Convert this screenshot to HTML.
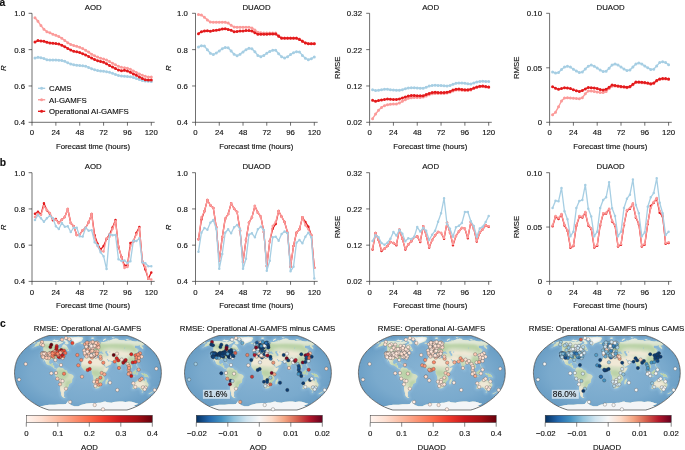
<!DOCTYPE html>
<html lang="en"><head><meta charset="utf-8"><title>Figure</title>
<style>html,body{margin:0;padding:0;background:#fff}svg{display:block;opacity:0.9999;will-change:transform}text{stroke:#111;stroke-width:0.14px}</style></head>
<body>
<svg width="685" height="450" viewBox="0 0 685 450" font-family="'Liberation Sans', Arial, Helvetica, sans-serif" font-size="7.8" fill="#111">
<rect width="685" height="450" fill="#fff"/>
<g stroke="#222" stroke-width="0.65" fill="none">
<path d="M32 13.3V122.3H154.7"/>
<path d="M32 13.3h-3.4M32 49.63h-3.4M32 85.97h-3.4M32 122.3h-3.4M32 122.3v3.4M55.86 122.3v3.4M79.72 122.3v3.4M103.58 122.3v3.4M127.44 122.3v3.4M151.3 122.3v3.4"/>
</g>
<g text-anchor="end">
<text x="25.1" y="16.2">1.0</text>
<text x="25.1" y="52.53">0.8</text>
<text x="25.1" y="88.87">0.6</text>
<text x="25.1" y="125.2">0.4</text>
</g>
<g text-anchor="middle">
<text x="32" y="135.45">0</text>
<text x="55.86" y="135.45">24</text>
<text x="79.72" y="135.45">48</text>
<text x="103.58" y="135.45">72</text>
<text x="127.44" y="135.45">96</text>
<text x="151.3" y="135.45">120</text>
<text x="92.95" y="148.55">Forecast time (hours)</text>
<text x="93.25" y="9.7">AOD</text>
<text transform="translate(5.7 68.2) rotate(-90)" font-style="italic">R</text>
</g>
<g stroke="#222" stroke-width="0.65" fill="none">
<path d="M195.5 13.3V122.3H317.7"/>
<path d="M195.5 13.3h-3.4M195.5 49.63h-3.4M195.5 85.97h-3.4M195.5 122.3h-3.4M195.5 122.3v3.4M219.26 122.3v3.4M243.02 122.3v3.4M266.78 122.3v3.4M290.54 122.3v3.4M314.3 122.3v3.4"/>
</g>
<g text-anchor="end">
<text x="187.9" y="16.2">1.0</text>
<text x="187.9" y="52.53">0.8</text>
<text x="187.9" y="88.87">0.6</text>
<text x="187.9" y="125.2">0.4</text>
</g>
<g text-anchor="middle">
<text x="195.5" y="135.45">0</text>
<text x="219.26" y="135.45">24</text>
<text x="243.02" y="135.45">48</text>
<text x="266.78" y="135.45">72</text>
<text x="290.54" y="135.45">96</text>
<text x="314.3" y="135.45">120</text>
<text x="256.2" y="148.55">Forecast time (hours)</text>
<text x="256.5" y="9.7">DUAOD</text>
<text transform="translate(171 68.2) rotate(-90)" font-style="italic">R</text>
</g>
<g stroke="#222" stroke-width="0.65" fill="none">
<path d="M369.6 13.3V122.3H491.8"/>
<path d="M369.6 13.3h-3.4M369.6 49.63h-3.4M369.6 85.97h-3.4M369.6 122.3h-3.4M369.6 122.3v3.4M393.42 122.3v3.4M417.24 122.3v3.4M441.06 122.3v3.4M464.88 122.3v3.4M488.7 122.3v3.4"/>
</g>
<g text-anchor="end">
<text x="362" y="16.2">0.32</text>
<text x="362" y="52.53">0.22</text>
<text x="362" y="88.87">0.12</text>
<text x="362" y="125.2">0.02</text>
</g>
<g text-anchor="middle">
<text x="369.6" y="135.45">0</text>
<text x="393.42" y="135.45">24</text>
<text x="417.24" y="135.45">48</text>
<text x="441.06" y="135.45">72</text>
<text x="464.88" y="135.45">96</text>
<text x="488.7" y="135.45">120</text>
<text x="430.3" y="148.55">Forecast time (hours)</text>
<text x="430.6" y="9.7">AOD</text>
<text transform="translate(340.3 67.8) rotate(-90)">RMSE</text>
</g>
<g stroke="#222" stroke-width="0.65" fill="none">
<path d="M549.6 13.3V122.3H671.8"/>
<path d="M549.6 13.3h-3.4M549.6 67.8h-3.4M549.6 122.3h-3.4M549.6 122.3v3.4M573.4 122.3v3.4M597.2 122.3v3.4M621 122.3v3.4M644.8 122.3v3.4M668.6 122.3v3.4"/>
</g>
<g text-anchor="end">
<text x="542" y="16.2">0.10</text>
<text x="542" y="70.7">0.05</text>
<text x="542" y="125.2">0</text>
</g>
<g text-anchor="middle">
<text x="549.6" y="135.45">0</text>
<text x="573.4" y="135.45">24</text>
<text x="597.2" y="135.45">48</text>
<text x="621" y="135.45">72</text>
<text x="644.8" y="135.45">96</text>
<text x="668.6" y="135.45">120</text>
<text x="610.3" y="148.55">Forecast time (hours)</text>
<text x="610.6" y="9.7">DUAOD</text>
<text transform="translate(519.4 67.8) rotate(-90)">RMSE</text>
</g>
<g stroke="#a6cee3" fill="#a6cee3">
<polyline fill="none" stroke-width="1.4" stroke-linejoin="round" points="34.98,58 37.97,57.31 40.95,57.69 43.93,58.59 46.91,59.67 49.9,59.96 52.88,60 55.86,60 58.84,60.18 61.83,60.54 64.81,61.37 67.79,62.78 70.77,64.04 73.75,64.77 76.74,65.13 79.72,65.49 82.7,65.85 85.69,66.2 88.67,67.46 91.65,68.72 94.63,69.82 97.62,70.57 100.6,70.9 103.58,71.17 106.56,71.63 109.55,72.37 112.53,73.33 115.51,74.47 118.49,75.43 121.48,75.96 124.46,76.25 127.44,76.52 130.42,76.85 133.41,77.52 136.39,78.55 139.37,79.61 142.35,80.44 145.34,81.03 148.32,81.3 151.3,81.39"/>
<path stroke="none" d="M33.48 58a1.5 1.5 0 1 0 3 0a1.5 1.5 0 1 0 -3 0M36.47 57.31a1.5 1.5 0 1 0 3 0a1.5 1.5 0 1 0 -3 0M39.45 57.69a1.5 1.5 0 1 0 3 0a1.5 1.5 0 1 0 -3 0M42.43 58.59a1.5 1.5 0 1 0 3 0a1.5 1.5 0 1 0 -3 0M45.41 59.67a1.5 1.5 0 1 0 3 0a1.5 1.5 0 1 0 -3 0M48.4 59.96a1.5 1.5 0 1 0 3 0a1.5 1.5 0 1 0 -3 0M51.38 60a1.5 1.5 0 1 0 3 0a1.5 1.5 0 1 0 -3 0M54.36 60a1.5 1.5 0 1 0 3 0a1.5 1.5 0 1 0 -3 0M57.34 60.18a1.5 1.5 0 1 0 3 0a1.5 1.5 0 1 0 -3 0M60.33 60.54a1.5 1.5 0 1 0 3 0a1.5 1.5 0 1 0 -3 0M63.31 61.37a1.5 1.5 0 1 0 3 0a1.5 1.5 0 1 0 -3 0M66.29 62.78a1.5 1.5 0 1 0 3 0a1.5 1.5 0 1 0 -3 0M69.27 64.04a1.5 1.5 0 1 0 3 0a1.5 1.5 0 1 0 -3 0M72.25 64.77a1.5 1.5 0 1 0 3 0a1.5 1.5 0 1 0 -3 0M75.24 65.13a1.5 1.5 0 1 0 3 0a1.5 1.5 0 1 0 -3 0M78.22 65.49a1.5 1.5 0 1 0 3 0a1.5 1.5 0 1 0 -3 0M81.2 65.85a1.5 1.5 0 1 0 3 0a1.5 1.5 0 1 0 -3 0M84.19 66.2a1.5 1.5 0 1 0 3 0a1.5 1.5 0 1 0 -3 0M87.17 67.46a1.5 1.5 0 1 0 3 0a1.5 1.5 0 1 0 -3 0M90.15 68.72a1.5 1.5 0 1 0 3 0a1.5 1.5 0 1 0 -3 0M93.13 69.82a1.5 1.5 0 1 0 3 0a1.5 1.5 0 1 0 -3 0M96.12 70.57a1.5 1.5 0 1 0 3 0a1.5 1.5 0 1 0 -3 0M99.1 70.9a1.5 1.5 0 1 0 3 0a1.5 1.5 0 1 0 -3 0M102.08 71.17a1.5 1.5 0 1 0 3 0a1.5 1.5 0 1 0 -3 0M105.06 71.63a1.5 1.5 0 1 0 3 0a1.5 1.5 0 1 0 -3 0M108.05 72.37a1.5 1.5 0 1 0 3 0a1.5 1.5 0 1 0 -3 0M111.03 73.33a1.5 1.5 0 1 0 3 0a1.5 1.5 0 1 0 -3 0M114.01 74.47a1.5 1.5 0 1 0 3 0a1.5 1.5 0 1 0 -3 0M116.99 75.43a1.5 1.5 0 1 0 3 0a1.5 1.5 0 1 0 -3 0M119.98 75.96a1.5 1.5 0 1 0 3 0a1.5 1.5 0 1 0 -3 0M122.96 76.25a1.5 1.5 0 1 0 3 0a1.5 1.5 0 1 0 -3 0M125.94 76.52a1.5 1.5 0 1 0 3 0a1.5 1.5 0 1 0 -3 0M128.92 76.85a1.5 1.5 0 1 0 3 0a1.5 1.5 0 1 0 -3 0M131.91 77.52a1.5 1.5 0 1 0 3 0a1.5 1.5 0 1 0 -3 0M134.89 78.55a1.5 1.5 0 1 0 3 0a1.5 1.5 0 1 0 -3 0M137.87 79.61a1.5 1.5 0 1 0 3 0a1.5 1.5 0 1 0 -3 0M140.85 80.44a1.5 1.5 0 1 0 3 0a1.5 1.5 0 1 0 -3 0M143.84 81.03a1.5 1.5 0 1 0 3 0a1.5 1.5 0 1 0 -3 0M146.82 81.3a1.5 1.5 0 1 0 3 0a1.5 1.5 0 1 0 -3 0M149.8 81.39a1.5 1.5 0 1 0 3 0a1.5 1.5 0 1 0 -3 0"/>
</g>
<g stroke="#fb9a99" fill="#fb9a99">
<polyline fill="none" stroke-width="1.4" stroke-linejoin="round" points="34.98,17.7 37.97,21.29 40.95,25.62 43.93,29.25 46.91,31.64 49.9,32.84 52.88,34.21 55.86,35.32 58.84,36.59 61.83,38.29 64.81,40.48 67.79,42.8 70.77,44.4 73.75,45.43 76.74,46.31 79.72,47.28 82.7,48.54 85.69,50.29 88.67,52.1 91.65,54.15 94.63,55.77 97.62,57.11 100.6,58.14 103.58,58.88 106.56,60.05 109.55,61.62 112.53,63.18 115.51,64.86 118.49,66.36 121.48,67.33 124.46,67.65 127.44,68.14 130.42,69.36 133.41,70.88 136.39,72.41 139.37,73.9 142.35,75.26 145.34,76.37 148.32,77 151.3,77"/>
<path stroke="none" d="M33.48 17.7a1.5 1.5 0 1 0 3 0a1.5 1.5 0 1 0 -3 0M36.47 21.29a1.5 1.5 0 1 0 3 0a1.5 1.5 0 1 0 -3 0M39.45 25.62a1.5 1.5 0 1 0 3 0a1.5 1.5 0 1 0 -3 0M42.43 29.25a1.5 1.5 0 1 0 3 0a1.5 1.5 0 1 0 -3 0M45.41 31.64a1.5 1.5 0 1 0 3 0a1.5 1.5 0 1 0 -3 0M48.4 32.84a1.5 1.5 0 1 0 3 0a1.5 1.5 0 1 0 -3 0M51.38 34.21a1.5 1.5 0 1 0 3 0a1.5 1.5 0 1 0 -3 0M54.36 35.32a1.5 1.5 0 1 0 3 0a1.5 1.5 0 1 0 -3 0M57.34 36.59a1.5 1.5 0 1 0 3 0a1.5 1.5 0 1 0 -3 0M60.33 38.29a1.5 1.5 0 1 0 3 0a1.5 1.5 0 1 0 -3 0M63.31 40.48a1.5 1.5 0 1 0 3 0a1.5 1.5 0 1 0 -3 0M66.29 42.8a1.5 1.5 0 1 0 3 0a1.5 1.5 0 1 0 -3 0M69.27 44.4a1.5 1.5 0 1 0 3 0a1.5 1.5 0 1 0 -3 0M72.25 45.43a1.5 1.5 0 1 0 3 0a1.5 1.5 0 1 0 -3 0M75.24 46.31a1.5 1.5 0 1 0 3 0a1.5 1.5 0 1 0 -3 0M78.22 47.28a1.5 1.5 0 1 0 3 0a1.5 1.5 0 1 0 -3 0M81.2 48.54a1.5 1.5 0 1 0 3 0a1.5 1.5 0 1 0 -3 0M84.19 50.29a1.5 1.5 0 1 0 3 0a1.5 1.5 0 1 0 -3 0M87.17 52.1a1.5 1.5 0 1 0 3 0a1.5 1.5 0 1 0 -3 0M90.15 54.15a1.5 1.5 0 1 0 3 0a1.5 1.5 0 1 0 -3 0M93.13 55.77a1.5 1.5 0 1 0 3 0a1.5 1.5 0 1 0 -3 0M96.12 57.11a1.5 1.5 0 1 0 3 0a1.5 1.5 0 1 0 -3 0M99.1 58.14a1.5 1.5 0 1 0 3 0a1.5 1.5 0 1 0 -3 0M102.08 58.88a1.5 1.5 0 1 0 3 0a1.5 1.5 0 1 0 -3 0M105.06 60.05a1.5 1.5 0 1 0 3 0a1.5 1.5 0 1 0 -3 0M108.05 61.62a1.5 1.5 0 1 0 3 0a1.5 1.5 0 1 0 -3 0M111.03 63.18a1.5 1.5 0 1 0 3 0a1.5 1.5 0 1 0 -3 0M114.01 64.86a1.5 1.5 0 1 0 3 0a1.5 1.5 0 1 0 -3 0M116.99 66.36a1.5 1.5 0 1 0 3 0a1.5 1.5 0 1 0 -3 0M119.98 67.33a1.5 1.5 0 1 0 3 0a1.5 1.5 0 1 0 -3 0M122.96 67.65a1.5 1.5 0 1 0 3 0a1.5 1.5 0 1 0 -3 0M125.94 68.14a1.5 1.5 0 1 0 3 0a1.5 1.5 0 1 0 -3 0M128.92 69.36a1.5 1.5 0 1 0 3 0a1.5 1.5 0 1 0 -3 0M131.91 70.88a1.5 1.5 0 1 0 3 0a1.5 1.5 0 1 0 -3 0M134.89 72.41a1.5 1.5 0 1 0 3 0a1.5 1.5 0 1 0 -3 0M137.87 73.9a1.5 1.5 0 1 0 3 0a1.5 1.5 0 1 0 -3 0M140.85 75.26a1.5 1.5 0 1 0 3 0a1.5 1.5 0 1 0 -3 0M143.84 76.37a1.5 1.5 0 1 0 3 0a1.5 1.5 0 1 0 -3 0M146.82 77a1.5 1.5 0 1 0 3 0a1.5 1.5 0 1 0 -3 0M149.8 77a1.5 1.5 0 1 0 3 0a1.5 1.5 0 1 0 -3 0"/>
</g>
<g stroke="#e31a1c" fill="#e31a1c">
<polyline fill="none" stroke-width="1.4" stroke-linejoin="round" points="34.98,42 37.97,40.62 40.95,40.99 43.93,41.27 46.91,42.27 49.9,42.91 52.88,43.3 55.86,43.6 58.84,44.11 61.83,45.2 64.81,46.84 67.79,48.41 70.77,50.05 73.75,51.29 76.74,51.86 79.72,52.53 82.7,53.67 85.69,54.99 88.67,56.5 91.65,58.03 94.63,59.53 97.62,60.67 100.6,61.4 103.58,62.13 106.56,63.83 109.55,65.62 112.53,67.1 115.51,68.56 118.49,70.04 121.48,70.65 124.46,70.37 127.44,71.04 130.42,72.36 133.41,73.88 136.39,75.37 139.37,76.93 142.35,78.58 145.34,79.73 148.32,80 151.3,80"/>
<path stroke="none" d="M33.48 42a1.5 1.5 0 1 0 3 0a1.5 1.5 0 1 0 -3 0M36.47 40.62a1.5 1.5 0 1 0 3 0a1.5 1.5 0 1 0 -3 0M39.45 40.99a1.5 1.5 0 1 0 3 0a1.5 1.5 0 1 0 -3 0M42.43 41.27a1.5 1.5 0 1 0 3 0a1.5 1.5 0 1 0 -3 0M45.41 42.27a1.5 1.5 0 1 0 3 0a1.5 1.5 0 1 0 -3 0M48.4 42.91a1.5 1.5 0 1 0 3 0a1.5 1.5 0 1 0 -3 0M51.38 43.3a1.5 1.5 0 1 0 3 0a1.5 1.5 0 1 0 -3 0M54.36 43.6a1.5 1.5 0 1 0 3 0a1.5 1.5 0 1 0 -3 0M57.34 44.11a1.5 1.5 0 1 0 3 0a1.5 1.5 0 1 0 -3 0M60.33 45.2a1.5 1.5 0 1 0 3 0a1.5 1.5 0 1 0 -3 0M63.31 46.84a1.5 1.5 0 1 0 3 0a1.5 1.5 0 1 0 -3 0M66.29 48.41a1.5 1.5 0 1 0 3 0a1.5 1.5 0 1 0 -3 0M69.27 50.05a1.5 1.5 0 1 0 3 0a1.5 1.5 0 1 0 -3 0M72.25 51.29a1.5 1.5 0 1 0 3 0a1.5 1.5 0 1 0 -3 0M75.24 51.86a1.5 1.5 0 1 0 3 0a1.5 1.5 0 1 0 -3 0M78.22 52.53a1.5 1.5 0 1 0 3 0a1.5 1.5 0 1 0 -3 0M81.2 53.67a1.5 1.5 0 1 0 3 0a1.5 1.5 0 1 0 -3 0M84.19 54.99a1.5 1.5 0 1 0 3 0a1.5 1.5 0 1 0 -3 0M87.17 56.5a1.5 1.5 0 1 0 3 0a1.5 1.5 0 1 0 -3 0M90.15 58.03a1.5 1.5 0 1 0 3 0a1.5 1.5 0 1 0 -3 0M93.13 59.53a1.5 1.5 0 1 0 3 0a1.5 1.5 0 1 0 -3 0M96.12 60.67a1.5 1.5 0 1 0 3 0a1.5 1.5 0 1 0 -3 0M99.1 61.4a1.5 1.5 0 1 0 3 0a1.5 1.5 0 1 0 -3 0M102.08 62.13a1.5 1.5 0 1 0 3 0a1.5 1.5 0 1 0 -3 0M105.06 63.83a1.5 1.5 0 1 0 3 0a1.5 1.5 0 1 0 -3 0M108.05 65.62a1.5 1.5 0 1 0 3 0a1.5 1.5 0 1 0 -3 0M111.03 67.1a1.5 1.5 0 1 0 3 0a1.5 1.5 0 1 0 -3 0M114.01 68.56a1.5 1.5 0 1 0 3 0a1.5 1.5 0 1 0 -3 0M116.99 70.04a1.5 1.5 0 1 0 3 0a1.5 1.5 0 1 0 -3 0M119.98 70.65a1.5 1.5 0 1 0 3 0a1.5 1.5 0 1 0 -3 0M122.96 70.37a1.5 1.5 0 1 0 3 0a1.5 1.5 0 1 0 -3 0M125.94 71.04a1.5 1.5 0 1 0 3 0a1.5 1.5 0 1 0 -3 0M128.92 72.36a1.5 1.5 0 1 0 3 0a1.5 1.5 0 1 0 -3 0M131.91 73.88a1.5 1.5 0 1 0 3 0a1.5 1.5 0 1 0 -3 0M134.89 75.37a1.5 1.5 0 1 0 3 0a1.5 1.5 0 1 0 -3 0M137.87 76.93a1.5 1.5 0 1 0 3 0a1.5 1.5 0 1 0 -3 0M140.85 78.58a1.5 1.5 0 1 0 3 0a1.5 1.5 0 1 0 -3 0M143.84 79.73a1.5 1.5 0 1 0 3 0a1.5 1.5 0 1 0 -3 0M146.82 80a1.5 1.5 0 1 0 3 0a1.5 1.5 0 1 0 -3 0M149.8 80a1.5 1.5 0 1 0 3 0a1.5 1.5 0 1 0 -3 0"/>
</g>
<g stroke="#a6cee3" fill="#a6cee3">
<polyline fill="none" stroke-width="1.4" stroke-linejoin="round" points="198.47,47 201.44,45.7 204.41,46.1 207.38,49.7 210.35,53.3 213.32,54.6 216.29,53 219.26,51 222.23,48.7 225.2,47.4 228.17,47.7 231.14,51 234.11,54.3 237.08,55.7 240.05,54.3 243.02,51.9 245.99,49.7 248.96,48.3 251.93,48.7 254.9,51.7 257.87,55.4 260.84,56.7 263.81,55.4 266.78,53.2 269.75,51.4 272.72,50.3 275.69,50.3 278.66,53.7 281.63,56.7 284.6,58.1 287.57,56.7 290.54,54.6 293.51,52.7 296.48,51.7 299.45,51.9 302.42,55.4 305.39,58.3 308.36,59.7 311.33,58.7 314.3,57"/>
<path stroke="none" d="M196.97 47a1.5 1.5 0 1 0 3 0a1.5 1.5 0 1 0 -3 0M199.94 45.7a1.5 1.5 0 1 0 3 0a1.5 1.5 0 1 0 -3 0M202.91 46.1a1.5 1.5 0 1 0 3 0a1.5 1.5 0 1 0 -3 0M205.88 49.7a1.5 1.5 0 1 0 3 0a1.5 1.5 0 1 0 -3 0M208.85 53.3a1.5 1.5 0 1 0 3 0a1.5 1.5 0 1 0 -3 0M211.82 54.6a1.5 1.5 0 1 0 3 0a1.5 1.5 0 1 0 -3 0M214.79 53a1.5 1.5 0 1 0 3 0a1.5 1.5 0 1 0 -3 0M217.76 51a1.5 1.5 0 1 0 3 0a1.5 1.5 0 1 0 -3 0M220.73 48.7a1.5 1.5 0 1 0 3 0a1.5 1.5 0 1 0 -3 0M223.7 47.4a1.5 1.5 0 1 0 3 0a1.5 1.5 0 1 0 -3 0M226.67 47.7a1.5 1.5 0 1 0 3 0a1.5 1.5 0 1 0 -3 0M229.64 51a1.5 1.5 0 1 0 3 0a1.5 1.5 0 1 0 -3 0M232.61 54.3a1.5 1.5 0 1 0 3 0a1.5 1.5 0 1 0 -3 0M235.58 55.7a1.5 1.5 0 1 0 3 0a1.5 1.5 0 1 0 -3 0M238.55 54.3a1.5 1.5 0 1 0 3 0a1.5 1.5 0 1 0 -3 0M241.52 51.9a1.5 1.5 0 1 0 3 0a1.5 1.5 0 1 0 -3 0M244.49 49.7a1.5 1.5 0 1 0 3 0a1.5 1.5 0 1 0 -3 0M247.46 48.3a1.5 1.5 0 1 0 3 0a1.5 1.5 0 1 0 -3 0M250.43 48.7a1.5 1.5 0 1 0 3 0a1.5 1.5 0 1 0 -3 0M253.4 51.7a1.5 1.5 0 1 0 3 0a1.5 1.5 0 1 0 -3 0M256.37 55.4a1.5 1.5 0 1 0 3 0a1.5 1.5 0 1 0 -3 0M259.34 56.7a1.5 1.5 0 1 0 3 0a1.5 1.5 0 1 0 -3 0M262.31 55.4a1.5 1.5 0 1 0 3 0a1.5 1.5 0 1 0 -3 0M265.28 53.2a1.5 1.5 0 1 0 3 0a1.5 1.5 0 1 0 -3 0M268.25 51.4a1.5 1.5 0 1 0 3 0a1.5 1.5 0 1 0 -3 0M271.22 50.3a1.5 1.5 0 1 0 3 0a1.5 1.5 0 1 0 -3 0M274.19 50.3a1.5 1.5 0 1 0 3 0a1.5 1.5 0 1 0 -3 0M277.16 53.7a1.5 1.5 0 1 0 3 0a1.5 1.5 0 1 0 -3 0M280.13 56.7a1.5 1.5 0 1 0 3 0a1.5 1.5 0 1 0 -3 0M283.1 58.1a1.5 1.5 0 1 0 3 0a1.5 1.5 0 1 0 -3 0M286.07 56.7a1.5 1.5 0 1 0 3 0a1.5 1.5 0 1 0 -3 0M289.04 54.6a1.5 1.5 0 1 0 3 0a1.5 1.5 0 1 0 -3 0M292.01 52.7a1.5 1.5 0 1 0 3 0a1.5 1.5 0 1 0 -3 0M294.98 51.7a1.5 1.5 0 1 0 3 0a1.5 1.5 0 1 0 -3 0M297.95 51.9a1.5 1.5 0 1 0 3 0a1.5 1.5 0 1 0 -3 0M300.92 55.4a1.5 1.5 0 1 0 3 0a1.5 1.5 0 1 0 -3 0M303.89 58.3a1.5 1.5 0 1 0 3 0a1.5 1.5 0 1 0 -3 0M306.86 59.7a1.5 1.5 0 1 0 3 0a1.5 1.5 0 1 0 -3 0M309.83 58.7a1.5 1.5 0 1 0 3 0a1.5 1.5 0 1 0 -3 0M312.8 57a1.5 1.5 0 1 0 3 0a1.5 1.5 0 1 0 -3 0"/>
</g>
<g stroke="#fb9a99" fill="#fb9a99">
<polyline fill="none" stroke-width="1.4" stroke-linejoin="round" points="198.47,14.6 201.44,15 204.41,17.3 207.38,19.9 210.35,22.1 213.32,22.3 216.29,22.3 219.26,22.3 222.23,22.2 225.2,22.2 228.17,23 231.14,25.3 234.11,27 237.08,27.3 240.05,27.3 243.02,27.3 245.99,27.3 248.96,27.3 251.93,27.9 254.9,30 257.87,32.3 260.84,32.8 263.81,32.9 266.78,32.9 269.75,33 272.72,33 275.69,33.1 278.66,35.6 281.63,37.8 284.6,37.9 287.57,37.9 290.54,37.9 293.51,37.9 296.48,37.9 299.45,39.1 302.42,41 305.39,42.7 308.36,43.4 311.33,43.5 314.3,43.5"/>
<path stroke="none" d="M196.97 14.6a1.5 1.5 0 1 0 3 0a1.5 1.5 0 1 0 -3 0M199.94 15a1.5 1.5 0 1 0 3 0a1.5 1.5 0 1 0 -3 0M202.91 17.3a1.5 1.5 0 1 0 3 0a1.5 1.5 0 1 0 -3 0M205.88 19.9a1.5 1.5 0 1 0 3 0a1.5 1.5 0 1 0 -3 0M208.85 22.1a1.5 1.5 0 1 0 3 0a1.5 1.5 0 1 0 -3 0M211.82 22.3a1.5 1.5 0 1 0 3 0a1.5 1.5 0 1 0 -3 0M214.79 22.3a1.5 1.5 0 1 0 3 0a1.5 1.5 0 1 0 -3 0M217.76 22.3a1.5 1.5 0 1 0 3 0a1.5 1.5 0 1 0 -3 0M220.73 22.2a1.5 1.5 0 1 0 3 0a1.5 1.5 0 1 0 -3 0M223.7 22.2a1.5 1.5 0 1 0 3 0a1.5 1.5 0 1 0 -3 0M226.67 23a1.5 1.5 0 1 0 3 0a1.5 1.5 0 1 0 -3 0M229.64 25.3a1.5 1.5 0 1 0 3 0a1.5 1.5 0 1 0 -3 0M232.61 27a1.5 1.5 0 1 0 3 0a1.5 1.5 0 1 0 -3 0M235.58 27.3a1.5 1.5 0 1 0 3 0a1.5 1.5 0 1 0 -3 0M238.55 27.3a1.5 1.5 0 1 0 3 0a1.5 1.5 0 1 0 -3 0M241.52 27.3a1.5 1.5 0 1 0 3 0a1.5 1.5 0 1 0 -3 0M244.49 27.3a1.5 1.5 0 1 0 3 0a1.5 1.5 0 1 0 -3 0M247.46 27.3a1.5 1.5 0 1 0 3 0a1.5 1.5 0 1 0 -3 0M250.43 27.9a1.5 1.5 0 1 0 3 0a1.5 1.5 0 1 0 -3 0M253.4 30a1.5 1.5 0 1 0 3 0a1.5 1.5 0 1 0 -3 0M256.37 32.3a1.5 1.5 0 1 0 3 0a1.5 1.5 0 1 0 -3 0M259.34 32.8a1.5 1.5 0 1 0 3 0a1.5 1.5 0 1 0 -3 0M262.31 32.9a1.5 1.5 0 1 0 3 0a1.5 1.5 0 1 0 -3 0M265.28 32.9a1.5 1.5 0 1 0 3 0a1.5 1.5 0 1 0 -3 0M268.25 33a1.5 1.5 0 1 0 3 0a1.5 1.5 0 1 0 -3 0M271.22 33a1.5 1.5 0 1 0 3 0a1.5 1.5 0 1 0 -3 0M274.19 33.1a1.5 1.5 0 1 0 3 0a1.5 1.5 0 1 0 -3 0M277.16 35.6a1.5 1.5 0 1 0 3 0a1.5 1.5 0 1 0 -3 0M280.13 37.8a1.5 1.5 0 1 0 3 0a1.5 1.5 0 1 0 -3 0M283.1 37.9a1.5 1.5 0 1 0 3 0a1.5 1.5 0 1 0 -3 0M286.07 37.9a1.5 1.5 0 1 0 3 0a1.5 1.5 0 1 0 -3 0M289.04 37.9a1.5 1.5 0 1 0 3 0a1.5 1.5 0 1 0 -3 0M292.01 37.9a1.5 1.5 0 1 0 3 0a1.5 1.5 0 1 0 -3 0M294.98 37.9a1.5 1.5 0 1 0 3 0a1.5 1.5 0 1 0 -3 0M297.95 39.1a1.5 1.5 0 1 0 3 0a1.5 1.5 0 1 0 -3 0M300.92 41a1.5 1.5 0 1 0 3 0a1.5 1.5 0 1 0 -3 0M303.89 42.7a1.5 1.5 0 1 0 3 0a1.5 1.5 0 1 0 -3 0M306.86 43.4a1.5 1.5 0 1 0 3 0a1.5 1.5 0 1 0 -3 0M309.83 43.5a1.5 1.5 0 1 0 3 0a1.5 1.5 0 1 0 -3 0M312.8 43.5a1.5 1.5 0 1 0 3 0a1.5 1.5 0 1 0 -3 0"/>
</g>
<g stroke="#e31a1c" fill="#e31a1c">
<polyline fill="none" stroke-width="1.4" stroke-linejoin="round" points="198.47,33.7 201.44,31.7 204.41,31 207.38,30.7 210.35,31.3 213.32,30.6 216.29,30.3 219.26,29.7 222.23,29 225.2,28.7 228.17,29.4 231.14,30.3 234.11,31.7 237.08,31.4 240.05,31.1 243.02,30.9 245.99,30.6 248.96,30.6 251.93,31.1 254.9,32.7 257.87,34.3 260.84,34.2 263.81,34.2 266.78,34.2 269.75,34.1 272.72,34.1 275.69,34.1 278.66,36.3 281.63,38.3 284.6,38.3 287.57,38.3 290.54,38.3 293.51,38.3 296.48,38.3 299.45,39.4 302.42,41.3 305.39,43 308.36,43.7 311.33,43.7 314.3,43.7"/>
<path stroke="none" d="M196.97 33.7a1.5 1.5 0 1 0 3 0a1.5 1.5 0 1 0 -3 0M199.94 31.7a1.5 1.5 0 1 0 3 0a1.5 1.5 0 1 0 -3 0M202.91 31a1.5 1.5 0 1 0 3 0a1.5 1.5 0 1 0 -3 0M205.88 30.7a1.5 1.5 0 1 0 3 0a1.5 1.5 0 1 0 -3 0M208.85 31.3a1.5 1.5 0 1 0 3 0a1.5 1.5 0 1 0 -3 0M211.82 30.6a1.5 1.5 0 1 0 3 0a1.5 1.5 0 1 0 -3 0M214.79 30.3a1.5 1.5 0 1 0 3 0a1.5 1.5 0 1 0 -3 0M217.76 29.7a1.5 1.5 0 1 0 3 0a1.5 1.5 0 1 0 -3 0M220.73 29a1.5 1.5 0 1 0 3 0a1.5 1.5 0 1 0 -3 0M223.7 28.7a1.5 1.5 0 1 0 3 0a1.5 1.5 0 1 0 -3 0M226.67 29.4a1.5 1.5 0 1 0 3 0a1.5 1.5 0 1 0 -3 0M229.64 30.3a1.5 1.5 0 1 0 3 0a1.5 1.5 0 1 0 -3 0M232.61 31.7a1.5 1.5 0 1 0 3 0a1.5 1.5 0 1 0 -3 0M235.58 31.4a1.5 1.5 0 1 0 3 0a1.5 1.5 0 1 0 -3 0M238.55 31.1a1.5 1.5 0 1 0 3 0a1.5 1.5 0 1 0 -3 0M241.52 30.9a1.5 1.5 0 1 0 3 0a1.5 1.5 0 1 0 -3 0M244.49 30.6a1.5 1.5 0 1 0 3 0a1.5 1.5 0 1 0 -3 0M247.46 30.6a1.5 1.5 0 1 0 3 0a1.5 1.5 0 1 0 -3 0M250.43 31.1a1.5 1.5 0 1 0 3 0a1.5 1.5 0 1 0 -3 0M253.4 32.7a1.5 1.5 0 1 0 3 0a1.5 1.5 0 1 0 -3 0M256.37 34.3a1.5 1.5 0 1 0 3 0a1.5 1.5 0 1 0 -3 0M259.34 34.2a1.5 1.5 0 1 0 3 0a1.5 1.5 0 1 0 -3 0M262.31 34.2a1.5 1.5 0 1 0 3 0a1.5 1.5 0 1 0 -3 0M265.28 34.2a1.5 1.5 0 1 0 3 0a1.5 1.5 0 1 0 -3 0M268.25 34.1a1.5 1.5 0 1 0 3 0a1.5 1.5 0 1 0 -3 0M271.22 34.1a1.5 1.5 0 1 0 3 0a1.5 1.5 0 1 0 -3 0M274.19 34.1a1.5 1.5 0 1 0 3 0a1.5 1.5 0 1 0 -3 0M277.16 36.3a1.5 1.5 0 1 0 3 0a1.5 1.5 0 1 0 -3 0M280.13 38.3a1.5 1.5 0 1 0 3 0a1.5 1.5 0 1 0 -3 0M283.1 38.3a1.5 1.5 0 1 0 3 0a1.5 1.5 0 1 0 -3 0M286.07 38.3a1.5 1.5 0 1 0 3 0a1.5 1.5 0 1 0 -3 0M289.04 38.3a1.5 1.5 0 1 0 3 0a1.5 1.5 0 1 0 -3 0M292.01 38.3a1.5 1.5 0 1 0 3 0a1.5 1.5 0 1 0 -3 0M294.98 38.3a1.5 1.5 0 1 0 3 0a1.5 1.5 0 1 0 -3 0M297.95 39.4a1.5 1.5 0 1 0 3 0a1.5 1.5 0 1 0 -3 0M300.92 41.3a1.5 1.5 0 1 0 3 0a1.5 1.5 0 1 0 -3 0M303.89 43a1.5 1.5 0 1 0 3 0a1.5 1.5 0 1 0 -3 0M306.86 43.7a1.5 1.5 0 1 0 3 0a1.5 1.5 0 1 0 -3 0M309.83 43.7a1.5 1.5 0 1 0 3 0a1.5 1.5 0 1 0 -3 0M312.8 43.7a1.5 1.5 0 1 0 3 0a1.5 1.5 0 1 0 -3 0"/>
</g>
<g stroke="#a6cee3" fill="#a6cee3">
<polyline fill="none" stroke-width="1.4" stroke-linejoin="round" points="372.58,89.7 375.56,90.6 378.53,90.3 381.51,89.7 384.49,89.3 387.47,89.3 390.44,89.7 393.42,89.9 396.4,90.2 399.38,90.3 402.35,89.7 405.33,88.7 408.31,87.9 411.29,87.7 414.26,87.7 417.24,87.9 420.22,88.2 423.19,88.2 426.17,87.3 429.15,86.1 432.13,85.4 435.11,85.3 438.08,85.4 441.06,85.5 444.04,85.7 447.01,85.9 449.99,85.4 452.97,84.3 455.95,83.3 458.93,83 461.9,83.1 464.88,83.3 467.86,83.7 470.83,83.9 473.81,83 476.79,81.9 479.77,81.4 482.75,81.3 485.72,81.4 488.7,81.4"/>
<path stroke="none" d="M371.08 89.7a1.5 1.5 0 1 0 3 0a1.5 1.5 0 1 0 -3 0M374.06 90.6a1.5 1.5 0 1 0 3 0a1.5 1.5 0 1 0 -3 0M377.03 90.3a1.5 1.5 0 1 0 3 0a1.5 1.5 0 1 0 -3 0M380.01 89.7a1.5 1.5 0 1 0 3 0a1.5 1.5 0 1 0 -3 0M382.99 89.3a1.5 1.5 0 1 0 3 0a1.5 1.5 0 1 0 -3 0M385.97 89.3a1.5 1.5 0 1 0 3 0a1.5 1.5 0 1 0 -3 0M388.94 89.7a1.5 1.5 0 1 0 3 0a1.5 1.5 0 1 0 -3 0M391.92 89.9a1.5 1.5 0 1 0 3 0a1.5 1.5 0 1 0 -3 0M394.9 90.2a1.5 1.5 0 1 0 3 0a1.5 1.5 0 1 0 -3 0M397.88 90.3a1.5 1.5 0 1 0 3 0a1.5 1.5 0 1 0 -3 0M400.85 89.7a1.5 1.5 0 1 0 3 0a1.5 1.5 0 1 0 -3 0M403.83 88.7a1.5 1.5 0 1 0 3 0a1.5 1.5 0 1 0 -3 0M406.81 87.9a1.5 1.5 0 1 0 3 0a1.5 1.5 0 1 0 -3 0M409.79 87.7a1.5 1.5 0 1 0 3 0a1.5 1.5 0 1 0 -3 0M412.76 87.7a1.5 1.5 0 1 0 3 0a1.5 1.5 0 1 0 -3 0M415.74 87.9a1.5 1.5 0 1 0 3 0a1.5 1.5 0 1 0 -3 0M418.72 88.2a1.5 1.5 0 1 0 3 0a1.5 1.5 0 1 0 -3 0M421.69 88.2a1.5 1.5 0 1 0 3 0a1.5 1.5 0 1 0 -3 0M424.67 87.3a1.5 1.5 0 1 0 3 0a1.5 1.5 0 1 0 -3 0M427.65 86.1a1.5 1.5 0 1 0 3 0a1.5 1.5 0 1 0 -3 0M430.63 85.4a1.5 1.5 0 1 0 3 0a1.5 1.5 0 1 0 -3 0M433.61 85.3a1.5 1.5 0 1 0 3 0a1.5 1.5 0 1 0 -3 0M436.58 85.4a1.5 1.5 0 1 0 3 0a1.5 1.5 0 1 0 -3 0M439.56 85.5a1.5 1.5 0 1 0 3 0a1.5 1.5 0 1 0 -3 0M442.54 85.7a1.5 1.5 0 1 0 3 0a1.5 1.5 0 1 0 -3 0M445.51 85.9a1.5 1.5 0 1 0 3 0a1.5 1.5 0 1 0 -3 0M448.49 85.4a1.5 1.5 0 1 0 3 0a1.5 1.5 0 1 0 -3 0M451.47 84.3a1.5 1.5 0 1 0 3 0a1.5 1.5 0 1 0 -3 0M454.45 83.3a1.5 1.5 0 1 0 3 0a1.5 1.5 0 1 0 -3 0M457.43 83a1.5 1.5 0 1 0 3 0a1.5 1.5 0 1 0 -3 0M460.4 83.1a1.5 1.5 0 1 0 3 0a1.5 1.5 0 1 0 -3 0M463.38 83.3a1.5 1.5 0 1 0 3 0a1.5 1.5 0 1 0 -3 0M466.36 83.7a1.5 1.5 0 1 0 3 0a1.5 1.5 0 1 0 -3 0M469.33 83.9a1.5 1.5 0 1 0 3 0a1.5 1.5 0 1 0 -3 0M472.31 83a1.5 1.5 0 1 0 3 0a1.5 1.5 0 1 0 -3 0M475.29 81.9a1.5 1.5 0 1 0 3 0a1.5 1.5 0 1 0 -3 0M478.27 81.4a1.5 1.5 0 1 0 3 0a1.5 1.5 0 1 0 -3 0M481.25 81.3a1.5 1.5 0 1 0 3 0a1.5 1.5 0 1 0 -3 0M484.22 81.4a1.5 1.5 0 1 0 3 0a1.5 1.5 0 1 0 -3 0M487.2 81.4a1.5 1.5 0 1 0 3 0a1.5 1.5 0 1 0 -3 0"/>
</g>
<g stroke="#fb9a99" fill="#fb9a99">
<polyline fill="none" stroke-width="1.4" stroke-linejoin="round" points="372.58,118.7 375.56,114.1 378.53,110.3 381.51,107.4 384.49,105.7 387.47,104.7 390.44,104.2 393.42,104.1 396.4,103.9 399.38,103 402.35,101.3 405.33,99.7 408.31,98.3 411.29,97.7 414.26,97.4 417.24,97.4 420.22,97.4 423.19,97 426.17,95.9 429.15,94.7 432.13,93.8 435.11,93.4 438.08,93.4 441.06,93.4 444.04,93.4 447.01,93.1 449.99,92.2 452.97,90.9 455.95,90.1 458.93,89.9 461.9,90.2 464.88,90.5 467.86,90.6 470.83,89.9 473.81,88.6 476.79,87.4 479.77,86.7 482.75,86.5 485.72,86.9 488.7,87.2"/>
<path stroke="none" d="M371.08 118.7a1.5 1.5 0 1 0 3 0a1.5 1.5 0 1 0 -3 0M374.06 114.1a1.5 1.5 0 1 0 3 0a1.5 1.5 0 1 0 -3 0M377.03 110.3a1.5 1.5 0 1 0 3 0a1.5 1.5 0 1 0 -3 0M380.01 107.4a1.5 1.5 0 1 0 3 0a1.5 1.5 0 1 0 -3 0M382.99 105.7a1.5 1.5 0 1 0 3 0a1.5 1.5 0 1 0 -3 0M385.97 104.7a1.5 1.5 0 1 0 3 0a1.5 1.5 0 1 0 -3 0M388.94 104.2a1.5 1.5 0 1 0 3 0a1.5 1.5 0 1 0 -3 0M391.92 104.1a1.5 1.5 0 1 0 3 0a1.5 1.5 0 1 0 -3 0M394.9 103.9a1.5 1.5 0 1 0 3 0a1.5 1.5 0 1 0 -3 0M397.88 103a1.5 1.5 0 1 0 3 0a1.5 1.5 0 1 0 -3 0M400.85 101.3a1.5 1.5 0 1 0 3 0a1.5 1.5 0 1 0 -3 0M403.83 99.7a1.5 1.5 0 1 0 3 0a1.5 1.5 0 1 0 -3 0M406.81 98.3a1.5 1.5 0 1 0 3 0a1.5 1.5 0 1 0 -3 0M409.79 97.7a1.5 1.5 0 1 0 3 0a1.5 1.5 0 1 0 -3 0M412.76 97.4a1.5 1.5 0 1 0 3 0a1.5 1.5 0 1 0 -3 0M415.74 97.4a1.5 1.5 0 1 0 3 0a1.5 1.5 0 1 0 -3 0M418.72 97.4a1.5 1.5 0 1 0 3 0a1.5 1.5 0 1 0 -3 0M421.69 97a1.5 1.5 0 1 0 3 0a1.5 1.5 0 1 0 -3 0M424.67 95.9a1.5 1.5 0 1 0 3 0a1.5 1.5 0 1 0 -3 0M427.65 94.7a1.5 1.5 0 1 0 3 0a1.5 1.5 0 1 0 -3 0M430.63 93.8a1.5 1.5 0 1 0 3 0a1.5 1.5 0 1 0 -3 0M433.61 93.4a1.5 1.5 0 1 0 3 0a1.5 1.5 0 1 0 -3 0M436.58 93.4a1.5 1.5 0 1 0 3 0a1.5 1.5 0 1 0 -3 0M439.56 93.4a1.5 1.5 0 1 0 3 0a1.5 1.5 0 1 0 -3 0M442.54 93.4a1.5 1.5 0 1 0 3 0a1.5 1.5 0 1 0 -3 0M445.51 93.1a1.5 1.5 0 1 0 3 0a1.5 1.5 0 1 0 -3 0M448.49 92.2a1.5 1.5 0 1 0 3 0a1.5 1.5 0 1 0 -3 0M451.47 90.9a1.5 1.5 0 1 0 3 0a1.5 1.5 0 1 0 -3 0M454.45 90.1a1.5 1.5 0 1 0 3 0a1.5 1.5 0 1 0 -3 0M457.43 89.9a1.5 1.5 0 1 0 3 0a1.5 1.5 0 1 0 -3 0M460.4 90.2a1.5 1.5 0 1 0 3 0a1.5 1.5 0 1 0 -3 0M463.38 90.5a1.5 1.5 0 1 0 3 0a1.5 1.5 0 1 0 -3 0M466.36 90.6a1.5 1.5 0 1 0 3 0a1.5 1.5 0 1 0 -3 0M469.33 89.9a1.5 1.5 0 1 0 3 0a1.5 1.5 0 1 0 -3 0M472.31 88.6a1.5 1.5 0 1 0 3 0a1.5 1.5 0 1 0 -3 0M475.29 87.4a1.5 1.5 0 1 0 3 0a1.5 1.5 0 1 0 -3 0M478.27 86.7a1.5 1.5 0 1 0 3 0a1.5 1.5 0 1 0 -3 0M481.25 86.5a1.5 1.5 0 1 0 3 0a1.5 1.5 0 1 0 -3 0M484.22 86.9a1.5 1.5 0 1 0 3 0a1.5 1.5 0 1 0 -3 0M487.2 87.2a1.5 1.5 0 1 0 3 0a1.5 1.5 0 1 0 -3 0"/>
</g>
<g stroke="#e31a1c" fill="#e31a1c">
<polyline fill="none" stroke-width="1.4" stroke-linejoin="round" points="372.58,100.3 375.56,101.3 378.53,100.6 381.51,99.9 384.49,99.4 387.47,99.1 390.44,99.3 393.42,99.4 396.4,99.4 399.38,99 402.35,97.9 405.33,97 408.31,96.1 411.29,95.5 414.26,95.5 417.24,95.7 420.22,95.8 423.19,95.7 426.17,94.6 429.15,93.4 432.13,92.6 435.11,92.3 438.08,92.5 441.06,92.6 444.04,92.6 447.01,92.3 449.99,91.4 452.97,90.1 455.95,89.3 458.93,89.1 461.9,89.4 464.88,89.7 467.86,89.8 470.83,89.3 473.81,88.1 476.79,87 479.77,86.3 482.75,86.1 485.72,86.6 488.7,87"/>
<path stroke="none" d="M371.08 100.3a1.5 1.5 0 1 0 3 0a1.5 1.5 0 1 0 -3 0M374.06 101.3a1.5 1.5 0 1 0 3 0a1.5 1.5 0 1 0 -3 0M377.03 100.6a1.5 1.5 0 1 0 3 0a1.5 1.5 0 1 0 -3 0M380.01 99.9a1.5 1.5 0 1 0 3 0a1.5 1.5 0 1 0 -3 0M382.99 99.4a1.5 1.5 0 1 0 3 0a1.5 1.5 0 1 0 -3 0M385.97 99.1a1.5 1.5 0 1 0 3 0a1.5 1.5 0 1 0 -3 0M388.94 99.3a1.5 1.5 0 1 0 3 0a1.5 1.5 0 1 0 -3 0M391.92 99.4a1.5 1.5 0 1 0 3 0a1.5 1.5 0 1 0 -3 0M394.9 99.4a1.5 1.5 0 1 0 3 0a1.5 1.5 0 1 0 -3 0M397.88 99a1.5 1.5 0 1 0 3 0a1.5 1.5 0 1 0 -3 0M400.85 97.9a1.5 1.5 0 1 0 3 0a1.5 1.5 0 1 0 -3 0M403.83 97a1.5 1.5 0 1 0 3 0a1.5 1.5 0 1 0 -3 0M406.81 96.1a1.5 1.5 0 1 0 3 0a1.5 1.5 0 1 0 -3 0M409.79 95.5a1.5 1.5 0 1 0 3 0a1.5 1.5 0 1 0 -3 0M412.76 95.5a1.5 1.5 0 1 0 3 0a1.5 1.5 0 1 0 -3 0M415.74 95.7a1.5 1.5 0 1 0 3 0a1.5 1.5 0 1 0 -3 0M418.72 95.8a1.5 1.5 0 1 0 3 0a1.5 1.5 0 1 0 -3 0M421.69 95.7a1.5 1.5 0 1 0 3 0a1.5 1.5 0 1 0 -3 0M424.67 94.6a1.5 1.5 0 1 0 3 0a1.5 1.5 0 1 0 -3 0M427.65 93.4a1.5 1.5 0 1 0 3 0a1.5 1.5 0 1 0 -3 0M430.63 92.6a1.5 1.5 0 1 0 3 0a1.5 1.5 0 1 0 -3 0M433.61 92.3a1.5 1.5 0 1 0 3 0a1.5 1.5 0 1 0 -3 0M436.58 92.5a1.5 1.5 0 1 0 3 0a1.5 1.5 0 1 0 -3 0M439.56 92.6a1.5 1.5 0 1 0 3 0a1.5 1.5 0 1 0 -3 0M442.54 92.6a1.5 1.5 0 1 0 3 0a1.5 1.5 0 1 0 -3 0M445.51 92.3a1.5 1.5 0 1 0 3 0a1.5 1.5 0 1 0 -3 0M448.49 91.4a1.5 1.5 0 1 0 3 0a1.5 1.5 0 1 0 -3 0M451.47 90.1a1.5 1.5 0 1 0 3 0a1.5 1.5 0 1 0 -3 0M454.45 89.3a1.5 1.5 0 1 0 3 0a1.5 1.5 0 1 0 -3 0M457.43 89.1a1.5 1.5 0 1 0 3 0a1.5 1.5 0 1 0 -3 0M460.4 89.4a1.5 1.5 0 1 0 3 0a1.5 1.5 0 1 0 -3 0M463.38 89.7a1.5 1.5 0 1 0 3 0a1.5 1.5 0 1 0 -3 0M466.36 89.8a1.5 1.5 0 1 0 3 0a1.5 1.5 0 1 0 -3 0M469.33 89.3a1.5 1.5 0 1 0 3 0a1.5 1.5 0 1 0 -3 0M472.31 88.1a1.5 1.5 0 1 0 3 0a1.5 1.5 0 1 0 -3 0M475.29 87a1.5 1.5 0 1 0 3 0a1.5 1.5 0 1 0 -3 0M478.27 86.3a1.5 1.5 0 1 0 3 0a1.5 1.5 0 1 0 -3 0M481.25 86.1a1.5 1.5 0 1 0 3 0a1.5 1.5 0 1 0 -3 0M484.22 86.6a1.5 1.5 0 1 0 3 0a1.5 1.5 0 1 0 -3 0M487.2 87a1.5 1.5 0 1 0 3 0a1.5 1.5 0 1 0 -3 0"/>
</g>
<g stroke="#a6cee3" fill="#a6cee3">
<polyline fill="none" stroke-width="1.4" stroke-linejoin="round" points="552.58,72 555.55,73 558.52,72.5 561.5,69.5 564.48,67 567.45,66.2 570.43,67.1 573.4,69.2 576.38,71.1 579.35,72.5 582.33,72.1 585.3,69 588.27,66.2 591.25,65.1 594.23,66.2 597.2,68.1 600.18,70 603.15,71.6 606.12,71.2 609.1,68.2 612.08,65 615.05,64 618.02,65 621,67 623.98,69 626.95,70.6 629.93,70.1 632.9,67 635.88,64 638.85,62.9 641.83,64 644.8,66.1 647.77,67.8 650.75,69.4 653.73,69.2 656.7,65.9 659.68,62.6 662.65,61.7 665.62,62.6 668.6,64.7"/>
<path stroke="none" d="M551.08 72a1.5 1.5 0 1 0 3 0a1.5 1.5 0 1 0 -3 0M554.05 73a1.5 1.5 0 1 0 3 0a1.5 1.5 0 1 0 -3 0M557.02 72.5a1.5 1.5 0 1 0 3 0a1.5 1.5 0 1 0 -3 0M560 69.5a1.5 1.5 0 1 0 3 0a1.5 1.5 0 1 0 -3 0M562.98 67a1.5 1.5 0 1 0 3 0a1.5 1.5 0 1 0 -3 0M565.95 66.2a1.5 1.5 0 1 0 3 0a1.5 1.5 0 1 0 -3 0M568.93 67.1a1.5 1.5 0 1 0 3 0a1.5 1.5 0 1 0 -3 0M571.9 69.2a1.5 1.5 0 1 0 3 0a1.5 1.5 0 1 0 -3 0M574.88 71.1a1.5 1.5 0 1 0 3 0a1.5 1.5 0 1 0 -3 0M577.85 72.5a1.5 1.5 0 1 0 3 0a1.5 1.5 0 1 0 -3 0M580.83 72.1a1.5 1.5 0 1 0 3 0a1.5 1.5 0 1 0 -3 0M583.8 69a1.5 1.5 0 1 0 3 0a1.5 1.5 0 1 0 -3 0M586.77 66.2a1.5 1.5 0 1 0 3 0a1.5 1.5 0 1 0 -3 0M589.75 65.1a1.5 1.5 0 1 0 3 0a1.5 1.5 0 1 0 -3 0M592.73 66.2a1.5 1.5 0 1 0 3 0a1.5 1.5 0 1 0 -3 0M595.7 68.1a1.5 1.5 0 1 0 3 0a1.5 1.5 0 1 0 -3 0M598.68 70a1.5 1.5 0 1 0 3 0a1.5 1.5 0 1 0 -3 0M601.65 71.6a1.5 1.5 0 1 0 3 0a1.5 1.5 0 1 0 -3 0M604.62 71.2a1.5 1.5 0 1 0 3 0a1.5 1.5 0 1 0 -3 0M607.6 68.2a1.5 1.5 0 1 0 3 0a1.5 1.5 0 1 0 -3 0M610.58 65a1.5 1.5 0 1 0 3 0a1.5 1.5 0 1 0 -3 0M613.55 64a1.5 1.5 0 1 0 3 0a1.5 1.5 0 1 0 -3 0M616.52 65a1.5 1.5 0 1 0 3 0a1.5 1.5 0 1 0 -3 0M619.5 67a1.5 1.5 0 1 0 3 0a1.5 1.5 0 1 0 -3 0M622.48 69a1.5 1.5 0 1 0 3 0a1.5 1.5 0 1 0 -3 0M625.45 70.6a1.5 1.5 0 1 0 3 0a1.5 1.5 0 1 0 -3 0M628.43 70.1a1.5 1.5 0 1 0 3 0a1.5 1.5 0 1 0 -3 0M631.4 67a1.5 1.5 0 1 0 3 0a1.5 1.5 0 1 0 -3 0M634.38 64a1.5 1.5 0 1 0 3 0a1.5 1.5 0 1 0 -3 0M637.35 62.9a1.5 1.5 0 1 0 3 0a1.5 1.5 0 1 0 -3 0M640.33 64a1.5 1.5 0 1 0 3 0a1.5 1.5 0 1 0 -3 0M643.3 66.1a1.5 1.5 0 1 0 3 0a1.5 1.5 0 1 0 -3 0M646.27 67.8a1.5 1.5 0 1 0 3 0a1.5 1.5 0 1 0 -3 0M649.25 69.4a1.5 1.5 0 1 0 3 0a1.5 1.5 0 1 0 -3 0M652.23 69.2a1.5 1.5 0 1 0 3 0a1.5 1.5 0 1 0 -3 0M655.2 65.9a1.5 1.5 0 1 0 3 0a1.5 1.5 0 1 0 -3 0M658.18 62.6a1.5 1.5 0 1 0 3 0a1.5 1.5 0 1 0 -3 0M661.15 61.7a1.5 1.5 0 1 0 3 0a1.5 1.5 0 1 0 -3 0M664.12 62.6a1.5 1.5 0 1 0 3 0a1.5 1.5 0 1 0 -3 0M667.1 64.7a1.5 1.5 0 1 0 3 0a1.5 1.5 0 1 0 -3 0"/>
</g>
<g stroke="#fb9a99" fill="#fb9a99">
<polyline fill="none" stroke-width="1.4" stroke-linejoin="round" points="552.58,114.8 555.55,112.2 558.52,106.8 561.5,101 564.48,98 567.45,97.7 570.43,98 573.4,98.2 576.38,98.4 579.35,98.7 582.33,97.7 585.3,93.8 588.27,91 591.25,91 594.23,91.4 597.2,91.9 600.18,92.4 603.15,92.6 606.12,91.4 609.1,88.6 612.08,86.3 615.05,86 618.02,86.4 621,86.9 623.98,87.3 626.95,87.8 629.93,87.1 632.9,84.7 635.88,82.6 638.85,82.6 641.83,82.8 644.8,83.1 647.77,83.6 650.75,84.2 653.73,83.6 656.7,81 659.68,79.4 662.65,78.9 665.62,79.1 668.6,79.6"/>
<path stroke="none" d="M551.08 114.8a1.5 1.5 0 1 0 3 0a1.5 1.5 0 1 0 -3 0M554.05 112.2a1.5 1.5 0 1 0 3 0a1.5 1.5 0 1 0 -3 0M557.02 106.8a1.5 1.5 0 1 0 3 0a1.5 1.5 0 1 0 -3 0M560 101a1.5 1.5 0 1 0 3 0a1.5 1.5 0 1 0 -3 0M562.98 98a1.5 1.5 0 1 0 3 0a1.5 1.5 0 1 0 -3 0M565.95 97.7a1.5 1.5 0 1 0 3 0a1.5 1.5 0 1 0 -3 0M568.93 98a1.5 1.5 0 1 0 3 0a1.5 1.5 0 1 0 -3 0M571.9 98.2a1.5 1.5 0 1 0 3 0a1.5 1.5 0 1 0 -3 0M574.88 98.4a1.5 1.5 0 1 0 3 0a1.5 1.5 0 1 0 -3 0M577.85 98.7a1.5 1.5 0 1 0 3 0a1.5 1.5 0 1 0 -3 0M580.83 97.7a1.5 1.5 0 1 0 3 0a1.5 1.5 0 1 0 -3 0M583.8 93.8a1.5 1.5 0 1 0 3 0a1.5 1.5 0 1 0 -3 0M586.77 91a1.5 1.5 0 1 0 3 0a1.5 1.5 0 1 0 -3 0M589.75 91a1.5 1.5 0 1 0 3 0a1.5 1.5 0 1 0 -3 0M592.73 91.4a1.5 1.5 0 1 0 3 0a1.5 1.5 0 1 0 -3 0M595.7 91.9a1.5 1.5 0 1 0 3 0a1.5 1.5 0 1 0 -3 0M598.68 92.4a1.5 1.5 0 1 0 3 0a1.5 1.5 0 1 0 -3 0M601.65 92.6a1.5 1.5 0 1 0 3 0a1.5 1.5 0 1 0 -3 0M604.62 91.4a1.5 1.5 0 1 0 3 0a1.5 1.5 0 1 0 -3 0M607.6 88.6a1.5 1.5 0 1 0 3 0a1.5 1.5 0 1 0 -3 0M610.58 86.3a1.5 1.5 0 1 0 3 0a1.5 1.5 0 1 0 -3 0M613.55 86a1.5 1.5 0 1 0 3 0a1.5 1.5 0 1 0 -3 0M616.52 86.4a1.5 1.5 0 1 0 3 0a1.5 1.5 0 1 0 -3 0M619.5 86.9a1.5 1.5 0 1 0 3 0a1.5 1.5 0 1 0 -3 0M622.48 87.3a1.5 1.5 0 1 0 3 0a1.5 1.5 0 1 0 -3 0M625.45 87.8a1.5 1.5 0 1 0 3 0a1.5 1.5 0 1 0 -3 0M628.43 87.1a1.5 1.5 0 1 0 3 0a1.5 1.5 0 1 0 -3 0M631.4 84.7a1.5 1.5 0 1 0 3 0a1.5 1.5 0 1 0 -3 0M634.38 82.6a1.5 1.5 0 1 0 3 0a1.5 1.5 0 1 0 -3 0M637.35 82.6a1.5 1.5 0 1 0 3 0a1.5 1.5 0 1 0 -3 0M640.33 82.8a1.5 1.5 0 1 0 3 0a1.5 1.5 0 1 0 -3 0M643.3 83.1a1.5 1.5 0 1 0 3 0a1.5 1.5 0 1 0 -3 0M646.27 83.6a1.5 1.5 0 1 0 3 0a1.5 1.5 0 1 0 -3 0M649.25 84.2a1.5 1.5 0 1 0 3 0a1.5 1.5 0 1 0 -3 0M652.23 83.6a1.5 1.5 0 1 0 3 0a1.5 1.5 0 1 0 -3 0M655.2 81a1.5 1.5 0 1 0 3 0a1.5 1.5 0 1 0 -3 0M658.18 79.4a1.5 1.5 0 1 0 3 0a1.5 1.5 0 1 0 -3 0M661.15 78.9a1.5 1.5 0 1 0 3 0a1.5 1.5 0 1 0 -3 0M664.12 79.1a1.5 1.5 0 1 0 3 0a1.5 1.5 0 1 0 -3 0M667.1 79.6a1.5 1.5 0 1 0 3 0a1.5 1.5 0 1 0 -3 0"/>
</g>
<g stroke="#e31a1c" fill="#e31a1c">
<polyline fill="none" stroke-width="1.4" stroke-linejoin="round" points="552.58,86.7 555.55,88.3 558.52,89.3 561.5,88.6 564.48,87.7 567.45,88.1 570.43,88.6 573.4,89.8 576.38,90.8 579.35,91.4 582.33,90.5 585.3,88.9 588.27,87.4 591.25,87.7 594.23,88 597.2,88.6 600.18,89.6 603.15,90 606.12,89.3 609.1,87.3 612.08,85.1 615.05,85.4 618.02,85.9 621,86.4 623.98,86.8 626.95,87.3 629.93,86.6 632.9,84.2 635.88,82.1 638.85,82.1 641.83,82.3 644.8,82.6 647.77,83.1 650.75,83.7 653.73,83.1 656.7,80.5 659.68,78.9 662.65,78.4 665.62,78.6 668.6,79.1"/>
<path stroke="none" d="M551.08 86.7a1.5 1.5 0 1 0 3 0a1.5 1.5 0 1 0 -3 0M554.05 88.3a1.5 1.5 0 1 0 3 0a1.5 1.5 0 1 0 -3 0M557.02 89.3a1.5 1.5 0 1 0 3 0a1.5 1.5 0 1 0 -3 0M560 88.6a1.5 1.5 0 1 0 3 0a1.5 1.5 0 1 0 -3 0M562.98 87.7a1.5 1.5 0 1 0 3 0a1.5 1.5 0 1 0 -3 0M565.95 88.1a1.5 1.5 0 1 0 3 0a1.5 1.5 0 1 0 -3 0M568.93 88.6a1.5 1.5 0 1 0 3 0a1.5 1.5 0 1 0 -3 0M571.9 89.8a1.5 1.5 0 1 0 3 0a1.5 1.5 0 1 0 -3 0M574.88 90.8a1.5 1.5 0 1 0 3 0a1.5 1.5 0 1 0 -3 0M577.85 91.4a1.5 1.5 0 1 0 3 0a1.5 1.5 0 1 0 -3 0M580.83 90.5a1.5 1.5 0 1 0 3 0a1.5 1.5 0 1 0 -3 0M583.8 88.9a1.5 1.5 0 1 0 3 0a1.5 1.5 0 1 0 -3 0M586.77 87.4a1.5 1.5 0 1 0 3 0a1.5 1.5 0 1 0 -3 0M589.75 87.7a1.5 1.5 0 1 0 3 0a1.5 1.5 0 1 0 -3 0M592.73 88a1.5 1.5 0 1 0 3 0a1.5 1.5 0 1 0 -3 0M595.7 88.6a1.5 1.5 0 1 0 3 0a1.5 1.5 0 1 0 -3 0M598.68 89.6a1.5 1.5 0 1 0 3 0a1.5 1.5 0 1 0 -3 0M601.65 90a1.5 1.5 0 1 0 3 0a1.5 1.5 0 1 0 -3 0M604.62 89.3a1.5 1.5 0 1 0 3 0a1.5 1.5 0 1 0 -3 0M607.6 87.3a1.5 1.5 0 1 0 3 0a1.5 1.5 0 1 0 -3 0M610.58 85.1a1.5 1.5 0 1 0 3 0a1.5 1.5 0 1 0 -3 0M613.55 85.4a1.5 1.5 0 1 0 3 0a1.5 1.5 0 1 0 -3 0M616.52 85.9a1.5 1.5 0 1 0 3 0a1.5 1.5 0 1 0 -3 0M619.5 86.4a1.5 1.5 0 1 0 3 0a1.5 1.5 0 1 0 -3 0M622.48 86.8a1.5 1.5 0 1 0 3 0a1.5 1.5 0 1 0 -3 0M625.45 87.3a1.5 1.5 0 1 0 3 0a1.5 1.5 0 1 0 -3 0M628.43 86.6a1.5 1.5 0 1 0 3 0a1.5 1.5 0 1 0 -3 0M631.4 84.2a1.5 1.5 0 1 0 3 0a1.5 1.5 0 1 0 -3 0M634.38 82.1a1.5 1.5 0 1 0 3 0a1.5 1.5 0 1 0 -3 0M637.35 82.1a1.5 1.5 0 1 0 3 0a1.5 1.5 0 1 0 -3 0M640.33 82.3a1.5 1.5 0 1 0 3 0a1.5 1.5 0 1 0 -3 0M643.3 82.6a1.5 1.5 0 1 0 3 0a1.5 1.5 0 1 0 -3 0M646.27 83.1a1.5 1.5 0 1 0 3 0a1.5 1.5 0 1 0 -3 0M649.25 83.7a1.5 1.5 0 1 0 3 0a1.5 1.5 0 1 0 -3 0M652.23 83.1a1.5 1.5 0 1 0 3 0a1.5 1.5 0 1 0 -3 0M655.2 80.5a1.5 1.5 0 1 0 3 0a1.5 1.5 0 1 0 -3 0M658.18 78.9a1.5 1.5 0 1 0 3 0a1.5 1.5 0 1 0 -3 0M661.15 78.4a1.5 1.5 0 1 0 3 0a1.5 1.5 0 1 0 -3 0M664.12 78.6a1.5 1.5 0 1 0 3 0a1.5 1.5 0 1 0 -3 0M667.1 79.1a1.5 1.5 0 1 0 3 0a1.5 1.5 0 1 0 -3 0"/>
</g>
<g stroke="#222" stroke-width="0.65" fill="none">
<path d="M32 172.7V281.4H154.7"/>
<path d="M32 172.7h-3.4M32 208.93h-3.4M32 245.17h-3.4M32 281.4h-3.4M32 281.4v3.4M55.86 281.4v3.4M79.72 281.4v3.4M103.58 281.4v3.4M127.44 281.4v3.4M151.3 281.4v3.4"/>
</g>
<g text-anchor="end">
<text x="25.1" y="175.6">1.0</text>
<text x="25.1" y="211.83">0.8</text>
<text x="25.1" y="248.07">0.6</text>
<text x="25.1" y="284.3">0.4</text>
</g>
<g text-anchor="middle">
<text x="32" y="294.55">0</text>
<text x="55.86" y="294.55">24</text>
<text x="79.72" y="294.55">48</text>
<text x="103.58" y="294.55">72</text>
<text x="127.44" y="294.55">96</text>
<text x="151.3" y="294.55">120</text>
<text x="92.95" y="307.65">Forecast time (hours)</text>
<text x="93.25" y="169.1">AOD</text>
<text transform="translate(5.7 227.45) rotate(-90)" font-style="italic">R</text>
</g>
<g stroke="#222" stroke-width="0.65" fill="none">
<path d="M195.5 172.7V281.4H317.7"/>
<path d="M195.5 172.7h-3.4M195.5 208.93h-3.4M195.5 245.17h-3.4M195.5 281.4h-3.4M195.5 281.4v3.4M219.26 281.4v3.4M243.02 281.4v3.4M266.78 281.4v3.4M290.54 281.4v3.4M314.3 281.4v3.4"/>
</g>
<g text-anchor="end">
<text x="187.9" y="175.6">1.0</text>
<text x="187.9" y="211.83">0.8</text>
<text x="187.9" y="248.07">0.6</text>
<text x="187.9" y="284.3">0.4</text>
</g>
<g text-anchor="middle">
<text x="195.5" y="294.55">0</text>
<text x="219.26" y="294.55">24</text>
<text x="243.02" y="294.55">48</text>
<text x="266.78" y="294.55">72</text>
<text x="290.54" y="294.55">96</text>
<text x="314.3" y="294.55">120</text>
<text x="256.2" y="307.65">Forecast time (hours)</text>
<text x="256.5" y="169.1">DUAOD</text>
<text transform="translate(171 227.45) rotate(-90)" font-style="italic">R</text>
</g>
<g stroke="#222" stroke-width="0.65" fill="none">
<path d="M369.6 172.7V281.4H491.8"/>
<path d="M369.6 172.7h-3.4M369.6 208.93h-3.4M369.6 245.17h-3.4M369.6 281.4h-3.4M369.6 281.4v3.4M393.42 281.4v3.4M417.24 281.4v3.4M441.06 281.4v3.4M464.88 281.4v3.4M488.7 281.4v3.4"/>
</g>
<g text-anchor="end">
<text x="362" y="175.6">0.32</text>
<text x="362" y="211.83">0.22</text>
<text x="362" y="248.07">0.12</text>
<text x="362" y="284.3">0.02</text>
</g>
<g text-anchor="middle">
<text x="369.6" y="294.55">0</text>
<text x="393.42" y="294.55">24</text>
<text x="417.24" y="294.55">48</text>
<text x="441.06" y="294.55">72</text>
<text x="464.88" y="294.55">96</text>
<text x="488.7" y="294.55">120</text>
<text x="430.3" y="307.65">Forecast time (hours)</text>
<text x="430.6" y="169.1">AOD</text>
<text transform="translate(340.3 227.05) rotate(-90)">RMSE</text>
</g>
<g stroke="#222" stroke-width="0.65" fill="none">
<path d="M549.6 172.7V281.4H671.8"/>
<path d="M549.6 172.7h-3.4M549.6 227.05h-3.4M549.6 281.4h-3.4M549.6 281.4v3.4M573.4 281.4v3.4M597.2 281.4v3.4M621 281.4v3.4M644.8 281.4v3.4M668.6 281.4v3.4"/>
</g>
<g text-anchor="end">
<text x="542" y="175.6">0.10</text>
<text x="542" y="229.95">0.05</text>
<text x="542" y="284.3">0</text>
</g>
<g text-anchor="middle">
<text x="549.6" y="294.55">0</text>
<text x="573.4" y="294.55">24</text>
<text x="597.2" y="294.55">48</text>
<text x="621" y="294.55">72</text>
<text x="644.8" y="294.55">96</text>
<text x="668.6" y="294.55">120</text>
<text x="610.3" y="307.65">Forecast time (hours)</text>
<text x="610.6" y="169.1">DUAOD</text>
<text transform="translate(519.4 227.05) rotate(-90)">RMSE</text>
</g>
<g stroke="#e31a1c" fill="#e31a1c">
<polyline fill="none" stroke-width="1.3" stroke-linejoin="round" points="34.98,213.7 37.97,211.7 40.95,214.3 43.93,203.3 46.91,210.3 49.9,213.7 52.88,220.3 55.86,219 58.84,223 61.83,219.7 64.81,217 67.79,209 70.77,223 73.75,226.3 76.74,235 79.72,234.3 82.7,230.3 85.69,227.7 88.67,222.3 91.65,213.9 94.63,235.2 97.62,243.8 100.6,249.5 103.58,246.1 106.56,239.1 109.55,234.4 112.53,227.4 115.51,220 118.49,246.9 121.48,257 124.46,265.5 127.44,265.5 130.42,243 133.41,241.4 136.39,232.9 139.37,227.1 142.35,261.7 145.34,269.4 148.32,278.8 151.3,272.5"/>
<path stroke="none" d="M33.73 213.7a1.25 1.25 0 1 0 2.5 0a1.25 1.25 0 1 0 -2.5 0M36.72 211.7a1.25 1.25 0 1 0 2.5 0a1.25 1.25 0 1 0 -2.5 0M39.7 214.3a1.25 1.25 0 1 0 2.5 0a1.25 1.25 0 1 0 -2.5 0M42.68 203.3a1.25 1.25 0 1 0 2.5 0a1.25 1.25 0 1 0 -2.5 0M45.66 210.3a1.25 1.25 0 1 0 2.5 0a1.25 1.25 0 1 0 -2.5 0M48.65 213.7a1.25 1.25 0 1 0 2.5 0a1.25 1.25 0 1 0 -2.5 0M51.63 220.3a1.25 1.25 0 1 0 2.5 0a1.25 1.25 0 1 0 -2.5 0M54.61 219a1.25 1.25 0 1 0 2.5 0a1.25 1.25 0 1 0 -2.5 0M57.59 223a1.25 1.25 0 1 0 2.5 0a1.25 1.25 0 1 0 -2.5 0M60.58 219.7a1.25 1.25 0 1 0 2.5 0a1.25 1.25 0 1 0 -2.5 0M63.56 217a1.25 1.25 0 1 0 2.5 0a1.25 1.25 0 1 0 -2.5 0M66.54 209a1.25 1.25 0 1 0 2.5 0a1.25 1.25 0 1 0 -2.5 0M69.52 223a1.25 1.25 0 1 0 2.5 0a1.25 1.25 0 1 0 -2.5 0M72.5 226.3a1.25 1.25 0 1 0 2.5 0a1.25 1.25 0 1 0 -2.5 0M75.49 235a1.25 1.25 0 1 0 2.5 0a1.25 1.25 0 1 0 -2.5 0M78.47 234.3a1.25 1.25 0 1 0 2.5 0a1.25 1.25 0 1 0 -2.5 0M81.45 230.3a1.25 1.25 0 1 0 2.5 0a1.25 1.25 0 1 0 -2.5 0M84.44 227.7a1.25 1.25 0 1 0 2.5 0a1.25 1.25 0 1 0 -2.5 0M87.42 222.3a1.25 1.25 0 1 0 2.5 0a1.25 1.25 0 1 0 -2.5 0M90.4 213.9a1.25 1.25 0 1 0 2.5 0a1.25 1.25 0 1 0 -2.5 0M93.38 235.2a1.25 1.25 0 1 0 2.5 0a1.25 1.25 0 1 0 -2.5 0M96.37 243.8a1.25 1.25 0 1 0 2.5 0a1.25 1.25 0 1 0 -2.5 0M99.35 249.5a1.25 1.25 0 1 0 2.5 0a1.25 1.25 0 1 0 -2.5 0M102.33 246.1a1.25 1.25 0 1 0 2.5 0a1.25 1.25 0 1 0 -2.5 0M105.31 239.1a1.25 1.25 0 1 0 2.5 0a1.25 1.25 0 1 0 -2.5 0M108.3 234.4a1.25 1.25 0 1 0 2.5 0a1.25 1.25 0 1 0 -2.5 0M111.28 227.4a1.25 1.25 0 1 0 2.5 0a1.25 1.25 0 1 0 -2.5 0M114.26 220a1.25 1.25 0 1 0 2.5 0a1.25 1.25 0 1 0 -2.5 0M117.24 246.9a1.25 1.25 0 1 0 2.5 0a1.25 1.25 0 1 0 -2.5 0M120.23 257a1.25 1.25 0 1 0 2.5 0a1.25 1.25 0 1 0 -2.5 0M123.21 265.5a1.25 1.25 0 1 0 2.5 0a1.25 1.25 0 1 0 -2.5 0M126.19 265.5a1.25 1.25 0 1 0 2.5 0a1.25 1.25 0 1 0 -2.5 0M129.17 243a1.25 1.25 0 1 0 2.5 0a1.25 1.25 0 1 0 -2.5 0M132.16 241.4a1.25 1.25 0 1 0 2.5 0a1.25 1.25 0 1 0 -2.5 0M135.14 232.9a1.25 1.25 0 1 0 2.5 0a1.25 1.25 0 1 0 -2.5 0M138.12 227.1a1.25 1.25 0 1 0 2.5 0a1.25 1.25 0 1 0 -2.5 0M141.1 261.7a1.25 1.25 0 1 0 2.5 0a1.25 1.25 0 1 0 -2.5 0M144.09 269.4a1.25 1.25 0 1 0 2.5 0a1.25 1.25 0 1 0 -2.5 0M147.07 278.8a1.25 1.25 0 1 0 2.5 0a1.25 1.25 0 1 0 -2.5 0M150.05 272.5a1.25 1.25 0 1 0 2.5 0a1.25 1.25 0 1 0 -2.5 0"/>
</g>
<g stroke="#fb9a99" fill="#fb9a99">
<polyline fill="none" stroke-width="1.3" stroke-linejoin="round" points="34.98,217 37.97,213.7 40.95,215 43.93,206.3 46.91,209.7 49.9,213 52.88,219 55.86,219.7 58.84,223 61.83,219.7 64.81,217 67.79,209 70.77,223 73.75,226.3 76.74,235 79.72,234.3 82.7,230.3 85.69,227.7 88.67,222.3 91.65,213.9 94.63,237.5 97.62,246.1 100.6,250.8 103.58,251.5 106.56,238.3 109.55,236.8 112.53,229 115.51,221.2 118.49,246 121.48,257.5 124.46,267.9 127.44,267.1 130.42,246.1 133.41,240.8 136.39,234.4 139.37,228.2 142.35,261 145.34,267.1 148.32,278.8 151.3,279.5"/>
<path stroke="none" d="M33.73 217a1.25 1.25 0 1 0 2.5 0a1.25 1.25 0 1 0 -2.5 0M36.72 213.7a1.25 1.25 0 1 0 2.5 0a1.25 1.25 0 1 0 -2.5 0M39.7 215a1.25 1.25 0 1 0 2.5 0a1.25 1.25 0 1 0 -2.5 0M42.68 206.3a1.25 1.25 0 1 0 2.5 0a1.25 1.25 0 1 0 -2.5 0M45.66 209.7a1.25 1.25 0 1 0 2.5 0a1.25 1.25 0 1 0 -2.5 0M48.65 213a1.25 1.25 0 1 0 2.5 0a1.25 1.25 0 1 0 -2.5 0M51.63 219a1.25 1.25 0 1 0 2.5 0a1.25 1.25 0 1 0 -2.5 0M54.61 219.7a1.25 1.25 0 1 0 2.5 0a1.25 1.25 0 1 0 -2.5 0M57.59 223a1.25 1.25 0 1 0 2.5 0a1.25 1.25 0 1 0 -2.5 0M60.58 219.7a1.25 1.25 0 1 0 2.5 0a1.25 1.25 0 1 0 -2.5 0M63.56 217a1.25 1.25 0 1 0 2.5 0a1.25 1.25 0 1 0 -2.5 0M66.54 209a1.25 1.25 0 1 0 2.5 0a1.25 1.25 0 1 0 -2.5 0M69.52 223a1.25 1.25 0 1 0 2.5 0a1.25 1.25 0 1 0 -2.5 0M72.5 226.3a1.25 1.25 0 1 0 2.5 0a1.25 1.25 0 1 0 -2.5 0M75.49 235a1.25 1.25 0 1 0 2.5 0a1.25 1.25 0 1 0 -2.5 0M78.47 234.3a1.25 1.25 0 1 0 2.5 0a1.25 1.25 0 1 0 -2.5 0M81.45 230.3a1.25 1.25 0 1 0 2.5 0a1.25 1.25 0 1 0 -2.5 0M84.44 227.7a1.25 1.25 0 1 0 2.5 0a1.25 1.25 0 1 0 -2.5 0M87.42 222.3a1.25 1.25 0 1 0 2.5 0a1.25 1.25 0 1 0 -2.5 0M90.4 213.9a1.25 1.25 0 1 0 2.5 0a1.25 1.25 0 1 0 -2.5 0M93.38 237.5a1.25 1.25 0 1 0 2.5 0a1.25 1.25 0 1 0 -2.5 0M96.37 246.1a1.25 1.25 0 1 0 2.5 0a1.25 1.25 0 1 0 -2.5 0M99.35 250.8a1.25 1.25 0 1 0 2.5 0a1.25 1.25 0 1 0 -2.5 0M102.33 251.5a1.25 1.25 0 1 0 2.5 0a1.25 1.25 0 1 0 -2.5 0M105.31 238.3a1.25 1.25 0 1 0 2.5 0a1.25 1.25 0 1 0 -2.5 0M108.3 236.8a1.25 1.25 0 1 0 2.5 0a1.25 1.25 0 1 0 -2.5 0M111.28 229a1.25 1.25 0 1 0 2.5 0a1.25 1.25 0 1 0 -2.5 0M114.26 221.2a1.25 1.25 0 1 0 2.5 0a1.25 1.25 0 1 0 -2.5 0M117.24 246a1.25 1.25 0 1 0 2.5 0a1.25 1.25 0 1 0 -2.5 0M120.23 257.5a1.25 1.25 0 1 0 2.5 0a1.25 1.25 0 1 0 -2.5 0M123.21 267.9a1.25 1.25 0 1 0 2.5 0a1.25 1.25 0 1 0 -2.5 0M126.19 267.1a1.25 1.25 0 1 0 2.5 0a1.25 1.25 0 1 0 -2.5 0M129.17 246.1a1.25 1.25 0 1 0 2.5 0a1.25 1.25 0 1 0 -2.5 0M132.16 240.8a1.25 1.25 0 1 0 2.5 0a1.25 1.25 0 1 0 -2.5 0M135.14 234.4a1.25 1.25 0 1 0 2.5 0a1.25 1.25 0 1 0 -2.5 0M138.12 228.2a1.25 1.25 0 1 0 2.5 0a1.25 1.25 0 1 0 -2.5 0M141.1 261a1.25 1.25 0 1 0 2.5 0a1.25 1.25 0 1 0 -2.5 0M144.09 267.1a1.25 1.25 0 1 0 2.5 0a1.25 1.25 0 1 0 -2.5 0M147.07 278.8a1.25 1.25 0 1 0 2.5 0a1.25 1.25 0 1 0 -2.5 0M150.05 279.5a1.25 1.25 0 1 0 2.5 0a1.25 1.25 0 1 0 -2.5 0"/>
</g>
<g stroke="#a6cee3" fill="#a6cee3">
<polyline fill="none" stroke-width="1.3" stroke-linejoin="round" points="34.98,220 37.97,215 40.95,218.3 43.93,221.7 46.91,218.3 49.9,215.7 52.88,218.3 55.86,226.3 58.84,229 61.83,223 64.81,226.7 67.79,226.3 70.77,232 73.75,227.7 76.74,227.7 79.72,236.3 82.7,236.6 85.69,227.7 88.67,230.7 91.65,230.2 94.63,242.2 97.62,245.3 100.6,252.3 103.58,256.2 106.56,269.1 109.55,234.4 112.53,235.2 115.51,234.9 118.49,259.3 121.48,260.9 124.46,260.4 127.44,262.9 130.42,261.3 133.41,240.7 136.39,241.1 139.37,238.3 142.35,262.4 145.34,263.2 148.32,266.3 151.3,266.3"/>
<path stroke="none" d="M33.73 220a1.25 1.25 0 1 0 2.5 0a1.25 1.25 0 1 0 -2.5 0M36.72 215a1.25 1.25 0 1 0 2.5 0a1.25 1.25 0 1 0 -2.5 0M39.7 218.3a1.25 1.25 0 1 0 2.5 0a1.25 1.25 0 1 0 -2.5 0M42.68 221.7a1.25 1.25 0 1 0 2.5 0a1.25 1.25 0 1 0 -2.5 0M45.66 218.3a1.25 1.25 0 1 0 2.5 0a1.25 1.25 0 1 0 -2.5 0M48.65 215.7a1.25 1.25 0 1 0 2.5 0a1.25 1.25 0 1 0 -2.5 0M51.63 218.3a1.25 1.25 0 1 0 2.5 0a1.25 1.25 0 1 0 -2.5 0M54.61 226.3a1.25 1.25 0 1 0 2.5 0a1.25 1.25 0 1 0 -2.5 0M57.59 229a1.25 1.25 0 1 0 2.5 0a1.25 1.25 0 1 0 -2.5 0M60.58 223a1.25 1.25 0 1 0 2.5 0a1.25 1.25 0 1 0 -2.5 0M63.56 226.7a1.25 1.25 0 1 0 2.5 0a1.25 1.25 0 1 0 -2.5 0M66.54 226.3a1.25 1.25 0 1 0 2.5 0a1.25 1.25 0 1 0 -2.5 0M69.52 232a1.25 1.25 0 1 0 2.5 0a1.25 1.25 0 1 0 -2.5 0M72.5 227.7a1.25 1.25 0 1 0 2.5 0a1.25 1.25 0 1 0 -2.5 0M75.49 227.7a1.25 1.25 0 1 0 2.5 0a1.25 1.25 0 1 0 -2.5 0M78.47 236.3a1.25 1.25 0 1 0 2.5 0a1.25 1.25 0 1 0 -2.5 0M81.45 236.6a1.25 1.25 0 1 0 2.5 0a1.25 1.25 0 1 0 -2.5 0M84.44 227.7a1.25 1.25 0 1 0 2.5 0a1.25 1.25 0 1 0 -2.5 0M87.42 230.7a1.25 1.25 0 1 0 2.5 0a1.25 1.25 0 1 0 -2.5 0M90.4 230.2a1.25 1.25 0 1 0 2.5 0a1.25 1.25 0 1 0 -2.5 0M93.38 242.2a1.25 1.25 0 1 0 2.5 0a1.25 1.25 0 1 0 -2.5 0M96.37 245.3a1.25 1.25 0 1 0 2.5 0a1.25 1.25 0 1 0 -2.5 0M99.35 252.3a1.25 1.25 0 1 0 2.5 0a1.25 1.25 0 1 0 -2.5 0M102.33 256.2a1.25 1.25 0 1 0 2.5 0a1.25 1.25 0 1 0 -2.5 0M105.31 269.1a1.25 1.25 0 1 0 2.5 0a1.25 1.25 0 1 0 -2.5 0M108.3 234.4a1.25 1.25 0 1 0 2.5 0a1.25 1.25 0 1 0 -2.5 0M111.28 235.2a1.25 1.25 0 1 0 2.5 0a1.25 1.25 0 1 0 -2.5 0M114.26 234.9a1.25 1.25 0 1 0 2.5 0a1.25 1.25 0 1 0 -2.5 0M117.24 259.3a1.25 1.25 0 1 0 2.5 0a1.25 1.25 0 1 0 -2.5 0M120.23 260.9a1.25 1.25 0 1 0 2.5 0a1.25 1.25 0 1 0 -2.5 0M123.21 260.4a1.25 1.25 0 1 0 2.5 0a1.25 1.25 0 1 0 -2.5 0M126.19 262.9a1.25 1.25 0 1 0 2.5 0a1.25 1.25 0 1 0 -2.5 0M129.17 261.3a1.25 1.25 0 1 0 2.5 0a1.25 1.25 0 1 0 -2.5 0M132.16 240.7a1.25 1.25 0 1 0 2.5 0a1.25 1.25 0 1 0 -2.5 0M135.14 241.1a1.25 1.25 0 1 0 2.5 0a1.25 1.25 0 1 0 -2.5 0M138.12 238.3a1.25 1.25 0 1 0 2.5 0a1.25 1.25 0 1 0 -2.5 0M141.1 262.4a1.25 1.25 0 1 0 2.5 0a1.25 1.25 0 1 0 -2.5 0M144.09 263.2a1.25 1.25 0 1 0 2.5 0a1.25 1.25 0 1 0 -2.5 0M147.07 266.3a1.25 1.25 0 1 0 2.5 0a1.25 1.25 0 1 0 -2.5 0M150.05 266.3a1.25 1.25 0 1 0 2.5 0a1.25 1.25 0 1 0 -2.5 0"/>
</g>
<g stroke="#e31a1c" fill="#e31a1c">
<polyline fill="none" stroke-width="1.3" stroke-linejoin="round" points="198.47,239.3 201.44,219.5 204.41,211.3 207.38,200 210.35,205.3 213.32,208 216.29,227.3 219.26,260.7 222.23,237.3 225.2,218.7 228.17,214 231.14,203.3 234.11,208.7 237.08,212 240.05,230.7 243.02,262 245.99,240 248.96,222.7 251.93,217.3 254.9,206 257.87,212.7 260.84,216.7 263.81,232 266.78,266 269.75,241.3 272.72,228.7 275.69,224 278.66,211 281.63,216.7 284.6,222 287.57,232.7 290.54,266.7 293.51,246 296.48,232.7 299.45,229.3 302.42,217.3 305.39,222 308.36,226.7 311.33,235.3 314.3,267.7"/>
<path stroke="none" d="M197.22 239.3a1.25 1.25 0 1 0 2.5 0a1.25 1.25 0 1 0 -2.5 0M200.19 219.5a1.25 1.25 0 1 0 2.5 0a1.25 1.25 0 1 0 -2.5 0M203.16 211.3a1.25 1.25 0 1 0 2.5 0a1.25 1.25 0 1 0 -2.5 0M206.13 200a1.25 1.25 0 1 0 2.5 0a1.25 1.25 0 1 0 -2.5 0M209.1 205.3a1.25 1.25 0 1 0 2.5 0a1.25 1.25 0 1 0 -2.5 0M212.07 208a1.25 1.25 0 1 0 2.5 0a1.25 1.25 0 1 0 -2.5 0M215.04 227.3a1.25 1.25 0 1 0 2.5 0a1.25 1.25 0 1 0 -2.5 0M218.01 260.7a1.25 1.25 0 1 0 2.5 0a1.25 1.25 0 1 0 -2.5 0M220.98 237.3a1.25 1.25 0 1 0 2.5 0a1.25 1.25 0 1 0 -2.5 0M223.95 218.7a1.25 1.25 0 1 0 2.5 0a1.25 1.25 0 1 0 -2.5 0M226.92 214a1.25 1.25 0 1 0 2.5 0a1.25 1.25 0 1 0 -2.5 0M229.89 203.3a1.25 1.25 0 1 0 2.5 0a1.25 1.25 0 1 0 -2.5 0M232.86 208.7a1.25 1.25 0 1 0 2.5 0a1.25 1.25 0 1 0 -2.5 0M235.83 212a1.25 1.25 0 1 0 2.5 0a1.25 1.25 0 1 0 -2.5 0M238.8 230.7a1.25 1.25 0 1 0 2.5 0a1.25 1.25 0 1 0 -2.5 0M241.77 262a1.25 1.25 0 1 0 2.5 0a1.25 1.25 0 1 0 -2.5 0M244.74 240a1.25 1.25 0 1 0 2.5 0a1.25 1.25 0 1 0 -2.5 0M247.71 222.7a1.25 1.25 0 1 0 2.5 0a1.25 1.25 0 1 0 -2.5 0M250.68 217.3a1.25 1.25 0 1 0 2.5 0a1.25 1.25 0 1 0 -2.5 0M253.65 206a1.25 1.25 0 1 0 2.5 0a1.25 1.25 0 1 0 -2.5 0M256.62 212.7a1.25 1.25 0 1 0 2.5 0a1.25 1.25 0 1 0 -2.5 0M259.59 216.7a1.25 1.25 0 1 0 2.5 0a1.25 1.25 0 1 0 -2.5 0M262.56 232a1.25 1.25 0 1 0 2.5 0a1.25 1.25 0 1 0 -2.5 0M265.53 266a1.25 1.25 0 1 0 2.5 0a1.25 1.25 0 1 0 -2.5 0M268.5 241.3a1.25 1.25 0 1 0 2.5 0a1.25 1.25 0 1 0 -2.5 0M271.47 228.7a1.25 1.25 0 1 0 2.5 0a1.25 1.25 0 1 0 -2.5 0M274.44 224a1.25 1.25 0 1 0 2.5 0a1.25 1.25 0 1 0 -2.5 0M277.41 211a1.25 1.25 0 1 0 2.5 0a1.25 1.25 0 1 0 -2.5 0M280.38 216.7a1.25 1.25 0 1 0 2.5 0a1.25 1.25 0 1 0 -2.5 0M283.35 222a1.25 1.25 0 1 0 2.5 0a1.25 1.25 0 1 0 -2.5 0M286.32 232.7a1.25 1.25 0 1 0 2.5 0a1.25 1.25 0 1 0 -2.5 0M289.29 266.7a1.25 1.25 0 1 0 2.5 0a1.25 1.25 0 1 0 -2.5 0M292.26 246a1.25 1.25 0 1 0 2.5 0a1.25 1.25 0 1 0 -2.5 0M295.23 232.7a1.25 1.25 0 1 0 2.5 0a1.25 1.25 0 1 0 -2.5 0M298.2 229.3a1.25 1.25 0 1 0 2.5 0a1.25 1.25 0 1 0 -2.5 0M301.17 217.3a1.25 1.25 0 1 0 2.5 0a1.25 1.25 0 1 0 -2.5 0M304.14 222a1.25 1.25 0 1 0 2.5 0a1.25 1.25 0 1 0 -2.5 0M307.11 226.7a1.25 1.25 0 1 0 2.5 0a1.25 1.25 0 1 0 -2.5 0M310.08 235.3a1.25 1.25 0 1 0 2.5 0a1.25 1.25 0 1 0 -2.5 0M313.05 267.7a1.25 1.25 0 1 0 2.5 0a1.25 1.25 0 1 0 -2.5 0"/>
</g>
<g stroke="#fb9a99" fill="#fb9a99">
<polyline fill="none" stroke-width="1.3" stroke-linejoin="round" points="198.47,239.3 201.44,217.3 204.41,211.3 207.38,200 210.35,205.3 213.32,208 216.29,227.3 219.26,260.7 222.23,237.3 225.2,218.7 228.17,214 231.14,203.3 234.11,208.7 237.08,212 240.05,230.7 243.02,262 245.99,240 248.96,222.7 251.93,217.3 254.9,206 257.87,212.7 260.84,216.7 263.81,232 266.78,266 269.75,241.3 272.72,226 275.69,222 278.66,211 281.63,216.7 284.6,222 287.57,232.7 290.54,266.7 293.51,246 296.48,232.7 299.45,229.3 302.42,217.3 305.39,225.3 308.36,229.3 311.33,235.3 314.3,267.7"/>
<path stroke="none" d="M197.22 239.3a1.25 1.25 0 1 0 2.5 0a1.25 1.25 0 1 0 -2.5 0M200.19 217.3a1.25 1.25 0 1 0 2.5 0a1.25 1.25 0 1 0 -2.5 0M203.16 211.3a1.25 1.25 0 1 0 2.5 0a1.25 1.25 0 1 0 -2.5 0M206.13 200a1.25 1.25 0 1 0 2.5 0a1.25 1.25 0 1 0 -2.5 0M209.1 205.3a1.25 1.25 0 1 0 2.5 0a1.25 1.25 0 1 0 -2.5 0M212.07 208a1.25 1.25 0 1 0 2.5 0a1.25 1.25 0 1 0 -2.5 0M215.04 227.3a1.25 1.25 0 1 0 2.5 0a1.25 1.25 0 1 0 -2.5 0M218.01 260.7a1.25 1.25 0 1 0 2.5 0a1.25 1.25 0 1 0 -2.5 0M220.98 237.3a1.25 1.25 0 1 0 2.5 0a1.25 1.25 0 1 0 -2.5 0M223.95 218.7a1.25 1.25 0 1 0 2.5 0a1.25 1.25 0 1 0 -2.5 0M226.92 214a1.25 1.25 0 1 0 2.5 0a1.25 1.25 0 1 0 -2.5 0M229.89 203.3a1.25 1.25 0 1 0 2.5 0a1.25 1.25 0 1 0 -2.5 0M232.86 208.7a1.25 1.25 0 1 0 2.5 0a1.25 1.25 0 1 0 -2.5 0M235.83 212a1.25 1.25 0 1 0 2.5 0a1.25 1.25 0 1 0 -2.5 0M238.8 230.7a1.25 1.25 0 1 0 2.5 0a1.25 1.25 0 1 0 -2.5 0M241.77 262a1.25 1.25 0 1 0 2.5 0a1.25 1.25 0 1 0 -2.5 0M244.74 240a1.25 1.25 0 1 0 2.5 0a1.25 1.25 0 1 0 -2.5 0M247.71 222.7a1.25 1.25 0 1 0 2.5 0a1.25 1.25 0 1 0 -2.5 0M250.68 217.3a1.25 1.25 0 1 0 2.5 0a1.25 1.25 0 1 0 -2.5 0M253.65 206a1.25 1.25 0 1 0 2.5 0a1.25 1.25 0 1 0 -2.5 0M256.62 212.7a1.25 1.25 0 1 0 2.5 0a1.25 1.25 0 1 0 -2.5 0M259.59 216.7a1.25 1.25 0 1 0 2.5 0a1.25 1.25 0 1 0 -2.5 0M262.56 232a1.25 1.25 0 1 0 2.5 0a1.25 1.25 0 1 0 -2.5 0M265.53 266a1.25 1.25 0 1 0 2.5 0a1.25 1.25 0 1 0 -2.5 0M268.5 241.3a1.25 1.25 0 1 0 2.5 0a1.25 1.25 0 1 0 -2.5 0M271.47 226a1.25 1.25 0 1 0 2.5 0a1.25 1.25 0 1 0 -2.5 0M274.44 222a1.25 1.25 0 1 0 2.5 0a1.25 1.25 0 1 0 -2.5 0M277.41 211a1.25 1.25 0 1 0 2.5 0a1.25 1.25 0 1 0 -2.5 0M280.38 216.7a1.25 1.25 0 1 0 2.5 0a1.25 1.25 0 1 0 -2.5 0M283.35 222a1.25 1.25 0 1 0 2.5 0a1.25 1.25 0 1 0 -2.5 0M286.32 232.7a1.25 1.25 0 1 0 2.5 0a1.25 1.25 0 1 0 -2.5 0M289.29 266.7a1.25 1.25 0 1 0 2.5 0a1.25 1.25 0 1 0 -2.5 0M292.26 246a1.25 1.25 0 1 0 2.5 0a1.25 1.25 0 1 0 -2.5 0M295.23 232.7a1.25 1.25 0 1 0 2.5 0a1.25 1.25 0 1 0 -2.5 0M298.2 229.3a1.25 1.25 0 1 0 2.5 0a1.25 1.25 0 1 0 -2.5 0M301.17 217.3a1.25 1.25 0 1 0 2.5 0a1.25 1.25 0 1 0 -2.5 0M304.14 225.3a1.25 1.25 0 1 0 2.5 0a1.25 1.25 0 1 0 -2.5 0M307.11 229.3a1.25 1.25 0 1 0 2.5 0a1.25 1.25 0 1 0 -2.5 0M310.08 235.3a1.25 1.25 0 1 0 2.5 0a1.25 1.25 0 1 0 -2.5 0M313.05 267.7a1.25 1.25 0 1 0 2.5 0a1.25 1.25 0 1 0 -2.5 0"/>
</g>
<g stroke="#a6cee3" fill="#a6cee3">
<polyline fill="none" stroke-width="1.3" stroke-linejoin="round" points="198.47,251.7 201.44,232.7 204.41,228 207.38,229.7 210.35,222.7 213.32,220 216.29,228.7 219.26,268.7 222.23,254 225.2,232.7 228.17,229.3 231.14,233.3 234.11,227.3 237.08,225 240.05,229.3 243.02,268.7 245.99,258.7 248.96,234.7 251.93,233.3 254.9,237.3 257.87,229.3 260.84,226.7 263.81,230 266.78,270.7 269.75,260.7 272.72,237.3 275.69,236.7 278.66,240.7 281.63,234 284.6,231.6 287.57,233.3 290.54,271.3 293.51,266.7 296.48,242.7 299.45,240 302.42,243.3 305.39,236.7 308.36,232.7 311.33,237.3 314.3,278.4"/>
<path stroke="none" d="M197.22 251.7a1.25 1.25 0 1 0 2.5 0a1.25 1.25 0 1 0 -2.5 0M200.19 232.7a1.25 1.25 0 1 0 2.5 0a1.25 1.25 0 1 0 -2.5 0M203.16 228a1.25 1.25 0 1 0 2.5 0a1.25 1.25 0 1 0 -2.5 0M206.13 229.7a1.25 1.25 0 1 0 2.5 0a1.25 1.25 0 1 0 -2.5 0M209.1 222.7a1.25 1.25 0 1 0 2.5 0a1.25 1.25 0 1 0 -2.5 0M212.07 220a1.25 1.25 0 1 0 2.5 0a1.25 1.25 0 1 0 -2.5 0M215.04 228.7a1.25 1.25 0 1 0 2.5 0a1.25 1.25 0 1 0 -2.5 0M218.01 268.7a1.25 1.25 0 1 0 2.5 0a1.25 1.25 0 1 0 -2.5 0M220.98 254a1.25 1.25 0 1 0 2.5 0a1.25 1.25 0 1 0 -2.5 0M223.95 232.7a1.25 1.25 0 1 0 2.5 0a1.25 1.25 0 1 0 -2.5 0M226.92 229.3a1.25 1.25 0 1 0 2.5 0a1.25 1.25 0 1 0 -2.5 0M229.89 233.3a1.25 1.25 0 1 0 2.5 0a1.25 1.25 0 1 0 -2.5 0M232.86 227.3a1.25 1.25 0 1 0 2.5 0a1.25 1.25 0 1 0 -2.5 0M235.83 225a1.25 1.25 0 1 0 2.5 0a1.25 1.25 0 1 0 -2.5 0M238.8 229.3a1.25 1.25 0 1 0 2.5 0a1.25 1.25 0 1 0 -2.5 0M241.77 268.7a1.25 1.25 0 1 0 2.5 0a1.25 1.25 0 1 0 -2.5 0M244.74 258.7a1.25 1.25 0 1 0 2.5 0a1.25 1.25 0 1 0 -2.5 0M247.71 234.7a1.25 1.25 0 1 0 2.5 0a1.25 1.25 0 1 0 -2.5 0M250.68 233.3a1.25 1.25 0 1 0 2.5 0a1.25 1.25 0 1 0 -2.5 0M253.65 237.3a1.25 1.25 0 1 0 2.5 0a1.25 1.25 0 1 0 -2.5 0M256.62 229.3a1.25 1.25 0 1 0 2.5 0a1.25 1.25 0 1 0 -2.5 0M259.59 226.7a1.25 1.25 0 1 0 2.5 0a1.25 1.25 0 1 0 -2.5 0M262.56 230a1.25 1.25 0 1 0 2.5 0a1.25 1.25 0 1 0 -2.5 0M265.53 270.7a1.25 1.25 0 1 0 2.5 0a1.25 1.25 0 1 0 -2.5 0M268.5 260.7a1.25 1.25 0 1 0 2.5 0a1.25 1.25 0 1 0 -2.5 0M271.47 237.3a1.25 1.25 0 1 0 2.5 0a1.25 1.25 0 1 0 -2.5 0M274.44 236.7a1.25 1.25 0 1 0 2.5 0a1.25 1.25 0 1 0 -2.5 0M277.41 240.7a1.25 1.25 0 1 0 2.5 0a1.25 1.25 0 1 0 -2.5 0M280.38 234a1.25 1.25 0 1 0 2.5 0a1.25 1.25 0 1 0 -2.5 0M283.35 231.6a1.25 1.25 0 1 0 2.5 0a1.25 1.25 0 1 0 -2.5 0M286.32 233.3a1.25 1.25 0 1 0 2.5 0a1.25 1.25 0 1 0 -2.5 0M289.29 271.3a1.25 1.25 0 1 0 2.5 0a1.25 1.25 0 1 0 -2.5 0M292.26 266.7a1.25 1.25 0 1 0 2.5 0a1.25 1.25 0 1 0 -2.5 0M295.23 242.7a1.25 1.25 0 1 0 2.5 0a1.25 1.25 0 1 0 -2.5 0M298.2 240a1.25 1.25 0 1 0 2.5 0a1.25 1.25 0 1 0 -2.5 0M301.17 243.3a1.25 1.25 0 1 0 2.5 0a1.25 1.25 0 1 0 -2.5 0M304.14 236.7a1.25 1.25 0 1 0 2.5 0a1.25 1.25 0 1 0 -2.5 0M307.11 232.7a1.25 1.25 0 1 0 2.5 0a1.25 1.25 0 1 0 -2.5 0M310.08 237.3a1.25 1.25 0 1 0 2.5 0a1.25 1.25 0 1 0 -2.5 0M313.05 278.4a1.25 1.25 0 1 0 2.5 0a1.25 1.25 0 1 0 -2.5 0"/>
</g>
<g stroke="#e31a1c" fill="#e31a1c">
<polyline fill="none" stroke-width="1.3" stroke-linejoin="round" points="372.58,249.6 375.56,232.9 378.53,240 381.51,251 384.49,248.7 387.47,246 390.44,242 393.42,243.1 396.4,245.2 399.38,229.7 402.35,238.7 405.33,249.5 408.31,244.4 411.29,241.3 414.26,236.9 417.24,236.4 420.22,242.1 423.19,226.3 426.17,235.3 429.15,247.5 432.13,240 435.11,235.3 438.08,232 441.06,232.9 444.04,238.8 447.01,222.7 449.99,232.7 452.97,245.2 455.95,236 458.93,231.3 461.9,228 464.88,228.7 467.86,238.2 470.83,222 473.81,228.7 476.79,241.6 479.77,232.7 482.75,229.3 485.72,225.3 488.7,226.8"/>
<path stroke="none" d="M371.33 249.6a1.25 1.25 0 1 0 2.5 0a1.25 1.25 0 1 0 -2.5 0M374.31 232.9a1.25 1.25 0 1 0 2.5 0a1.25 1.25 0 1 0 -2.5 0M377.28 240a1.25 1.25 0 1 0 2.5 0a1.25 1.25 0 1 0 -2.5 0M380.26 251a1.25 1.25 0 1 0 2.5 0a1.25 1.25 0 1 0 -2.5 0M383.24 248.7a1.25 1.25 0 1 0 2.5 0a1.25 1.25 0 1 0 -2.5 0M386.22 246a1.25 1.25 0 1 0 2.5 0a1.25 1.25 0 1 0 -2.5 0M389.19 242a1.25 1.25 0 1 0 2.5 0a1.25 1.25 0 1 0 -2.5 0M392.17 243.1a1.25 1.25 0 1 0 2.5 0a1.25 1.25 0 1 0 -2.5 0M395.15 245.2a1.25 1.25 0 1 0 2.5 0a1.25 1.25 0 1 0 -2.5 0M398.12 229.7a1.25 1.25 0 1 0 2.5 0a1.25 1.25 0 1 0 -2.5 0M401.1 238.7a1.25 1.25 0 1 0 2.5 0a1.25 1.25 0 1 0 -2.5 0M404.08 249.5a1.25 1.25 0 1 0 2.5 0a1.25 1.25 0 1 0 -2.5 0M407.06 244.4a1.25 1.25 0 1 0 2.5 0a1.25 1.25 0 1 0 -2.5 0M410.04 241.3a1.25 1.25 0 1 0 2.5 0a1.25 1.25 0 1 0 -2.5 0M413.01 236.9a1.25 1.25 0 1 0 2.5 0a1.25 1.25 0 1 0 -2.5 0M415.99 236.4a1.25 1.25 0 1 0 2.5 0a1.25 1.25 0 1 0 -2.5 0M418.97 242.1a1.25 1.25 0 1 0 2.5 0a1.25 1.25 0 1 0 -2.5 0M421.94 226.3a1.25 1.25 0 1 0 2.5 0a1.25 1.25 0 1 0 -2.5 0M424.92 235.3a1.25 1.25 0 1 0 2.5 0a1.25 1.25 0 1 0 -2.5 0M427.9 247.5a1.25 1.25 0 1 0 2.5 0a1.25 1.25 0 1 0 -2.5 0M430.88 240a1.25 1.25 0 1 0 2.5 0a1.25 1.25 0 1 0 -2.5 0M433.86 235.3a1.25 1.25 0 1 0 2.5 0a1.25 1.25 0 1 0 -2.5 0M436.83 232a1.25 1.25 0 1 0 2.5 0a1.25 1.25 0 1 0 -2.5 0M439.81 232.9a1.25 1.25 0 1 0 2.5 0a1.25 1.25 0 1 0 -2.5 0M442.79 238.8a1.25 1.25 0 1 0 2.5 0a1.25 1.25 0 1 0 -2.5 0M445.76 222.7a1.25 1.25 0 1 0 2.5 0a1.25 1.25 0 1 0 -2.5 0M448.74 232.7a1.25 1.25 0 1 0 2.5 0a1.25 1.25 0 1 0 -2.5 0M451.72 245.2a1.25 1.25 0 1 0 2.5 0a1.25 1.25 0 1 0 -2.5 0M454.7 236a1.25 1.25 0 1 0 2.5 0a1.25 1.25 0 1 0 -2.5 0M457.68 231.3a1.25 1.25 0 1 0 2.5 0a1.25 1.25 0 1 0 -2.5 0M460.65 228a1.25 1.25 0 1 0 2.5 0a1.25 1.25 0 1 0 -2.5 0M463.63 228.7a1.25 1.25 0 1 0 2.5 0a1.25 1.25 0 1 0 -2.5 0M466.61 238.2a1.25 1.25 0 1 0 2.5 0a1.25 1.25 0 1 0 -2.5 0M469.58 222a1.25 1.25 0 1 0 2.5 0a1.25 1.25 0 1 0 -2.5 0M472.56 228.7a1.25 1.25 0 1 0 2.5 0a1.25 1.25 0 1 0 -2.5 0M475.54 241.6a1.25 1.25 0 1 0 2.5 0a1.25 1.25 0 1 0 -2.5 0M478.52 232.7a1.25 1.25 0 1 0 2.5 0a1.25 1.25 0 1 0 -2.5 0M481.5 229.3a1.25 1.25 0 1 0 2.5 0a1.25 1.25 0 1 0 -2.5 0M484.47 225.3a1.25 1.25 0 1 0 2.5 0a1.25 1.25 0 1 0 -2.5 0M487.45 226.8a1.25 1.25 0 1 0 2.5 0a1.25 1.25 0 1 0 -2.5 0"/>
</g>
<g stroke="#fb9a99" fill="#fb9a99">
<polyline fill="none" stroke-width="1.3" stroke-linejoin="round" points="372.58,248.7 375.56,232.9 378.53,240 381.51,250 384.49,248.7 387.47,246 390.44,242 393.42,243.1 396.4,244.4 399.38,229.7 402.35,238.7 405.33,248.7 408.31,244.4 411.29,241.3 414.26,236.9 417.24,236.4 420.22,241.3 423.19,226.3 426.17,235.3 429.15,246.7 432.13,240 435.11,235.3 438.08,232 441.06,232.9 444.04,238 447.01,222.7 449.99,232.7 452.97,244 455.95,236 458.93,231.3 461.9,228 464.88,228.7 467.86,237.3 470.83,222 473.81,228.7 476.79,240.7 479.77,232.7 482.75,229.3 485.72,225.3 488.7,226.3"/>
<path stroke="none" d="M371.33 248.7a1.25 1.25 0 1 0 2.5 0a1.25 1.25 0 1 0 -2.5 0M374.31 232.9a1.25 1.25 0 1 0 2.5 0a1.25 1.25 0 1 0 -2.5 0M377.28 240a1.25 1.25 0 1 0 2.5 0a1.25 1.25 0 1 0 -2.5 0M380.26 250a1.25 1.25 0 1 0 2.5 0a1.25 1.25 0 1 0 -2.5 0M383.24 248.7a1.25 1.25 0 1 0 2.5 0a1.25 1.25 0 1 0 -2.5 0M386.22 246a1.25 1.25 0 1 0 2.5 0a1.25 1.25 0 1 0 -2.5 0M389.19 242a1.25 1.25 0 1 0 2.5 0a1.25 1.25 0 1 0 -2.5 0M392.17 243.1a1.25 1.25 0 1 0 2.5 0a1.25 1.25 0 1 0 -2.5 0M395.15 244.4a1.25 1.25 0 1 0 2.5 0a1.25 1.25 0 1 0 -2.5 0M398.12 229.7a1.25 1.25 0 1 0 2.5 0a1.25 1.25 0 1 0 -2.5 0M401.1 238.7a1.25 1.25 0 1 0 2.5 0a1.25 1.25 0 1 0 -2.5 0M404.08 248.7a1.25 1.25 0 1 0 2.5 0a1.25 1.25 0 1 0 -2.5 0M407.06 244.4a1.25 1.25 0 1 0 2.5 0a1.25 1.25 0 1 0 -2.5 0M410.04 241.3a1.25 1.25 0 1 0 2.5 0a1.25 1.25 0 1 0 -2.5 0M413.01 236.9a1.25 1.25 0 1 0 2.5 0a1.25 1.25 0 1 0 -2.5 0M415.99 236.4a1.25 1.25 0 1 0 2.5 0a1.25 1.25 0 1 0 -2.5 0M418.97 241.3a1.25 1.25 0 1 0 2.5 0a1.25 1.25 0 1 0 -2.5 0M421.94 226.3a1.25 1.25 0 1 0 2.5 0a1.25 1.25 0 1 0 -2.5 0M424.92 235.3a1.25 1.25 0 1 0 2.5 0a1.25 1.25 0 1 0 -2.5 0M427.9 246.7a1.25 1.25 0 1 0 2.5 0a1.25 1.25 0 1 0 -2.5 0M430.88 240a1.25 1.25 0 1 0 2.5 0a1.25 1.25 0 1 0 -2.5 0M433.86 235.3a1.25 1.25 0 1 0 2.5 0a1.25 1.25 0 1 0 -2.5 0M436.83 232a1.25 1.25 0 1 0 2.5 0a1.25 1.25 0 1 0 -2.5 0M439.81 232.9a1.25 1.25 0 1 0 2.5 0a1.25 1.25 0 1 0 -2.5 0M442.79 238a1.25 1.25 0 1 0 2.5 0a1.25 1.25 0 1 0 -2.5 0M445.76 222.7a1.25 1.25 0 1 0 2.5 0a1.25 1.25 0 1 0 -2.5 0M448.74 232.7a1.25 1.25 0 1 0 2.5 0a1.25 1.25 0 1 0 -2.5 0M451.72 244a1.25 1.25 0 1 0 2.5 0a1.25 1.25 0 1 0 -2.5 0M454.7 236a1.25 1.25 0 1 0 2.5 0a1.25 1.25 0 1 0 -2.5 0M457.68 231.3a1.25 1.25 0 1 0 2.5 0a1.25 1.25 0 1 0 -2.5 0M460.65 228a1.25 1.25 0 1 0 2.5 0a1.25 1.25 0 1 0 -2.5 0M463.63 228.7a1.25 1.25 0 1 0 2.5 0a1.25 1.25 0 1 0 -2.5 0M466.61 237.3a1.25 1.25 0 1 0 2.5 0a1.25 1.25 0 1 0 -2.5 0M469.58 222a1.25 1.25 0 1 0 2.5 0a1.25 1.25 0 1 0 -2.5 0M472.56 228.7a1.25 1.25 0 1 0 2.5 0a1.25 1.25 0 1 0 -2.5 0M475.54 240.7a1.25 1.25 0 1 0 2.5 0a1.25 1.25 0 1 0 -2.5 0M478.52 232.7a1.25 1.25 0 1 0 2.5 0a1.25 1.25 0 1 0 -2.5 0M481.5 229.3a1.25 1.25 0 1 0 2.5 0a1.25 1.25 0 1 0 -2.5 0M484.47 225.3a1.25 1.25 0 1 0 2.5 0a1.25 1.25 0 1 0 -2.5 0M487.45 226.3a1.25 1.25 0 1 0 2.5 0a1.25 1.25 0 1 0 -2.5 0"/>
</g>
<g stroke="#a6cee3" fill="#a6cee3">
<polyline fill="none" stroke-width="1.3" stroke-linejoin="round" points="372.58,240.9 375.56,235.3 378.53,237.3 381.51,243.1 384.49,244.7 387.47,242.7 390.44,238.7 393.42,232 396.4,235.6 399.38,230 402.35,233.7 405.33,241.3 408.31,238.3 411.29,239.1 414.26,236.7 417.24,227.1 420.22,231.6 423.19,228 426.17,230.7 429.15,240 432.13,234.7 435.11,230.7 438.08,221.7 441.06,213.3 444.04,198.3 447.01,224 449.99,228.7 452.97,236.7 455.95,227.3 458.93,225.7 461.9,223.1 464.88,212 467.86,212 470.83,221.3 473.81,226 476.79,236.7 479.77,228.4 482.75,226.7 485.72,222 488.7,216"/>
<path stroke="none" d="M371.33 240.9a1.25 1.25 0 1 0 2.5 0a1.25 1.25 0 1 0 -2.5 0M374.31 235.3a1.25 1.25 0 1 0 2.5 0a1.25 1.25 0 1 0 -2.5 0M377.28 237.3a1.25 1.25 0 1 0 2.5 0a1.25 1.25 0 1 0 -2.5 0M380.26 243.1a1.25 1.25 0 1 0 2.5 0a1.25 1.25 0 1 0 -2.5 0M383.24 244.7a1.25 1.25 0 1 0 2.5 0a1.25 1.25 0 1 0 -2.5 0M386.22 242.7a1.25 1.25 0 1 0 2.5 0a1.25 1.25 0 1 0 -2.5 0M389.19 238.7a1.25 1.25 0 1 0 2.5 0a1.25 1.25 0 1 0 -2.5 0M392.17 232a1.25 1.25 0 1 0 2.5 0a1.25 1.25 0 1 0 -2.5 0M395.15 235.6a1.25 1.25 0 1 0 2.5 0a1.25 1.25 0 1 0 -2.5 0M398.12 230a1.25 1.25 0 1 0 2.5 0a1.25 1.25 0 1 0 -2.5 0M401.1 233.7a1.25 1.25 0 1 0 2.5 0a1.25 1.25 0 1 0 -2.5 0M404.08 241.3a1.25 1.25 0 1 0 2.5 0a1.25 1.25 0 1 0 -2.5 0M407.06 238.3a1.25 1.25 0 1 0 2.5 0a1.25 1.25 0 1 0 -2.5 0M410.04 239.1a1.25 1.25 0 1 0 2.5 0a1.25 1.25 0 1 0 -2.5 0M413.01 236.7a1.25 1.25 0 1 0 2.5 0a1.25 1.25 0 1 0 -2.5 0M415.99 227.1a1.25 1.25 0 1 0 2.5 0a1.25 1.25 0 1 0 -2.5 0M418.97 231.6a1.25 1.25 0 1 0 2.5 0a1.25 1.25 0 1 0 -2.5 0M421.94 228a1.25 1.25 0 1 0 2.5 0a1.25 1.25 0 1 0 -2.5 0M424.92 230.7a1.25 1.25 0 1 0 2.5 0a1.25 1.25 0 1 0 -2.5 0M427.9 240a1.25 1.25 0 1 0 2.5 0a1.25 1.25 0 1 0 -2.5 0M430.88 234.7a1.25 1.25 0 1 0 2.5 0a1.25 1.25 0 1 0 -2.5 0M433.86 230.7a1.25 1.25 0 1 0 2.5 0a1.25 1.25 0 1 0 -2.5 0M436.83 221.7a1.25 1.25 0 1 0 2.5 0a1.25 1.25 0 1 0 -2.5 0M439.81 213.3a1.25 1.25 0 1 0 2.5 0a1.25 1.25 0 1 0 -2.5 0M442.79 198.3a1.25 1.25 0 1 0 2.5 0a1.25 1.25 0 1 0 -2.5 0M445.76 224a1.25 1.25 0 1 0 2.5 0a1.25 1.25 0 1 0 -2.5 0M448.74 228.7a1.25 1.25 0 1 0 2.5 0a1.25 1.25 0 1 0 -2.5 0M451.72 236.7a1.25 1.25 0 1 0 2.5 0a1.25 1.25 0 1 0 -2.5 0M454.7 227.3a1.25 1.25 0 1 0 2.5 0a1.25 1.25 0 1 0 -2.5 0M457.68 225.7a1.25 1.25 0 1 0 2.5 0a1.25 1.25 0 1 0 -2.5 0M460.65 223.1a1.25 1.25 0 1 0 2.5 0a1.25 1.25 0 1 0 -2.5 0M463.63 212a1.25 1.25 0 1 0 2.5 0a1.25 1.25 0 1 0 -2.5 0M466.61 212a1.25 1.25 0 1 0 2.5 0a1.25 1.25 0 1 0 -2.5 0M469.58 221.3a1.25 1.25 0 1 0 2.5 0a1.25 1.25 0 1 0 -2.5 0M472.56 226a1.25 1.25 0 1 0 2.5 0a1.25 1.25 0 1 0 -2.5 0M475.54 236.7a1.25 1.25 0 1 0 2.5 0a1.25 1.25 0 1 0 -2.5 0M478.52 228.4a1.25 1.25 0 1 0 2.5 0a1.25 1.25 0 1 0 -2.5 0M481.5 226.7a1.25 1.25 0 1 0 2.5 0a1.25 1.25 0 1 0 -2.5 0M484.47 222a1.25 1.25 0 1 0 2.5 0a1.25 1.25 0 1 0 -2.5 0M487.45 216a1.25 1.25 0 1 0 2.5 0a1.25 1.25 0 1 0 -2.5 0"/>
</g>
<g stroke="#e31a1c" fill="#e31a1c">
<polyline fill="none" stroke-width="1.3" stroke-linejoin="round" points="552.58,226.2 555.55,216.8 558.52,219 561.5,214.7 564.48,225.4 567.45,230.7 570.43,247.7 573.4,246.1 576.38,225.7 579.35,216.7 582.33,217.4 585.3,212.7 588.27,225.5 591.25,228.9 594.23,247.4 597.2,245.7 600.18,225.2 603.15,214 606.12,213.4 609.1,209.4 612.08,221.4 615.05,225.7 618.02,246.4 621,244.7 623.98,224.9 626.95,210.7 629.93,208.7 632.9,204 635.88,217.4 638.85,224.2 641.83,246.4 644.8,244.4 647.77,223.9 650.75,206 653.73,202.7 656.7,198.7 659.68,212.7 662.65,216.5 665.62,243.7 668.6,243"/>
<path stroke="none" d="M551.33 226.2a1.25 1.25 0 1 0 2.5 0a1.25 1.25 0 1 0 -2.5 0M554.3 216.8a1.25 1.25 0 1 0 2.5 0a1.25 1.25 0 1 0 -2.5 0M557.27 219a1.25 1.25 0 1 0 2.5 0a1.25 1.25 0 1 0 -2.5 0M560.25 214.7a1.25 1.25 0 1 0 2.5 0a1.25 1.25 0 1 0 -2.5 0M563.23 225.4a1.25 1.25 0 1 0 2.5 0a1.25 1.25 0 1 0 -2.5 0M566.2 230.7a1.25 1.25 0 1 0 2.5 0a1.25 1.25 0 1 0 -2.5 0M569.18 247.7a1.25 1.25 0 1 0 2.5 0a1.25 1.25 0 1 0 -2.5 0M572.15 246.1a1.25 1.25 0 1 0 2.5 0a1.25 1.25 0 1 0 -2.5 0M575.12 225.7a1.25 1.25 0 1 0 2.5 0a1.25 1.25 0 1 0 -2.5 0M578.1 216.7a1.25 1.25 0 1 0 2.5 0a1.25 1.25 0 1 0 -2.5 0M581.08 217.4a1.25 1.25 0 1 0 2.5 0a1.25 1.25 0 1 0 -2.5 0M584.05 212.7a1.25 1.25 0 1 0 2.5 0a1.25 1.25 0 1 0 -2.5 0M587.02 225.5a1.25 1.25 0 1 0 2.5 0a1.25 1.25 0 1 0 -2.5 0M590 228.9a1.25 1.25 0 1 0 2.5 0a1.25 1.25 0 1 0 -2.5 0M592.98 247.4a1.25 1.25 0 1 0 2.5 0a1.25 1.25 0 1 0 -2.5 0M595.95 245.7a1.25 1.25 0 1 0 2.5 0a1.25 1.25 0 1 0 -2.5 0M598.93 225.2a1.25 1.25 0 1 0 2.5 0a1.25 1.25 0 1 0 -2.5 0M601.9 214a1.25 1.25 0 1 0 2.5 0a1.25 1.25 0 1 0 -2.5 0M604.88 213.4a1.25 1.25 0 1 0 2.5 0a1.25 1.25 0 1 0 -2.5 0M607.85 209.4a1.25 1.25 0 1 0 2.5 0a1.25 1.25 0 1 0 -2.5 0M610.83 221.4a1.25 1.25 0 1 0 2.5 0a1.25 1.25 0 1 0 -2.5 0M613.8 225.7a1.25 1.25 0 1 0 2.5 0a1.25 1.25 0 1 0 -2.5 0M616.77 246.4a1.25 1.25 0 1 0 2.5 0a1.25 1.25 0 1 0 -2.5 0M619.75 244.7a1.25 1.25 0 1 0 2.5 0a1.25 1.25 0 1 0 -2.5 0M622.73 224.9a1.25 1.25 0 1 0 2.5 0a1.25 1.25 0 1 0 -2.5 0M625.7 210.7a1.25 1.25 0 1 0 2.5 0a1.25 1.25 0 1 0 -2.5 0M628.68 208.7a1.25 1.25 0 1 0 2.5 0a1.25 1.25 0 1 0 -2.5 0M631.65 204a1.25 1.25 0 1 0 2.5 0a1.25 1.25 0 1 0 -2.5 0M634.62 217.4a1.25 1.25 0 1 0 2.5 0a1.25 1.25 0 1 0 -2.5 0M637.6 224.2a1.25 1.25 0 1 0 2.5 0a1.25 1.25 0 1 0 -2.5 0M640.58 246.4a1.25 1.25 0 1 0 2.5 0a1.25 1.25 0 1 0 -2.5 0M643.55 244.4a1.25 1.25 0 1 0 2.5 0a1.25 1.25 0 1 0 -2.5 0M646.52 223.9a1.25 1.25 0 1 0 2.5 0a1.25 1.25 0 1 0 -2.5 0M649.5 206a1.25 1.25 0 1 0 2.5 0a1.25 1.25 0 1 0 -2.5 0M652.48 202.7a1.25 1.25 0 1 0 2.5 0a1.25 1.25 0 1 0 -2.5 0M655.45 198.7a1.25 1.25 0 1 0 2.5 0a1.25 1.25 0 1 0 -2.5 0M658.43 212.7a1.25 1.25 0 1 0 2.5 0a1.25 1.25 0 1 0 -2.5 0M661.4 216.5a1.25 1.25 0 1 0 2.5 0a1.25 1.25 0 1 0 -2.5 0M664.38 243.7a1.25 1.25 0 1 0 2.5 0a1.25 1.25 0 1 0 -2.5 0M667.35 243a1.25 1.25 0 1 0 2.5 0a1.25 1.25 0 1 0 -2.5 0"/>
</g>
<g stroke="#fb9a99" fill="#fb9a99">
<polyline fill="none" stroke-width="1.3" stroke-linejoin="round" points="552.58,225.5 555.55,216 558.52,218 561.5,214 564.48,224.7 567.45,230 570.43,247 573.4,245.4 576.38,225 579.35,216 582.33,216.7 585.3,212 588.27,224.8 591.25,228.2 594.23,246.7 597.2,245 600.18,224.5 603.15,213.3 606.12,212.7 609.1,208.7 612.08,220.7 615.05,225 618.02,245.7 621,244 623.98,224.2 626.95,210 629.93,208 632.9,203.3 635.88,216.7 638.85,223.5 641.83,245.7 644.8,243.7 647.77,223.2 650.75,208 653.73,202 656.7,198 659.68,210.7 662.65,215.2 665.62,243 668.6,242.3"/>
<path stroke="none" d="M551.33 225.5a1.25 1.25 0 1 0 2.5 0a1.25 1.25 0 1 0 -2.5 0M554.3 216a1.25 1.25 0 1 0 2.5 0a1.25 1.25 0 1 0 -2.5 0M557.27 218a1.25 1.25 0 1 0 2.5 0a1.25 1.25 0 1 0 -2.5 0M560.25 214a1.25 1.25 0 1 0 2.5 0a1.25 1.25 0 1 0 -2.5 0M563.23 224.7a1.25 1.25 0 1 0 2.5 0a1.25 1.25 0 1 0 -2.5 0M566.2 230a1.25 1.25 0 1 0 2.5 0a1.25 1.25 0 1 0 -2.5 0M569.18 247a1.25 1.25 0 1 0 2.5 0a1.25 1.25 0 1 0 -2.5 0M572.15 245.4a1.25 1.25 0 1 0 2.5 0a1.25 1.25 0 1 0 -2.5 0M575.12 225a1.25 1.25 0 1 0 2.5 0a1.25 1.25 0 1 0 -2.5 0M578.1 216a1.25 1.25 0 1 0 2.5 0a1.25 1.25 0 1 0 -2.5 0M581.08 216.7a1.25 1.25 0 1 0 2.5 0a1.25 1.25 0 1 0 -2.5 0M584.05 212a1.25 1.25 0 1 0 2.5 0a1.25 1.25 0 1 0 -2.5 0M587.02 224.8a1.25 1.25 0 1 0 2.5 0a1.25 1.25 0 1 0 -2.5 0M590 228.2a1.25 1.25 0 1 0 2.5 0a1.25 1.25 0 1 0 -2.5 0M592.98 246.7a1.25 1.25 0 1 0 2.5 0a1.25 1.25 0 1 0 -2.5 0M595.95 245a1.25 1.25 0 1 0 2.5 0a1.25 1.25 0 1 0 -2.5 0M598.93 224.5a1.25 1.25 0 1 0 2.5 0a1.25 1.25 0 1 0 -2.5 0M601.9 213.3a1.25 1.25 0 1 0 2.5 0a1.25 1.25 0 1 0 -2.5 0M604.88 212.7a1.25 1.25 0 1 0 2.5 0a1.25 1.25 0 1 0 -2.5 0M607.85 208.7a1.25 1.25 0 1 0 2.5 0a1.25 1.25 0 1 0 -2.5 0M610.83 220.7a1.25 1.25 0 1 0 2.5 0a1.25 1.25 0 1 0 -2.5 0M613.8 225a1.25 1.25 0 1 0 2.5 0a1.25 1.25 0 1 0 -2.5 0M616.77 245.7a1.25 1.25 0 1 0 2.5 0a1.25 1.25 0 1 0 -2.5 0M619.75 244a1.25 1.25 0 1 0 2.5 0a1.25 1.25 0 1 0 -2.5 0M622.73 224.2a1.25 1.25 0 1 0 2.5 0a1.25 1.25 0 1 0 -2.5 0M625.7 210a1.25 1.25 0 1 0 2.5 0a1.25 1.25 0 1 0 -2.5 0M628.68 208a1.25 1.25 0 1 0 2.5 0a1.25 1.25 0 1 0 -2.5 0M631.65 203.3a1.25 1.25 0 1 0 2.5 0a1.25 1.25 0 1 0 -2.5 0M634.62 216.7a1.25 1.25 0 1 0 2.5 0a1.25 1.25 0 1 0 -2.5 0M637.6 223.5a1.25 1.25 0 1 0 2.5 0a1.25 1.25 0 1 0 -2.5 0M640.58 245.7a1.25 1.25 0 1 0 2.5 0a1.25 1.25 0 1 0 -2.5 0M643.55 243.7a1.25 1.25 0 1 0 2.5 0a1.25 1.25 0 1 0 -2.5 0M646.52 223.2a1.25 1.25 0 1 0 2.5 0a1.25 1.25 0 1 0 -2.5 0M649.5 208a1.25 1.25 0 1 0 2.5 0a1.25 1.25 0 1 0 -2.5 0M652.48 202a1.25 1.25 0 1 0 2.5 0a1.25 1.25 0 1 0 -2.5 0M655.45 198a1.25 1.25 0 1 0 2.5 0a1.25 1.25 0 1 0 -2.5 0M658.43 210.7a1.25 1.25 0 1 0 2.5 0a1.25 1.25 0 1 0 -2.5 0M661.4 215.2a1.25 1.25 0 1 0 2.5 0a1.25 1.25 0 1 0 -2.5 0M664.38 243a1.25 1.25 0 1 0 2.5 0a1.25 1.25 0 1 0 -2.5 0M667.35 242.3a1.25 1.25 0 1 0 2.5 0a1.25 1.25 0 1 0 -2.5 0"/>
</g>
<g stroke="#a6cee3" fill="#a6cee3">
<polyline fill="none" stroke-width="1.3" stroke-linejoin="round" points="552.58,208 555.55,200.7 558.52,201.3 561.5,188 564.48,211.3 567.45,219.2 570.43,236.3 573.4,231.7 576.38,208 579.35,200.9 582.33,200 585.3,184.9 588.27,208.7 591.25,216.5 594.23,236.3 597.2,231.7 600.18,208 603.15,200 606.12,197.3 609.1,182.3 612.08,208.3 615.05,216 618.02,236.3 621,231.7 623.98,208 626.95,198.7 629.93,194.7 632.9,179.6 635.88,205 638.85,213.3 641.83,236.3 644.8,232.3 647.77,206.7 650.75,197.3 653.73,193 656.7,178.3 659.68,202.7 662.65,213.3 665.62,235 668.6,231.7"/>
<path stroke="none" d="M551.33 208a1.25 1.25 0 1 0 2.5 0a1.25 1.25 0 1 0 -2.5 0M554.3 200.7a1.25 1.25 0 1 0 2.5 0a1.25 1.25 0 1 0 -2.5 0M557.27 201.3a1.25 1.25 0 1 0 2.5 0a1.25 1.25 0 1 0 -2.5 0M560.25 188a1.25 1.25 0 1 0 2.5 0a1.25 1.25 0 1 0 -2.5 0M563.23 211.3a1.25 1.25 0 1 0 2.5 0a1.25 1.25 0 1 0 -2.5 0M566.2 219.2a1.25 1.25 0 1 0 2.5 0a1.25 1.25 0 1 0 -2.5 0M569.18 236.3a1.25 1.25 0 1 0 2.5 0a1.25 1.25 0 1 0 -2.5 0M572.15 231.7a1.25 1.25 0 1 0 2.5 0a1.25 1.25 0 1 0 -2.5 0M575.12 208a1.25 1.25 0 1 0 2.5 0a1.25 1.25 0 1 0 -2.5 0M578.1 200.9a1.25 1.25 0 1 0 2.5 0a1.25 1.25 0 1 0 -2.5 0M581.08 200a1.25 1.25 0 1 0 2.5 0a1.25 1.25 0 1 0 -2.5 0M584.05 184.9a1.25 1.25 0 1 0 2.5 0a1.25 1.25 0 1 0 -2.5 0M587.02 208.7a1.25 1.25 0 1 0 2.5 0a1.25 1.25 0 1 0 -2.5 0M590 216.5a1.25 1.25 0 1 0 2.5 0a1.25 1.25 0 1 0 -2.5 0M592.98 236.3a1.25 1.25 0 1 0 2.5 0a1.25 1.25 0 1 0 -2.5 0M595.95 231.7a1.25 1.25 0 1 0 2.5 0a1.25 1.25 0 1 0 -2.5 0M598.93 208a1.25 1.25 0 1 0 2.5 0a1.25 1.25 0 1 0 -2.5 0M601.9 200a1.25 1.25 0 1 0 2.5 0a1.25 1.25 0 1 0 -2.5 0M604.88 197.3a1.25 1.25 0 1 0 2.5 0a1.25 1.25 0 1 0 -2.5 0M607.85 182.3a1.25 1.25 0 1 0 2.5 0a1.25 1.25 0 1 0 -2.5 0M610.83 208.3a1.25 1.25 0 1 0 2.5 0a1.25 1.25 0 1 0 -2.5 0M613.8 216a1.25 1.25 0 1 0 2.5 0a1.25 1.25 0 1 0 -2.5 0M616.77 236.3a1.25 1.25 0 1 0 2.5 0a1.25 1.25 0 1 0 -2.5 0M619.75 231.7a1.25 1.25 0 1 0 2.5 0a1.25 1.25 0 1 0 -2.5 0M622.73 208a1.25 1.25 0 1 0 2.5 0a1.25 1.25 0 1 0 -2.5 0M625.7 198.7a1.25 1.25 0 1 0 2.5 0a1.25 1.25 0 1 0 -2.5 0M628.68 194.7a1.25 1.25 0 1 0 2.5 0a1.25 1.25 0 1 0 -2.5 0M631.65 179.6a1.25 1.25 0 1 0 2.5 0a1.25 1.25 0 1 0 -2.5 0M634.62 205a1.25 1.25 0 1 0 2.5 0a1.25 1.25 0 1 0 -2.5 0M637.6 213.3a1.25 1.25 0 1 0 2.5 0a1.25 1.25 0 1 0 -2.5 0M640.58 236.3a1.25 1.25 0 1 0 2.5 0a1.25 1.25 0 1 0 -2.5 0M643.55 232.3a1.25 1.25 0 1 0 2.5 0a1.25 1.25 0 1 0 -2.5 0M646.52 206.7a1.25 1.25 0 1 0 2.5 0a1.25 1.25 0 1 0 -2.5 0M649.5 197.3a1.25 1.25 0 1 0 2.5 0a1.25 1.25 0 1 0 -2.5 0M652.48 193a1.25 1.25 0 1 0 2.5 0a1.25 1.25 0 1 0 -2.5 0M655.45 178.3a1.25 1.25 0 1 0 2.5 0a1.25 1.25 0 1 0 -2.5 0M658.43 202.7a1.25 1.25 0 1 0 2.5 0a1.25 1.25 0 1 0 -2.5 0M661.4 213.3a1.25 1.25 0 1 0 2.5 0a1.25 1.25 0 1 0 -2.5 0M664.38 235a1.25 1.25 0 1 0 2.5 0a1.25 1.25 0 1 0 -2.5 0M667.35 231.7a1.25 1.25 0 1 0 2.5 0a1.25 1.25 0 1 0 -2.5 0"/>
</g>
<path d="M38 88.3h7.2" stroke="#a6cee3" stroke-width="1.4" fill="none"/>
<circle cx="41.6" cy="88.3" r="1.5" fill="#a6cee3"/>
<text x="49" y="91.1">CAMS</text>
<path d="M38 99.75h7.2" stroke="#fb9a99" stroke-width="1.4" fill="none"/>
<circle cx="41.6" cy="99.75" r="1.5" fill="#fb9a99"/>
<text x="49" y="102.55">AI-GAMFS</text>
<path d="M38 111.3h7.2" stroke="#e31a1c" stroke-width="1.4" fill="none"/>
<circle cx="41.6" cy="111.3" r="1.5" fill="#e31a1c"/>
<text x="49" y="114.1">Operational AI-GAMFS</text>
<g font-weight="bold" font-size="10.3">
<text x="-0.5" y="6.1">a</text><text x="-0.3" y="166.1">b</text><text x="-0.1" y="327.3">c</text>
</g>
<defs>
<clipPath id="rb"><path d="M127.04 410L128.8 409.47L130.7 408.84L132.86 408.02L135.11 407.06L137.4 406.04L139.4 404.92L141.33 403.77L143.15 402.59L144.89 401.36L146.61 400.11L148.21 398.82L149.76 397.52L151.21 396.2L152.53 394.85L153.78 393.5L154.9 392.13L155.95 390.76L156.88 389.38L157.7 387.99L158.46 386.61L159.03 385.22L159.55 383.84L159.96 382.45L160.32 381.06L160.67 379.68L160.9 378.29L161.11 376.91L161.25 375.52L161.34 374.14L161.4 372.75L161.34 371.36L161.25 369.98L161.11 368.59L160.9 367.21L160.67 365.82L160.32 364.44L159.96 363.05L159.55 361.66L159.03 360.28L158.46 358.89L157.7 357.51L156.88 356.12L155.95 354.74L154.9 353.37L153.78 352L152.53 350.65L151.21 349.3L149.76 347.98L148.21 346.68L146.61 345.39L144.89 344.14L143.15 342.91L141.33 341.73L139.4 340.58L137.4 339.46L135.11 338.44L132.86 337.48L130.7 336.66L128.8 336.03L127.04 335.5L48.86 335.5L47.1 336.03L45.2 336.66L43.04 337.48L40.79 338.44L38.5 339.46L36.5 340.58L34.57 341.73L32.75 342.91L31.01 344.14L29.29 345.39L27.69 346.68L26.14 347.98L24.69 349.3L23.37 350.65L22.12 352L21 353.37L19.95 354.74L19.02 356.12L18.2 357.51L17.44 358.89L16.87 360.28L16.35 361.66L15.94 363.05L15.58 364.44L15.23 365.82L15 367.21L14.79 368.59L14.65 369.98L14.56 371.36L14.5 372.75L14.56 374.14L14.65 375.52L14.79 376.91L15 378.29L15.23 379.68L15.58 381.06L15.94 382.45L16.35 383.84L16.87 385.22L17.44 386.61L18.2 387.99L19.02 389.38L19.95 390.76L21 392.13L22.12 393.5L23.37 394.85L24.69 396.2L26.14 397.52L27.69 398.82L29.29 400.11L31.01 401.36L32.75 402.59L34.57 403.77L36.5 404.92L38.5 406.04L40.79 407.06L43.04 408.02L45.2 408.84L47.1 409.47L48.86 410Z"/></clipPath>
<clipPath id="lc"><path d="M36.43 342.91L38.46 342.12L42.78 340.96L44.68 341.14L46.6 341.33L49.83 341.33L51.53 341.53L53.25 341.73L55.56 342.12L57.96 342.12L60.09 341.33L61.26 341.73L62.74 341.73L63.08 342.52L60.7 343.73L57.94 344.97L56.76 346.25L57.82 346.68L58.99 347.54L59.57 348.42L59.83 349.3L60.82 347.98L62.17 346.68L62.53 345.39L63.35 344.56L64.94 344.56L65.79 345.39L66.58 345.82L67.19 346.68L67.51 347.54L68.42 348.86L66.7 349.74L64.58 349.74L64.63 350.65L64.69 351.55L66.15 351.55L64.41 352.45L63.45 352L62.06 352.91L61.84 353.6L60.12 354.28L58.98 355.66L58.71 356.58L57.34 357.51L56.33 358.43L56.36 360.28L55.99 361.2L55.57 360.28L55.35 359.35L54.65 358.89L53.09 358.89L52.21 359.35L51.08 359.12L49.64 360.28L49.17 361.66L49.15 363.05L49.81 363.97L51.42 363.97L51.95 363.05L53.15 363.05L52.57 364.44L52.46 365.36L54.04 365.59L54.31 367.21L54.24 368.13L55.03 368.59L55.85 368.36L56.63 369.05L56.21 369.52L55.41 369.05L54.6 369.05L53.82 368.36L53.06 367.67L52.53 366.75L51.15 366.28L50.04 365.36L48.83 365.36L47.31 364.67L45.87 363.51L45.7 362.13L44.79 360.74L43.96 359.35L43.84 358.43L43.1 358.89L43.6 360.74L44.11 362.13L43.48 361.2L42.78 359.35L42.53 357.74L41.7 356.81L41.44 355.66L41.32 354.28L42.09 352.91L42.89 351.55L43.61 350.42L43.14 349.52L43.31 347.98L43.42 346.68L42.9 345.82L42 345.39L40.84 344.97L39.55 344.97L37.97 345.82L35.96 346.46L33.67 347.32L31.85 347.76L34.86 346.25L34.92 345.6L34.7 344.97L36.07 344.14L37.78 343.52L36.49 343.31ZM65.38 340.21L67.1 340.96L67.93 342.52L68.94 342.91L67.39 344.14L65.81 344.14L64.7 343.31L66.05 342.12L64.49 341.33L62.47 340.96L63.29 340.02ZM54.08 340.96L55.4 341.33L56.81 341.73L58.8 340.58L57.48 340.21L54.94 340.21ZM52.22 340.58L54 340.77L55.44 340.02L54.21 339.65ZM63.61 339.12L65.23 339.12L66.85 339.12L69.91 338.1L72.73 337.21L70.56 336.94L68.9 337.12L67.21 337.3L65.49 337.48ZM60.48 339.46L62.45 339.56L64.44 339.65L66.14 339.29L64.38 339.04L62.66 338.78ZM66.78 350.65L68.81 351.1L69.06 350.2L68.34 349.08ZM54.01 362.59L56.07 362.13L57.89 363.51L57.09 363.51L55.21 362.59ZM58.24 363.97L60.27 363.74L60.43 364.2L58.2 364.44ZM68.82 338.44L71.09 337.76L73.22 337.21L74.96 337.07L76.68 336.94L78.37 336.8L79.74 336.94L81.13 337.07L82.55 337.21L83.23 338.44L82.38 339.84L81.5 341.33L79.55 342.12L77.22 342.91L75.49 343.52L73.94 345.39L72.46 344.97L71.83 343.31L71.93 341.73L72.03 340.96L72.02 339.46L69.56 339.12ZM80.55 343.11L81.24 342.72L83.07 342.72L83.77 343.31L82.27 344.02L80.9 343.73ZM56.63 369.05L57.52 367.67L58.77 367.21L59.58 367.21L60.75 367.9L62.78 367.9L63.56 368.82L64.74 369.98L66.76 370.44L67.55 372.29L67.55 372.98L69.6 373.67L71.64 374.14L72.87 375.06L73.71 375.98L73.72 376.91L72.95 378.29L72.19 379.68L72.27 381.06L71.58 382.91L70.41 383.37L68.92 384.53L68.85 385.68L68.04 387.07L67.49 388.45L65.98 388.69L65.74 389.38L66.32 390.3L64.53 390.76L64.39 391.68L63.78 392.13L64.18 393.5L63.42 393.95L64.27 394.85L63.7 396.2L64.24 397.08L65.46 397.96L64.1 397.96L62.14 396.64L61.04 394.85L61.1 393.05L60.5 391.22L60.12 389.84L60.14 387.53L59.99 385.68L60.05 383.37L59.81 381.06L57.21 379.22L55.82 376.45L54.95 375.29L55.33 374.14L55.31 372.75L55.73 371.83L56.56 370.9ZM85.65 356.22L87.18 356.58L89.09 355.66L91.76 355.66L92.2 357.05L93.77 357.74L95.76 358.43L96.48 357.6L97.68 358.11L99.27 358.43L100.43 358.34L101.34 359.82L102.07 361.66L102.75 363.05L103.02 364.2L103.89 365.59L105.38 367.21L106.22 367.9L108.62 367.3L108.48 368.59L107.31 370.67L105.9 372.29L104.67 373.67L104.05 375.06L103.81 376.45L104.38 377.83L104.31 379.68L102.83 381.06L101.98 381.99L102.07 383.84L101.02 384.76L100.72 386.15L99.64 387.3L98.38 388.36L96.43 388.59L95.09 388.45L94.78 387.07L93.87 385.22L93.74 382.91L92.77 381.06L93.42 378.29L92.92 375.52L91.82 373.67L91.82 371.36L91.41 370.67L89.99 370.21L88.76 369.84L86.73 370.44L84.89 370.72L83.47 369.52L82.46 368.36L81.86 367.67L81.08 365.96L81.32 364.44L81.35 363.05L81.98 361.66L82.82 360.05L84.03 359.12L84.14 357.97ZM107.93 378.29L108.33 379.91L107.12 382.91L106.61 384.3L105.42 384.3L105.35 382.45L105.9 380.14L106.95 379.45ZM84.52 355.66L84.36 354.74L84.62 352.91L87.21 352.68L87.4 351.55L86.34 350.42L87.41 350.33L88.48 349.52L89.35 348.86L90.36 348.2L90.85 347.54L90.63 346.68L91.45 346.46L91.51 347.32L92.24 347.89L92.76 347.98L94.28 347.76L95.11 347.54L94.98 346.68L95.95 346.46L95.68 345.82L97.1 345.52L97.73 345.39L96.4 345.26L95.28 345.39L94.82 344.56L94.87 343.93L95.7 343.31L95.17 342.99L94.65 343.52L93.67 344.35L93.46 345.18L94.01 345.6L93.47 346.68L92.85 347.11L92.29 347.32L91.58 346.03L90.6 346.25L89.76 345.82L89.56 344.76L90.47 343.93L91.65 343.11L92.3 342.12L93.26 341.53L94.38 341.22L95.48 340.96L96.75 341.33L97.7 341.61L100.38 342.52L100.22 342.91L98.62 342.72L98.07 342.91L98.88 343.6L99.85 343.73L100.57 343.52L101.44 342.91L101.15 342.12L101.75 342.12L104.06 341.92L105.74 341.73L105.84 341.33L107.82 341.73L107.35 340.96L107.54 340.4L108.68 340.4L109.6 341.73L109.1 340.58L109.96 340.58L110.65 340.02L112.17 339.84L112.48 339.29L115 339.12L115.42 338.61L118.51 339.12L118.22 340.02L119.9 340.02L121.8 340.21L124.06 340.21L125.59 340.96L126.79 340.77L127.71 340.4L130.82 340.58L132.07 341.03L135.08 341.49L135.72 341.53L137.8 341.33L138.67 341.73L141.33 341.73L143.75 343.31L143.41 343.52L144.22 344.35L143.45 344.97L143.35 345.39L141.72 345.39L142.04 346.25L143.15 347.54L143.33 348.42L142.95 349.3L141.35 347.98L139.84 346.68L139.91 345.82L139.58 344.97L139.02 345.6L138.26 345.82L136.49 345.69L134.97 345.82L134.97 347.54L135.07 348.07L136.75 348.42L137.71 349.74L138.18 350.65L137.78 352.45L136.77 352.91L136.16 353.14L135.9 354.28L137.32 355.66L137.57 356.58L136.7 356.81L135.98 355.66L135.28 354.97L134.77 354.28L133.7 354.05L133.66 354.74L132.53 354.74L133.21 355.43L134.65 355.66L133.92 356.58L135.01 357.97L135.74 358.89L135.61 359.82L135.13 360.97L134.54 361.9L133.25 362.5L131.95 363.05L131.11 362.82L130.43 363.51L130.57 364.44L131.75 365.59L132.22 366.98L131.39 367.9L130.63 368.59L130.49 367.9L129.74 367.67L129.27 366.98L128.62 366.51L128.52 367.67L128.3 368.45L129.07 369.75L130.14 370.9L130.45 372.06L130.13 372.1L129.25 371.36L128.79 369.98L127.92 368.82L127.87 367.21L127.36 365.36L126.47 365.36L125.86 364.44L125.62 363.51L124.72 362.82L124.07 362.5L123.11 362.73L122.77 363.19L122.62 363.51L121.71 364.3L121 365.13L120.24 365.59L120.34 366.75L120.31 367.99L119.67 368.92L119.26 368.96L118.79 367.67L118.08 366.28L117.35 364.9L117.1 363.28L116.94 362.91L115.96 363.14L115.49 362.45L114.72 361.66L114.32 361.02L112.55 361.11L110.74 360.93L110.26 360.28L109.3 360.46L108.24 359.91L107.54 358.89L106.95 358.89L106.83 359.59L107.72 360.51L108.22 361.43L108.64 361.66L109.43 361.62L110.12 360.74L110.4 361.43L111.24 361.85L111.81 362.36L111.38 363.33L111.11 363.97L110.1 364.9L108.92 365.36L107.56 366.28L106.17 366.84L105.57 366.88L105.2 365.82L104.42 364.2L103.54 362.82L102.85 361.43L101.73 359.82L101.64 359.12L101.32 358.29L101.68 357.28L101.74 356.12L101.69 355.75L100.58 356.03L99.61 355.98L98.64 355.8L98.21 355.34L97.87 354.6L97.8 354.28L98.8 353.82L99.72 353.73L100.97 353.37L101.79 353.82L102.91 353.82L103.42 353.55L103.11 352.91L102.29 352.45L101.48 352L101.94 351.55L101.49 351.1L100.67 351.55L100.12 351.55L100.02 352L99.02 351.46L98.8 351.91L98.46 352.68L98.36 353.37L98.71 353.78L97.68 353.92L96.94 353.92L96.79 354.28L96.51 354.14L96.75 354.74L97.06 355.2L96.7 355.43L96.55 355.89L96.01 355.34L95.49 354.51L95.19 353.6L94.81 353.14L93.85 352.68L93.25 351.91L92.94 351.73L92.44 351.86L92.55 352.45L93.14 353.14L93.91 353.46L94.9 354.19L94.72 354.33L94.18 354.14L94.37 354.74L94.02 355.2L93.91 355.2L93.94 354.51L93.38 354.01L92.53 353.51L91.84 352.96L91.63 352.45L91.14 352.27L90.71 352.55L90.17 352.87L89.43 352.68L89.06 353.14L89.14 353.46L88.21 354.05L87.84 354.6L87.95 354.88L87.68 355.39L87.19 355.75L86.23 355.8L85.84 356.12L85.55 355.75ZM32.15 343.31L34.57 341.73L35.17 342.32L35.82 342.91L34.36 343.52L33.53 343.44L33.07 343.11ZM86 349.74L88.41 349.21L88.54 348.51L87.95 348.2L87.44 347.54L87.28 346.46L86.79 345.99L86.3 346.03L85.93 346.89L86.31 347.62L86.92 348.2L86.39 348.42L86.2 348.99L86.72 349.13ZM84.46 348.86L85.86 348.77L85.89 347.98L85.4 347.45L84.52 347.98ZM92.69 355.2L93.83 355.11L93.68 355.8L92.7 355.43ZM91.05 354.74L91.61 354.65L91.54 353.73L91.06 353.92ZM96.98 356.45L98.06 356.49L97.95 356.58L97.02 356.54ZM100.37 356.58L101.19 356.31L101 356.63L100.47 356.77ZM138.23 357.28L139.03 358.29L139.01 357.28L140.07 357.05L140.71 356.72L141.8 356.58L141.46 355.2L140.87 353.82L140.31 353.82L140.77 354.97L140.18 355.66L140.08 356.22L139 356.35L138.47 356.91ZM140.02 353.37L139.6 351.86L141.28 352.45L141.58 352.91L141.13 353.37ZM139.55 351.55L139.1 350.2L137.83 348.86L136.89 347.98L137.48 348.86L138.57 350.2ZM126.77 370.21L127.89 370.9L129.14 371.83L130.38 373.21L131.17 374.14L131.04 375.43L130.31 375.29L129.13 373.9L128.13 372.06ZM130.9 375.75L132.11 375.84L133.14 375.75L134.53 376.31L134.42 376.72L132.68 376.54L131.28 376.17ZM132.41 372.06L133.22 371.92L134.02 371.27L135.01 370.44L135.56 369.52L136.44 370.44L135.98 371.36L136.09 372.29L135.47 373.44L135.23 374.6L134.42 374.37L133.41 374.23L132.82 373.44ZM136.7 372.38L137.31 372.2L138.53 372.29L138.94 372.06L138.14 372.61L137.32 372.75L136.9 373.21L137.51 373.21L138.13 373.21L137.5 373.67L137.87 374.83L137.27 374.6L137.08 374.14L136.95 375.29L136.63 375.29L136.47 374.14ZM141.39 373.12L142.62 373.12L142.99 374.27L144.23 373.54L145.44 373.95L146.65 374.51L147.42 375.29L148 375.75L148.14 376.45L149.06 377.51L147.86 377.37L146.73 376.31L146.07 376.91L145.26 376.91L144.48 376.45L144.11 375.98L144.16 375.29L142.97 374.74L142.16 374.6L141.77 374.04ZM136.36 364.2L137.05 364.25L137.16 365.36L137.09 366.28L138.15 366.75L137.98 366.98L136.91 366.51L136.66 366.05L136.35 365.36ZM137.6 369.52L138.16 368.82L138.94 368.27L139.41 369.29L139.26 369.98L138.98 369.98L138.43 369.75ZM137.41 367.3L138.03 367.44L138.79 366.98L138.91 367.99L138.13 368.36L137.71 368.13ZM135.85 362.13L135.97 361.11L136.39 361.2L136.26 362.59ZM131.57 363.88L132.24 363.51L132.47 363.74L131.96 364.34ZM120.4 369.05L120.53 368.27L121.23 369.29L120.93 369.93L120.53 369.93ZM133.47 382.91L133.09 384.76L133 386.61L132.35 388.45L133.34 388.92L135.44 388.45L136.9 387.67L138.17 387.39L138.99 387.3L139.87 387.99L140.27 388.92L141.35 387.99L140.92 389.15L141.2 390.07L142.05 390.62L143.11 390.76L144.17 390.21L145.13 389.84L146.25 388.45L147.67 387.07L148.41 385.68L148.62 384.53L148.07 383.6L147.64 382.91L147.27 381.99L146.68 381.53L146.74 380.6L146.65 379.68L145.98 379.22L145.77 377.83L145.32 378.75L145.02 380.14L144.27 380.93L143.41 380.14L142.69 379.68L143.27 378.29L141.88 378.06L141.03 378.39L140.26 379.68L139.66 379.68L138.91 379.22L137.92 380.37L137.18 380.69L136.96 381.3L135.64 381.99L134.58 382.31ZM142.16 391.54L143.44 391.63L142.69 392.59L141.77 392.86L141.88 392.13ZM154.51 388.69L154.62 389.61L154.89 390.07L155.78 390.16L154.67 390.99L153.22 391.9L153.84 390.99L153.52 390.9L154.25 390.3ZM152.68 391.49L152.88 391.99L151.57 392.91L150.17 393.86L148.95 394.22L148.53 393.86L149.92 393.05L151.44 392.27ZM102.86 340.96L103.93 341.07L104.38 340.58L103.54 339.84L104.18 339.12L106.05 338.78L105.94 339.29L104.54 339.65L103.75 340.21L103.1 340.58ZM90.76 337.93L92.23 338.88L93.76 338.61L94.34 337.93L92.98 337.62ZM112.44 338.1L114.02 338.34L115.01 338.1L112.9 337.48L111.84 337.62ZM125.58 339.46L128.05 339.65L128.84 339.29L126.51 339.05ZM48.86 410L44.3 408.49L38.88 406.21L40.46 406.09L42.06 405.97L43.7 405.85L45.63 405.29L47.43 405.07L49.26 404.84L51.13 404.8L53 404.77L54.87 404.73L56.83 404.54L58.81 404.36L61 404.36L63.18 404.36L65.83 403.97L67.1 402.59L67.92 401.15L69.2 400.45L69.74 400.94L68.53 401.77L69.25 403.18L70.18 404.36L70.91 405.1L74.32 406.21L76.37 406.21L78.41 406.21L80.85 405.1L83.55 404.17L86.45 403.38L89.46 403.18L92.5 402.98L95.49 403.18L98.01 402.78L100.15 402.78L103.61 401.77L105.26 401.57L107.17 402.19L109.53 402.39L111.74 402.78L113.5 401.98L116.14 401.77L119.43 401.57L122.57 401.57L125.34 401.98L128.87 401.57L131.79 401.77L134.2 402.39L136.21 403.18L138.37 403.77L133.58 405.85L135.34 406.04L137.02 406.21L131.6 408.49L127.04 410L125.74 410L124.43 410L123.13 410L121.83 410L120.53 410L119.22 410L117.92 410L116.62 410L115.31 410L114.01 410L112.71 410L111.4 410L110.1 410L108.8 410L107.5 410L106.19 410L104.89 410L103.59 410L102.28 410L100.98 410L99.68 410L98.37 410L97.07 410L95.77 410L94.47 410L93.16 410L91.86 410L90.56 410L89.25 410L87.95 410L86.65 410L85.34 410L84.04 410L82.74 410L81.43 410L80.13 410L78.83 410L77.53 410L76.22 410L74.92 410L73.62 410L72.31 410L71.01 410L69.71 410L68.4 410L67.1 410L65.8 410L64.5 410L63.19 410L61.89 410L60.59 410L59.28 410L57.98 410L56.68 410L55.37 410L54.07 410L52.77 410L51.47 410L50.16 410Z"/></clipPath>
<filter id="bl" x="-5%" y="-5%" width="110%" height="110%"><feGaussianBlur stdDeviation="0.55"/></filter>
<filter id="bl2" x="-5%" y="-5%" width="110%" height="110%"><feGaussianBlur stdDeviation="1.3"/></filter>
<filter id="bl3" x="-5%" y="-5%" width="110%" height="110%"><feGaussianBlur stdDeviation="2.2"/></filter>
<radialGradient id="oc" cx="50%" cy="50%" r="60%"><stop offset="0" stop-color="#88b4d4"/><stop offset="0.65" stop-color="#7aaacd"/><stop offset="1" stop-color="#6298c1"/></radialGradient>
<linearGradient id="gR" x1="0" x2="1" y1="0" y2="0">
<stop offset="0" stop-color="#fff5f0"/>
<stop offset="0.12" stop-color="#fee0d2"/>
<stop offset="0.25" stop-color="#fcbba1"/>
<stop offset="0.38" stop-color="#fc9272"/>
<stop offset="0.5" stop-color="#fb6a4a"/>
<stop offset="0.62" stop-color="#ef3b2c"/>
<stop offset="0.75" stop-color="#cb181d"/>
<stop offset="0.88" stop-color="#a50f15"/>
<stop offset="1" stop-color="#67000d"/>
</linearGradient>
<linearGradient id="gB" x1="0" x2="1" y1="0" y2="0">
<stop offset="0" stop-color="#053061"/>
<stop offset="0.1" stop-color="#2166ac"/>
<stop offset="0.2" stop-color="#4393c3"/>
<stop offset="0.3" stop-color="#92c5de"/>
<stop offset="0.4" stop-color="#d1e5f0"/>
<stop offset="0.5" stop-color="#f7f7f7"/>
<stop offset="0.6" stop-color="#fddbc7"/>
<stop offset="0.7" stop-color="#f4a582"/>
<stop offset="0.8" stop-color="#d6604d"/>
<stop offset="0.9" stop-color="#b2182b"/>
<stop offset="1" stop-color="#67001f"/>
</linearGradient>
<g id="bm">
<g clip-path="url(#rb)">
<path d="M127.04 410L128.8 409.47L130.7 408.84L132.86 408.02L135.11 407.06L137.4 406.04L139.4 404.92L141.33 403.77L143.15 402.59L144.89 401.36L146.61 400.11L148.21 398.82L149.76 397.52L151.21 396.2L152.53 394.85L153.78 393.5L154.9 392.13L155.95 390.76L156.88 389.38L157.7 387.99L158.46 386.61L159.03 385.22L159.55 383.84L159.96 382.45L160.32 381.06L160.67 379.68L160.9 378.29L161.11 376.91L161.25 375.52L161.34 374.14L161.4 372.75L161.34 371.36L161.25 369.98L161.11 368.59L160.9 367.21L160.67 365.82L160.32 364.44L159.96 363.05L159.55 361.66L159.03 360.28L158.46 358.89L157.7 357.51L156.88 356.12L155.95 354.74L154.9 353.37L153.78 352L152.53 350.65L151.21 349.3L149.76 347.98L148.21 346.68L146.61 345.39L144.89 344.14L143.15 342.91L141.33 341.73L139.4 340.58L137.4 339.46L135.11 338.44L132.86 337.48L130.7 336.66L128.8 336.03L127.04 335.5L48.86 335.5L47.1 336.03L45.2 336.66L43.04 337.48L40.79 338.44L38.5 339.46L36.5 340.58L34.57 341.73L32.75 342.91L31.01 344.14L29.29 345.39L27.69 346.68L26.14 347.98L24.69 349.3L23.37 350.65L22.12 352L21 353.37L19.95 354.74L19.02 356.12L18.2 357.51L17.44 358.89L16.87 360.28L16.35 361.66L15.94 363.05L15.58 364.44L15.23 365.82L15 367.21L14.79 368.59L14.65 369.98L14.56 371.36L14.5 372.75L14.56 374.14L14.65 375.52L14.79 376.91L15 378.29L15.23 379.68L15.58 381.06L15.94 382.45L16.35 383.84L16.87 385.22L17.44 386.61L18.2 387.99L19.02 389.38L19.95 390.76L21 392.13L22.12 393.5L23.37 394.85L24.69 396.2L26.14 397.52L27.69 398.82L29.29 400.11L31.01 401.36L32.75 402.59L34.57 403.77L36.5 404.92L38.5 406.04L40.79 407.06L43.04 408.02L45.2 408.84L47.1 409.47L48.86 410Z" fill="url(#oc)"/>
<path d="M36.43 342.91L38.46 342.12L42.78 340.96L44.68 341.14L46.6 341.33L49.83 341.33L51.53 341.53L53.25 341.73L55.56 342.12L57.96 342.12L60.09 341.33L61.26 341.73L62.74 341.73L63.08 342.52L60.7 343.73L57.94 344.97L56.76 346.25L57.82 346.68L58.99 347.54L59.57 348.42L59.83 349.3L60.82 347.98L62.17 346.68L62.53 345.39L63.35 344.56L64.94 344.56L65.79 345.39L66.58 345.82L67.19 346.68L67.51 347.54L68.42 348.86L66.7 349.74L64.58 349.74L64.63 350.65L64.69 351.55L66.15 351.55L64.41 352.45L63.45 352L62.06 352.91L61.84 353.6L60.12 354.28L58.98 355.66L58.71 356.58L57.34 357.51L56.33 358.43L56.36 360.28L55.99 361.2L55.57 360.28L55.35 359.35L54.65 358.89L53.09 358.89L52.21 359.35L51.08 359.12L49.64 360.28L49.17 361.66L49.15 363.05L49.81 363.97L51.42 363.97L51.95 363.05L53.15 363.05L52.57 364.44L52.46 365.36L54.04 365.59L54.31 367.21L54.24 368.13L55.03 368.59L55.85 368.36L56.63 369.05L56.21 369.52L55.41 369.05L54.6 369.05L53.82 368.36L53.06 367.67L52.53 366.75L51.15 366.28L50.04 365.36L48.83 365.36L47.31 364.67L45.87 363.51L45.7 362.13L44.79 360.74L43.96 359.35L43.84 358.43L43.1 358.89L43.6 360.74L44.11 362.13L43.48 361.2L42.78 359.35L42.53 357.74L41.7 356.81L41.44 355.66L41.32 354.28L42.09 352.91L42.89 351.55L43.61 350.42L43.14 349.52L43.31 347.98L43.42 346.68L42.9 345.82L42 345.39L40.84 344.97L39.55 344.97L37.97 345.82L35.96 346.46L33.67 347.32L31.85 347.76L34.86 346.25L34.92 345.6L34.7 344.97L36.07 344.14L37.78 343.52L36.49 343.31ZM65.38 340.21L67.1 340.96L67.93 342.52L68.94 342.91L67.39 344.14L65.81 344.14L64.7 343.31L66.05 342.12L64.49 341.33L62.47 340.96L63.29 340.02ZM54.08 340.96L55.4 341.33L56.81 341.73L58.8 340.58L57.48 340.21L54.94 340.21ZM52.22 340.58L54 340.77L55.44 340.02L54.21 339.65ZM63.61 339.12L65.23 339.12L66.85 339.12L69.91 338.1L72.73 337.21L70.56 336.94L68.9 337.12L67.21 337.3L65.49 337.48ZM60.48 339.46L62.45 339.56L64.44 339.65L66.14 339.29L64.38 339.04L62.66 338.78ZM66.78 350.65L68.81 351.1L69.06 350.2L68.34 349.08ZM54.01 362.59L56.07 362.13L57.89 363.51L57.09 363.51L55.21 362.59ZM58.24 363.97L60.27 363.74L60.43 364.2L58.2 364.44ZM68.82 338.44L71.09 337.76L73.22 337.21L74.96 337.07L76.68 336.94L78.37 336.8L79.74 336.94L81.13 337.07L82.55 337.21L83.23 338.44L82.38 339.84L81.5 341.33L79.55 342.12L77.22 342.91L75.49 343.52L73.94 345.39L72.46 344.97L71.83 343.31L71.93 341.73L72.03 340.96L72.02 339.46L69.56 339.12ZM80.55 343.11L81.24 342.72L83.07 342.72L83.77 343.31L82.27 344.02L80.9 343.73ZM56.63 369.05L57.52 367.67L58.77 367.21L59.58 367.21L60.75 367.9L62.78 367.9L63.56 368.82L64.74 369.98L66.76 370.44L67.55 372.29L67.55 372.98L69.6 373.67L71.64 374.14L72.87 375.06L73.71 375.98L73.72 376.91L72.95 378.29L72.19 379.68L72.27 381.06L71.58 382.91L70.41 383.37L68.92 384.53L68.85 385.68L68.04 387.07L67.49 388.45L65.98 388.69L65.74 389.38L66.32 390.3L64.53 390.76L64.39 391.68L63.78 392.13L64.18 393.5L63.42 393.95L64.27 394.85L63.7 396.2L64.24 397.08L65.46 397.96L64.1 397.96L62.14 396.64L61.04 394.85L61.1 393.05L60.5 391.22L60.12 389.84L60.14 387.53L59.99 385.68L60.05 383.37L59.81 381.06L57.21 379.22L55.82 376.45L54.95 375.29L55.33 374.14L55.31 372.75L55.73 371.83L56.56 370.9ZM85.65 356.22L87.18 356.58L89.09 355.66L91.76 355.66L92.2 357.05L93.77 357.74L95.76 358.43L96.48 357.6L97.68 358.11L99.27 358.43L100.43 358.34L101.34 359.82L102.07 361.66L102.75 363.05L103.02 364.2L103.89 365.59L105.38 367.21L106.22 367.9L108.62 367.3L108.48 368.59L107.31 370.67L105.9 372.29L104.67 373.67L104.05 375.06L103.81 376.45L104.38 377.83L104.31 379.68L102.83 381.06L101.98 381.99L102.07 383.84L101.02 384.76L100.72 386.15L99.64 387.3L98.38 388.36L96.43 388.59L95.09 388.45L94.78 387.07L93.87 385.22L93.74 382.91L92.77 381.06L93.42 378.29L92.92 375.52L91.82 373.67L91.82 371.36L91.41 370.67L89.99 370.21L88.76 369.84L86.73 370.44L84.89 370.72L83.47 369.52L82.46 368.36L81.86 367.67L81.08 365.96L81.32 364.44L81.35 363.05L81.98 361.66L82.82 360.05L84.03 359.12L84.14 357.97ZM107.93 378.29L108.33 379.91L107.12 382.91L106.61 384.3L105.42 384.3L105.35 382.45L105.9 380.14L106.95 379.45ZM84.52 355.66L84.36 354.74L84.62 352.91L87.21 352.68L87.4 351.55L86.34 350.42L87.41 350.33L88.48 349.52L89.35 348.86L90.36 348.2L90.85 347.54L90.63 346.68L91.45 346.46L91.51 347.32L92.24 347.89L92.76 347.98L94.28 347.76L95.11 347.54L94.98 346.68L95.95 346.46L95.68 345.82L97.1 345.52L97.73 345.39L96.4 345.26L95.28 345.39L94.82 344.56L94.87 343.93L95.7 343.31L95.17 342.99L94.65 343.52L93.67 344.35L93.46 345.18L94.01 345.6L93.47 346.68L92.85 347.11L92.29 347.32L91.58 346.03L90.6 346.25L89.76 345.82L89.56 344.76L90.47 343.93L91.65 343.11L92.3 342.12L93.26 341.53L94.38 341.22L95.48 340.96L96.75 341.33L97.7 341.61L100.38 342.52L100.22 342.91L98.62 342.72L98.07 342.91L98.88 343.6L99.85 343.73L100.57 343.52L101.44 342.91L101.15 342.12L101.75 342.12L104.06 341.92L105.74 341.73L105.84 341.33L107.82 341.73L107.35 340.96L107.54 340.4L108.68 340.4L109.6 341.73L109.1 340.58L109.96 340.58L110.65 340.02L112.17 339.84L112.48 339.29L115 339.12L115.42 338.61L118.51 339.12L118.22 340.02L119.9 340.02L121.8 340.21L124.06 340.21L125.59 340.96L126.79 340.77L127.71 340.4L130.82 340.58L132.07 341.03L135.08 341.49L135.72 341.53L137.8 341.33L138.67 341.73L141.33 341.73L143.75 343.31L143.41 343.52L144.22 344.35L143.45 344.97L143.35 345.39L141.72 345.39L142.04 346.25L143.15 347.54L143.33 348.42L142.95 349.3L141.35 347.98L139.84 346.68L139.91 345.82L139.58 344.97L139.02 345.6L138.26 345.82L136.49 345.69L134.97 345.82L134.97 347.54L135.07 348.07L136.75 348.42L137.71 349.74L138.18 350.65L137.78 352.45L136.77 352.91L136.16 353.14L135.9 354.28L137.32 355.66L137.57 356.58L136.7 356.81L135.98 355.66L135.28 354.97L134.77 354.28L133.7 354.05L133.66 354.74L132.53 354.74L133.21 355.43L134.65 355.66L133.92 356.58L135.01 357.97L135.74 358.89L135.61 359.82L135.13 360.97L134.54 361.9L133.25 362.5L131.95 363.05L131.11 362.82L130.43 363.51L130.57 364.44L131.75 365.59L132.22 366.98L131.39 367.9L130.63 368.59L130.49 367.9L129.74 367.67L129.27 366.98L128.62 366.51L128.52 367.67L128.3 368.45L129.07 369.75L130.14 370.9L130.45 372.06L130.13 372.1L129.25 371.36L128.79 369.98L127.92 368.82L127.87 367.21L127.36 365.36L126.47 365.36L125.86 364.44L125.62 363.51L124.72 362.82L124.07 362.5L123.11 362.73L122.77 363.19L122.62 363.51L121.71 364.3L121 365.13L120.24 365.59L120.34 366.75L120.31 367.99L119.67 368.92L119.26 368.96L118.79 367.67L118.08 366.28L117.35 364.9L117.1 363.28L116.94 362.91L115.96 363.14L115.49 362.45L114.72 361.66L114.32 361.02L112.55 361.11L110.74 360.93L110.26 360.28L109.3 360.46L108.24 359.91L107.54 358.89L106.95 358.89L106.83 359.59L107.72 360.51L108.22 361.43L108.64 361.66L109.43 361.62L110.12 360.74L110.4 361.43L111.24 361.85L111.81 362.36L111.38 363.33L111.11 363.97L110.1 364.9L108.92 365.36L107.56 366.28L106.17 366.84L105.57 366.88L105.2 365.82L104.42 364.2L103.54 362.82L102.85 361.43L101.73 359.82L101.64 359.12L101.32 358.29L101.68 357.28L101.74 356.12L101.69 355.75L100.58 356.03L99.61 355.98L98.64 355.8L98.21 355.34L97.87 354.6L97.8 354.28L98.8 353.82L99.72 353.73L100.97 353.37L101.79 353.82L102.91 353.82L103.42 353.55L103.11 352.91L102.29 352.45L101.48 352L101.94 351.55L101.49 351.1L100.67 351.55L100.12 351.55L100.02 352L99.02 351.46L98.8 351.91L98.46 352.68L98.36 353.37L98.71 353.78L97.68 353.92L96.94 353.92L96.79 354.28L96.51 354.14L96.75 354.74L97.06 355.2L96.7 355.43L96.55 355.89L96.01 355.34L95.49 354.51L95.19 353.6L94.81 353.14L93.85 352.68L93.25 351.91L92.94 351.73L92.44 351.86L92.55 352.45L93.14 353.14L93.91 353.46L94.9 354.19L94.72 354.33L94.18 354.14L94.37 354.74L94.02 355.2L93.91 355.2L93.94 354.51L93.38 354.01L92.53 353.51L91.84 352.96L91.63 352.45L91.14 352.27L90.71 352.55L90.17 352.87L89.43 352.68L89.06 353.14L89.14 353.46L88.21 354.05L87.84 354.6L87.95 354.88L87.68 355.39L87.19 355.75L86.23 355.8L85.84 356.12L85.55 355.75ZM32.15 343.31L34.57 341.73L35.17 342.32L35.82 342.91L34.36 343.52L33.53 343.44L33.07 343.11ZM86 349.74L88.41 349.21L88.54 348.51L87.95 348.2L87.44 347.54L87.28 346.46L86.79 345.99L86.3 346.03L85.93 346.89L86.31 347.62L86.92 348.2L86.39 348.42L86.2 348.99L86.72 349.13ZM84.46 348.86L85.86 348.77L85.89 347.98L85.4 347.45L84.52 347.98ZM92.69 355.2L93.83 355.11L93.68 355.8L92.7 355.43ZM91.05 354.74L91.61 354.65L91.54 353.73L91.06 353.92ZM96.98 356.45L98.06 356.49L97.95 356.58L97.02 356.54ZM100.37 356.58L101.19 356.31L101 356.63L100.47 356.77ZM138.23 357.28L139.03 358.29L139.01 357.28L140.07 357.05L140.71 356.72L141.8 356.58L141.46 355.2L140.87 353.82L140.31 353.82L140.77 354.97L140.18 355.66L140.08 356.22L139 356.35L138.47 356.91ZM140.02 353.37L139.6 351.86L141.28 352.45L141.58 352.91L141.13 353.37ZM139.55 351.55L139.1 350.2L137.83 348.86L136.89 347.98L137.48 348.86L138.57 350.2ZM126.77 370.21L127.89 370.9L129.14 371.83L130.38 373.21L131.17 374.14L131.04 375.43L130.31 375.29L129.13 373.9L128.13 372.06ZM130.9 375.75L132.11 375.84L133.14 375.75L134.53 376.31L134.42 376.72L132.68 376.54L131.28 376.17ZM132.41 372.06L133.22 371.92L134.02 371.27L135.01 370.44L135.56 369.52L136.44 370.44L135.98 371.36L136.09 372.29L135.47 373.44L135.23 374.6L134.42 374.37L133.41 374.23L132.82 373.44ZM136.7 372.38L137.31 372.2L138.53 372.29L138.94 372.06L138.14 372.61L137.32 372.75L136.9 373.21L137.51 373.21L138.13 373.21L137.5 373.67L137.87 374.83L137.27 374.6L137.08 374.14L136.95 375.29L136.63 375.29L136.47 374.14ZM141.39 373.12L142.62 373.12L142.99 374.27L144.23 373.54L145.44 373.95L146.65 374.51L147.42 375.29L148 375.75L148.14 376.45L149.06 377.51L147.86 377.37L146.73 376.31L146.07 376.91L145.26 376.91L144.48 376.45L144.11 375.98L144.16 375.29L142.97 374.74L142.16 374.6L141.77 374.04ZM136.36 364.2L137.05 364.25L137.16 365.36L137.09 366.28L138.15 366.75L137.98 366.98L136.91 366.51L136.66 366.05L136.35 365.36ZM137.6 369.52L138.16 368.82L138.94 368.27L139.41 369.29L139.26 369.98L138.98 369.98L138.43 369.75ZM137.41 367.3L138.03 367.44L138.79 366.98L138.91 367.99L138.13 368.36L137.71 368.13ZM135.85 362.13L135.97 361.11L136.39 361.2L136.26 362.59ZM131.57 363.88L132.24 363.51L132.47 363.74L131.96 364.34ZM120.4 369.05L120.53 368.27L121.23 369.29L120.93 369.93L120.53 369.93ZM133.47 382.91L133.09 384.76L133 386.61L132.35 388.45L133.34 388.92L135.44 388.45L136.9 387.67L138.17 387.39L138.99 387.3L139.87 387.99L140.27 388.92L141.35 387.99L140.92 389.15L141.2 390.07L142.05 390.62L143.11 390.76L144.17 390.21L145.13 389.84L146.25 388.45L147.67 387.07L148.41 385.68L148.62 384.53L148.07 383.6L147.64 382.91L147.27 381.99L146.68 381.53L146.74 380.6L146.65 379.68L145.98 379.22L145.77 377.83L145.32 378.75L145.02 380.14L144.27 380.93L143.41 380.14L142.69 379.68L143.27 378.29L141.88 378.06L141.03 378.39L140.26 379.68L139.66 379.68L138.91 379.22L137.92 380.37L137.18 380.69L136.96 381.3L135.64 381.99L134.58 382.31ZM142.16 391.54L143.44 391.63L142.69 392.59L141.77 392.86L141.88 392.13ZM154.51 388.69L154.62 389.61L154.89 390.07L155.78 390.16L154.67 390.99L153.22 391.9L153.84 390.99L153.52 390.9L154.25 390.3ZM152.68 391.49L152.88 391.99L151.57 392.91L150.17 393.86L148.95 394.22L148.53 393.86L149.92 393.05L151.44 392.27ZM102.86 340.96L103.93 341.07L104.38 340.58L103.54 339.84L104.18 339.12L106.05 338.78L105.94 339.29L104.54 339.65L103.75 340.21L103.1 340.58ZM90.76 337.93L92.23 338.88L93.76 338.61L94.34 337.93L92.98 337.62ZM112.44 338.1L114.02 338.34L115.01 338.1L112.9 337.48L111.84 337.62ZM125.58 339.46L128.05 339.65L128.84 339.29L126.51 339.05Z" fill="#9cc6e2" stroke="#9cc6e2" stroke-width="3.2" stroke-linejoin="round" opacity="0.55" filter="url(#bl2)"/>
<g filter="url(#bl)">
<path d="M36.43 342.91L38.46 342.12L42.78 340.96L44.68 341.14L46.6 341.33L49.83 341.33L51.53 341.53L53.25 341.73L55.56 342.12L57.96 342.12L60.09 341.33L61.26 341.73L62.74 341.73L63.08 342.52L60.7 343.73L57.94 344.97L56.76 346.25L57.82 346.68L58.99 347.54L59.57 348.42L59.83 349.3L60.82 347.98L62.17 346.68L62.53 345.39L63.35 344.56L64.94 344.56L65.79 345.39L66.58 345.82L67.19 346.68L67.51 347.54L68.42 348.86L66.7 349.74L64.58 349.74L64.63 350.65L64.69 351.55L66.15 351.55L64.41 352.45L63.45 352L62.06 352.91L61.84 353.6L60.12 354.28L58.98 355.66L58.71 356.58L57.34 357.51L56.33 358.43L56.36 360.28L55.99 361.2L55.57 360.28L55.35 359.35L54.65 358.89L53.09 358.89L52.21 359.35L51.08 359.12L49.64 360.28L49.17 361.66L49.15 363.05L49.81 363.97L51.42 363.97L51.95 363.05L53.15 363.05L52.57 364.44L52.46 365.36L54.04 365.59L54.31 367.21L54.24 368.13L55.03 368.59L55.85 368.36L56.63 369.05L56.21 369.52L55.41 369.05L54.6 369.05L53.82 368.36L53.06 367.67L52.53 366.75L51.15 366.28L50.04 365.36L48.83 365.36L47.31 364.67L45.87 363.51L45.7 362.13L44.79 360.74L43.96 359.35L43.84 358.43L43.1 358.89L43.6 360.74L44.11 362.13L43.48 361.2L42.78 359.35L42.53 357.74L41.7 356.81L41.44 355.66L41.32 354.28L42.09 352.91L42.89 351.55L43.61 350.42L43.14 349.52L43.31 347.98L43.42 346.68L42.9 345.82L42 345.39L40.84 344.97L39.55 344.97L37.97 345.82L35.96 346.46L33.67 347.32L31.85 347.76L34.86 346.25L34.92 345.6L34.7 344.97L36.07 344.14L37.78 343.52L36.49 343.31ZM65.38 340.21L67.1 340.96L67.93 342.52L68.94 342.91L67.39 344.14L65.81 344.14L64.7 343.31L66.05 342.12L64.49 341.33L62.47 340.96L63.29 340.02ZM54.08 340.96L55.4 341.33L56.81 341.73L58.8 340.58L57.48 340.21L54.94 340.21ZM52.22 340.58L54 340.77L55.44 340.02L54.21 339.65ZM63.61 339.12L65.23 339.12L66.85 339.12L69.91 338.1L72.73 337.21L70.56 336.94L68.9 337.12L67.21 337.3L65.49 337.48ZM60.48 339.46L62.45 339.56L64.44 339.65L66.14 339.29L64.38 339.04L62.66 338.78ZM66.78 350.65L68.81 351.1L69.06 350.2L68.34 349.08ZM54.01 362.59L56.07 362.13L57.89 363.51L57.09 363.51L55.21 362.59ZM58.24 363.97L60.27 363.74L60.43 364.2L58.2 364.44ZM68.82 338.44L71.09 337.76L73.22 337.21L74.96 337.07L76.68 336.94L78.37 336.8L79.74 336.94L81.13 337.07L82.55 337.21L83.23 338.44L82.38 339.84L81.5 341.33L79.55 342.12L77.22 342.91L75.49 343.52L73.94 345.39L72.46 344.97L71.83 343.31L71.93 341.73L72.03 340.96L72.02 339.46L69.56 339.12ZM80.55 343.11L81.24 342.72L83.07 342.72L83.77 343.31L82.27 344.02L80.9 343.73ZM56.63 369.05L57.52 367.67L58.77 367.21L59.58 367.21L60.75 367.9L62.78 367.9L63.56 368.82L64.74 369.98L66.76 370.44L67.55 372.29L67.55 372.98L69.6 373.67L71.64 374.14L72.87 375.06L73.71 375.98L73.72 376.91L72.95 378.29L72.19 379.68L72.27 381.06L71.58 382.91L70.41 383.37L68.92 384.53L68.85 385.68L68.04 387.07L67.49 388.45L65.98 388.69L65.74 389.38L66.32 390.3L64.53 390.76L64.39 391.68L63.78 392.13L64.18 393.5L63.42 393.95L64.27 394.85L63.7 396.2L64.24 397.08L65.46 397.96L64.1 397.96L62.14 396.64L61.04 394.85L61.1 393.05L60.5 391.22L60.12 389.84L60.14 387.53L59.99 385.68L60.05 383.37L59.81 381.06L57.21 379.22L55.82 376.45L54.95 375.29L55.33 374.14L55.31 372.75L55.73 371.83L56.56 370.9ZM85.65 356.22L87.18 356.58L89.09 355.66L91.76 355.66L92.2 357.05L93.77 357.74L95.76 358.43L96.48 357.6L97.68 358.11L99.27 358.43L100.43 358.34L101.34 359.82L102.07 361.66L102.75 363.05L103.02 364.2L103.89 365.59L105.38 367.21L106.22 367.9L108.62 367.3L108.48 368.59L107.31 370.67L105.9 372.29L104.67 373.67L104.05 375.06L103.81 376.45L104.38 377.83L104.31 379.68L102.83 381.06L101.98 381.99L102.07 383.84L101.02 384.76L100.72 386.15L99.64 387.3L98.38 388.36L96.43 388.59L95.09 388.45L94.78 387.07L93.87 385.22L93.74 382.91L92.77 381.06L93.42 378.29L92.92 375.52L91.82 373.67L91.82 371.36L91.41 370.67L89.99 370.21L88.76 369.84L86.73 370.44L84.89 370.72L83.47 369.52L82.46 368.36L81.86 367.67L81.08 365.96L81.32 364.44L81.35 363.05L81.98 361.66L82.82 360.05L84.03 359.12L84.14 357.97ZM107.93 378.29L108.33 379.91L107.12 382.91L106.61 384.3L105.42 384.3L105.35 382.45L105.9 380.14L106.95 379.45ZM84.52 355.66L84.36 354.74L84.62 352.91L87.21 352.68L87.4 351.55L86.34 350.42L87.41 350.33L88.48 349.52L89.35 348.86L90.36 348.2L90.85 347.54L90.63 346.68L91.45 346.46L91.51 347.32L92.24 347.89L92.76 347.98L94.28 347.76L95.11 347.54L94.98 346.68L95.95 346.46L95.68 345.82L97.1 345.52L97.73 345.39L96.4 345.26L95.28 345.39L94.82 344.56L94.87 343.93L95.7 343.31L95.17 342.99L94.65 343.52L93.67 344.35L93.46 345.18L94.01 345.6L93.47 346.68L92.85 347.11L92.29 347.32L91.58 346.03L90.6 346.25L89.76 345.82L89.56 344.76L90.47 343.93L91.65 343.11L92.3 342.12L93.26 341.53L94.38 341.22L95.48 340.96L96.75 341.33L97.7 341.61L100.38 342.52L100.22 342.91L98.62 342.72L98.07 342.91L98.88 343.6L99.85 343.73L100.57 343.52L101.44 342.91L101.15 342.12L101.75 342.12L104.06 341.92L105.74 341.73L105.84 341.33L107.82 341.73L107.35 340.96L107.54 340.4L108.68 340.4L109.6 341.73L109.1 340.58L109.96 340.58L110.65 340.02L112.17 339.84L112.48 339.29L115 339.12L115.42 338.61L118.51 339.12L118.22 340.02L119.9 340.02L121.8 340.21L124.06 340.21L125.59 340.96L126.79 340.77L127.71 340.4L130.82 340.58L132.07 341.03L135.08 341.49L135.72 341.53L137.8 341.33L138.67 341.73L141.33 341.73L143.75 343.31L143.41 343.52L144.22 344.35L143.45 344.97L143.35 345.39L141.72 345.39L142.04 346.25L143.15 347.54L143.33 348.42L142.95 349.3L141.35 347.98L139.84 346.68L139.91 345.82L139.58 344.97L139.02 345.6L138.26 345.82L136.49 345.69L134.97 345.82L134.97 347.54L135.07 348.07L136.75 348.42L137.71 349.74L138.18 350.65L137.78 352.45L136.77 352.91L136.16 353.14L135.9 354.28L137.32 355.66L137.57 356.58L136.7 356.81L135.98 355.66L135.28 354.97L134.77 354.28L133.7 354.05L133.66 354.74L132.53 354.74L133.21 355.43L134.65 355.66L133.92 356.58L135.01 357.97L135.74 358.89L135.61 359.82L135.13 360.97L134.54 361.9L133.25 362.5L131.95 363.05L131.11 362.82L130.43 363.51L130.57 364.44L131.75 365.59L132.22 366.98L131.39 367.9L130.63 368.59L130.49 367.9L129.74 367.67L129.27 366.98L128.62 366.51L128.52 367.67L128.3 368.45L129.07 369.75L130.14 370.9L130.45 372.06L130.13 372.1L129.25 371.36L128.79 369.98L127.92 368.82L127.87 367.21L127.36 365.36L126.47 365.36L125.86 364.44L125.62 363.51L124.72 362.82L124.07 362.5L123.11 362.73L122.77 363.19L122.62 363.51L121.71 364.3L121 365.13L120.24 365.59L120.34 366.75L120.31 367.99L119.67 368.92L119.26 368.96L118.79 367.67L118.08 366.28L117.35 364.9L117.1 363.28L116.94 362.91L115.96 363.14L115.49 362.45L114.72 361.66L114.32 361.02L112.55 361.11L110.74 360.93L110.26 360.28L109.3 360.46L108.24 359.91L107.54 358.89L106.95 358.89L106.83 359.59L107.72 360.51L108.22 361.43L108.64 361.66L109.43 361.62L110.12 360.74L110.4 361.43L111.24 361.85L111.81 362.36L111.38 363.33L111.11 363.97L110.1 364.9L108.92 365.36L107.56 366.28L106.17 366.84L105.57 366.88L105.2 365.82L104.42 364.2L103.54 362.82L102.85 361.43L101.73 359.82L101.64 359.12L101.32 358.29L101.68 357.28L101.74 356.12L101.69 355.75L100.58 356.03L99.61 355.98L98.64 355.8L98.21 355.34L97.87 354.6L97.8 354.28L98.8 353.82L99.72 353.73L100.97 353.37L101.79 353.82L102.91 353.82L103.42 353.55L103.11 352.91L102.29 352.45L101.48 352L101.94 351.55L101.49 351.1L100.67 351.55L100.12 351.55L100.02 352L99.02 351.46L98.8 351.91L98.46 352.68L98.36 353.37L98.71 353.78L97.68 353.92L96.94 353.92L96.79 354.28L96.51 354.14L96.75 354.74L97.06 355.2L96.7 355.43L96.55 355.89L96.01 355.34L95.49 354.51L95.19 353.6L94.81 353.14L93.85 352.68L93.25 351.91L92.94 351.73L92.44 351.86L92.55 352.45L93.14 353.14L93.91 353.46L94.9 354.19L94.72 354.33L94.18 354.14L94.37 354.74L94.02 355.2L93.91 355.2L93.94 354.51L93.38 354.01L92.53 353.51L91.84 352.96L91.63 352.45L91.14 352.27L90.71 352.55L90.17 352.87L89.43 352.68L89.06 353.14L89.14 353.46L88.21 354.05L87.84 354.6L87.95 354.88L87.68 355.39L87.19 355.75L86.23 355.8L85.84 356.12L85.55 355.75ZM32.15 343.31L34.57 341.73L35.17 342.32L35.82 342.91L34.36 343.52L33.53 343.44L33.07 343.11ZM86 349.74L88.41 349.21L88.54 348.51L87.95 348.2L87.44 347.54L87.28 346.46L86.79 345.99L86.3 346.03L85.93 346.89L86.31 347.62L86.92 348.2L86.39 348.42L86.2 348.99L86.72 349.13ZM84.46 348.86L85.86 348.77L85.89 347.98L85.4 347.45L84.52 347.98ZM92.69 355.2L93.83 355.11L93.68 355.8L92.7 355.43ZM91.05 354.74L91.61 354.65L91.54 353.73L91.06 353.92ZM96.98 356.45L98.06 356.49L97.95 356.58L97.02 356.54ZM100.37 356.58L101.19 356.31L101 356.63L100.47 356.77ZM138.23 357.28L139.03 358.29L139.01 357.28L140.07 357.05L140.71 356.72L141.8 356.58L141.46 355.2L140.87 353.82L140.31 353.82L140.77 354.97L140.18 355.66L140.08 356.22L139 356.35L138.47 356.91ZM140.02 353.37L139.6 351.86L141.28 352.45L141.58 352.91L141.13 353.37ZM139.55 351.55L139.1 350.2L137.83 348.86L136.89 347.98L137.48 348.86L138.57 350.2ZM126.77 370.21L127.89 370.9L129.14 371.83L130.38 373.21L131.17 374.14L131.04 375.43L130.31 375.29L129.13 373.9L128.13 372.06ZM130.9 375.75L132.11 375.84L133.14 375.75L134.53 376.31L134.42 376.72L132.68 376.54L131.28 376.17ZM132.41 372.06L133.22 371.92L134.02 371.27L135.01 370.44L135.56 369.52L136.44 370.44L135.98 371.36L136.09 372.29L135.47 373.44L135.23 374.6L134.42 374.37L133.41 374.23L132.82 373.44ZM136.7 372.38L137.31 372.2L138.53 372.29L138.94 372.06L138.14 372.61L137.32 372.75L136.9 373.21L137.51 373.21L138.13 373.21L137.5 373.67L137.87 374.83L137.27 374.6L137.08 374.14L136.95 375.29L136.63 375.29L136.47 374.14ZM141.39 373.12L142.62 373.12L142.99 374.27L144.23 373.54L145.44 373.95L146.65 374.51L147.42 375.29L148 375.75L148.14 376.45L149.06 377.51L147.86 377.37L146.73 376.31L146.07 376.91L145.26 376.91L144.48 376.45L144.11 375.98L144.16 375.29L142.97 374.74L142.16 374.6L141.77 374.04ZM136.36 364.2L137.05 364.25L137.16 365.36L137.09 366.28L138.15 366.75L137.98 366.98L136.91 366.51L136.66 366.05L136.35 365.36ZM137.6 369.52L138.16 368.82L138.94 368.27L139.41 369.29L139.26 369.98L138.98 369.98L138.43 369.75ZM137.41 367.3L138.03 367.44L138.79 366.98L138.91 367.99L138.13 368.36L137.71 368.13ZM135.85 362.13L135.97 361.11L136.39 361.2L136.26 362.59ZM131.57 363.88L132.24 363.51L132.47 363.74L131.96 364.34ZM120.4 369.05L120.53 368.27L121.23 369.29L120.93 369.93L120.53 369.93ZM133.47 382.91L133.09 384.76L133 386.61L132.35 388.45L133.34 388.92L135.44 388.45L136.9 387.67L138.17 387.39L138.99 387.3L139.87 387.99L140.27 388.92L141.35 387.99L140.92 389.15L141.2 390.07L142.05 390.62L143.11 390.76L144.17 390.21L145.13 389.84L146.25 388.45L147.67 387.07L148.41 385.68L148.62 384.53L148.07 383.6L147.64 382.91L147.27 381.99L146.68 381.53L146.74 380.6L146.65 379.68L145.98 379.22L145.77 377.83L145.32 378.75L145.02 380.14L144.27 380.93L143.41 380.14L142.69 379.68L143.27 378.29L141.88 378.06L141.03 378.39L140.26 379.68L139.66 379.68L138.91 379.22L137.92 380.37L137.18 380.69L136.96 381.3L135.64 381.99L134.58 382.31ZM142.16 391.54L143.44 391.63L142.69 392.59L141.77 392.86L141.88 392.13ZM154.51 388.69L154.62 389.61L154.89 390.07L155.78 390.16L154.67 390.99L153.22 391.9L153.84 390.99L153.52 390.9L154.25 390.3ZM152.68 391.49L152.88 391.99L151.57 392.91L150.17 393.86L148.95 394.22L148.53 393.86L149.92 393.05L151.44 392.27ZM102.86 340.96L103.93 341.07L104.38 340.58L103.54 339.84L104.18 339.12L106.05 338.78L105.94 339.29L104.54 339.65L103.75 340.21L103.1 340.58ZM90.76 337.93L92.23 338.88L93.76 338.61L94.34 337.93L92.98 337.62ZM112.44 338.1L114.02 338.34L115.01 338.1L112.9 337.48L111.84 337.62ZM125.58 339.46L128.05 339.65L128.84 339.29L126.51 339.05ZM48.86 410L44.3 408.49L38.88 406.21L40.46 406.09L42.06 405.97L43.7 405.85L45.63 405.29L47.43 405.07L49.26 404.84L51.13 404.8L53 404.77L54.87 404.73L56.83 404.54L58.81 404.36L61 404.36L63.18 404.36L65.83 403.97L67.1 402.59L67.92 401.15L69.2 400.45L69.74 400.94L68.53 401.77L69.25 403.18L70.18 404.36L70.91 405.1L74.32 406.21L76.37 406.21L78.41 406.21L80.85 405.1L83.55 404.17L86.45 403.38L89.46 403.18L92.5 402.98L95.49 403.18L98.01 402.78L100.15 402.78L103.61 401.77L105.26 401.57L107.17 402.19L109.53 402.39L111.74 402.78L113.5 401.98L116.14 401.77L119.43 401.57L122.57 401.57L125.34 401.98L128.87 401.57L131.79 401.77L134.2 402.39L136.21 403.18L138.37 403.77L133.58 405.85L135.34 406.04L137.02 406.21L131.6 408.49L127.04 410L125.74 410L124.43 410L123.13 410L121.83 410L120.53 410L119.22 410L117.92 410L116.62 410L115.31 410L114.01 410L112.71 410L111.4 410L110.1 410L108.8 410L107.5 410L106.19 410L104.89 410L103.59 410L102.28 410L100.98 410L99.68 410L98.37 410L97.07 410L95.77 410L94.47 410L93.16 410L91.86 410L90.56 410L89.25 410L87.95 410L86.65 410L85.34 410L84.04 410L82.74 410L81.43 410L80.13 410L78.83 410L77.53 410L76.22 410L74.92 410L73.62 410L72.31 410L71.01 410L69.71 410L68.4 410L67.1 410L65.8 410L64.5 410L63.19 410L61.89 410L60.59 410L59.28 410L57.98 410L56.68 410L55.37 410L54.07 410L52.77 410L51.47 410L50.16 410Z" fill="#d3dec1"/>
<g clip-path="url(#lc)">
<path d="M56.14 371.83L59.48 369.05L63.53 369.52L66.75 371.36L68.37 373.67L67.64 377.37L64.52 379.68L61.26 379.22L57.87 376.91L56.16 374.6ZM91.62 370.44L96.09 369.98L100.18 371.36L100.17 375.06L97.7 376.91L93.65 375.98L91.62 373.67ZM82.67 368.59L85.92 368.82L89.17 369.05L91.62 369.98L91.21 370.9L88.56 370.79L85.91 370.67L83.06 369.98ZM124.28 360.28L127.44 360.28L131.07 362.59L132.53 367.21L130.25 369.05L128.72 371.36L126.99 369.05L126.15 364.44ZM126.2 369.52L128.84 369.4L131.48 369.29L134.12 369.17L136.75 369.05L139.42 369.89L142.07 370.72L144.71 371.55L147.35 372.38L149.96 373.21L149.62 377.83L147.04 377.74L144.45 377.65L141.87 377.55L139.28 377.46L136.69 377.37L134.01 376.91L131.33 376.45L128.65 375.98L127.53 372.75ZM53.87 350.65L56.76 350.2L59.62 349.74L62.27 349.74L64.93 349.74L66.15 351.55L62.64 354.05L59.1 356.58L56.27 360.74L55.04 358.89L51.13 358.89L51.82 356.12L52.74 353.37ZM47.87 363.51L50.35 363.05L52.81 362.59L53.67 365.36L54.64 368.13L56.61 369.52L55.86 368.13L53.13 366.75L49.57 365.82ZM38.46 342.12L40.33 342.12L42.21 342.12L44.08 342.12L45.96 342.12L47.4 342.44L48.87 342.76L50.38 343.07L51.92 343.39L53.5 343.73L54.93 344.56L56.45 345.39L58.09 346.25L60.33 346.68L62.62 347.11L64.95 347.54L67.35 347.98L65.99 349.74L63.76 350.04L61.51 350.35L59.25 350.65L56.76 350.2L54.31 349.74L51.77 349.45L49.27 349.16L46.79 348.86L45.37 347.98L44.04 347.11L42.33 346.53L40.67 345.96L39.07 345.39L36.62 345.39L34.18 345.39ZM84.12 356.12L84.27 352.45L86.17 350.2L84.11 348.86L85.98 345.82L89.55 344.56L91.63 342.91L93.5 342.12L95.28 341.33L97.64 341.92L100.08 342.52L102.16 342.65L104.24 342.78L106.35 342.91L108.19 342.91L110.03 342.91L111.87 342.91L113.71 342.91L115.55 342.91L117.39 342.91L119.23 342.91L121.07 342.91L122.91 342.91L124.75 342.91L127.08 343.18L129.42 343.45L131.79 343.73L134.4 346.25L136.78 348.86L135.76 352.45L130.45 349.74L127.88 349.45L125.34 349.16L122.83 348.86L120.34 348.57L117.87 348.27L115.42 347.98L113.07 347.83L110.72 347.68L108.39 347.54L106.05 348.2L103.65 348.86L102.39 351.1L100.34 351.77L98.25 352.45L98.48 354.28L95.51 354.74L91.65 352.91L87.95 354.28ZM128.1 357.05L130.42 357.05L132.74 357.05L135.05 357.05L136.48 361.66L134.27 362.59L132.04 363.51L128.52 361.66ZM117.21 363.51L120.01 363.51L121.02 365.36L119.67 369.05L118.82 368.13ZM99.32 377.37L101.76 377.37L104.2 377.37L104.03 381.06L101.85 384.3L99.7 386.61L98.64 384.76L100.01 381.06ZM65.84 381.06L68.82 380.6L71.82 380.14L71.98 382.91L68.99 385.22L67.41 387.99L65.23 386.61L65.19 382.91Z" fill="#bbd3a8" filter="url(#bl2)"/>
<path d="M81.25 359.82L84.06 357.97L87.95 357.05L91.82 357.28L94.16 357.62L96.51 357.97L100.83 358.43L102.72 362.59L104.13 366.28L100.1 366.75L97.05 366.51L94.02 366.28L90.98 365.94L87.95 365.59L83.92 365.36L81.1 364.9ZM101.61 358.43L103.34 356.58L105.77 357.51L107.54 358.89L110.12 360.74L111.91 362.59L110.1 364.9L106.17 366.75L105.29 365.36L103.55 363.05L101.73 359.82ZM106.62 357.97L107.86 356.12L110.82 355.66L114.11 356.58L116.15 358.89L115 361.66L111.77 361.2L108.49 360.28ZM106.85 351.55L109.48 350.65L111.71 350.87L113.95 351.1L117.75 351.55L120.45 351.1L124.52 352L128.4 352.45L130.82 354.28L127.98 355.66L124.17 355.66L120.5 356.12L117.55 355.2L114.52 355.2L111.48 355.2L108.44 355.2ZM116.67 356.12L120.35 355.66L122.83 355.66L125.31 355.66L127.62 357.97L125.27 359.35L121.38 359.59L118.4 358.43ZM133.87 382.91L136.89 381.76L140.18 381.3L143.35 381.53L145.05 382.91L145.61 385.22L143.95 387.53L141.52 387.76L138.69 387.07L135.4 387.53L133.39 386.61ZM93.19 380.6L96.78 381.53L98.29 383.84L96.96 386.61L94.95 387.53L93.87 385.22ZM43.32 353.37L47.27 352.91L48.86 355.2L47.99 358.89L45.78 361.66L43.88 361.2L42.67 358.43L41.61 356.12ZM59.35 386.61L61.99 387.07L64.62 387.53L66.7 390.3L64.89 392.13L65.28 395.76L65.66 398.39L61.85 397.52L61.04 394.85L60.43 392.13L59.8 389.38ZM58.91 380.14L60.52 380.14L61.42 384.76L61.12 387.53L59.95 387.53L59.71 383.84ZM104.16 367.21L108.62 367.21L108.29 369.05L106.7 371.36L104.68 372.29L103.84 370.44Z" fill="#f0e8d6" filter="url(#bl2)"/>
<path d="M100.22 342.91L102.36 343.18L104.54 343.45L106.74 343.73L108.58 343.64L110.41 343.56L112.23 343.48L114.04 343.39L115.85 343.31L117.77 343.39L119.7 343.48L121.64 343.56L123.58 343.64L125.53 343.73L127.57 343.89L129.62 344.06L131.69 344.22L133.78 344.39L135.88 344.56L137.8 344.56L139.71 344.56L141.63 344.56L143.55 344.56L145.46 344.56L141.94 342.12L138.06 339.84L133.58 337.76L132.04 337.76L130.5 337.76L128.95 337.76L127.41 337.76L125.87 337.76L124.33 337.76L122.78 337.76L121.24 337.76L119.7 337.76L118.15 337.76L116.61 337.76L115.07 337.76L113.52 337.76L111.98 337.76L110.44 337.76L108.89 337.76L107.35 337.76L105.81 337.76L104.26 337.76L102.72 337.76L101.18 337.76L99.63 337.76L98.09 337.76L99.23 340.21ZM33.63 344.56L35.76 344.39L37.87 344.22L39.96 344.06L42.04 343.89L44.11 343.73L45.81 343.89L47.54 344.06L49.28 344.22L51.03 344.39L52.8 344.56L54.55 345.39L56.43 346.25L58.46 346.53L60.53 346.82L62.62 347.11L65.05 347.32L67.51 347.54L68.78 344.56L70.16 341.73L71.72 339.12L70.07 339.12L68.42 339.12L66.76 339.12L65.11 339.12L63.46 339.12L61.8 339.12L60.15 339.12L58.5 339.12L56.85 339.12L55.19 339.12L53.54 339.12L51.89 339.12L50.23 339.12L48.58 339.12L46.93 339.12L45.28 339.12L43.62 339.12L41.97 339.12L37.53 341.73ZM117.05 356.12L120.66 355.43L122.98 355.55L125.31 355.66L127.23 357.97L124.87 359.35L121.38 359.59L118.4 358.43ZM89.58 345.39L91.82 344.97L94.08 342.91L96.75 341.33L93.7 340.77L91.02 342.91Z" fill="#dfe7d6" filter="url(#bl2)"/>
<path d="M69.61 338.44L71.66 337.84L73.59 337.35L75.18 337.21L76.75 337.07L78.29 336.94L80.13 337.14L82.01 337.35L82.63 338.78L81.29 340.96L79 341.92L76.3 342.91L74.53 344.56L73.01 344.35L72.62 342.91L72.7 341.33L72.57 339.46L70.24 338.95ZM53.34 338.78L55.37 338.56L57.36 338.35L59.32 338.13L61.24 337.91L63.13 337.71L64.97 337.53L66.78 337.36L68.56 337.19L70.31 337.01L72.02 336.84L73.7 336.66L71.25 339.84L68.66 340.58L65.96 341.33L64.2 341.08L62.48 340.83L60.8 340.58L59.01 340.66L57.21 340.73L55.4 340.81L53.58 340.88L51.76 340.96ZM100.23 337.21L101.7 337.21L103.17 337.21L104.64 337.21L106.12 337.21L107.59 337.21L109.06 337.21L110.54 337.21L112.01 337.21L113.48 337.21L114.96 337.21L117 338.61L115.46 338.78L113.89 338.95L112.29 339.12L110.25 338.89L108.25 338.67L106.29 338.44L104.98 339.46L104.06 340.77L102.24 340.58ZM89.95 337.48L91.61 337.48L93.27 337.48L94.94 337.48L95.52 339.12L93.72 339.12L91.92 339.12L90.11 339.12Z" fill="#f6f7f7" filter="url(#bl2)"/>
</g>
<path d="M105.08 351.77L106.03 351.19L107.15 351.32L107.33 352L106.65 352.23L107.42 353.14L108.2 354.05L108.42 355.66L107.42 355.8L106.59 355.43L106.51 354.05L105.57 353.14ZM54.67 351.23L56.54 350.29L57.4 351.19L56.42 351.37ZM55.22 353.37L55.85 353.37L57.1 351.64L58.11 351.64L58.61 352.23L57.44 352.91L57.41 352L56.66 351.64L55.66 352.45ZM56.9 353.55L58.73 352.91L59.93 352.45L59.7 352.77L58.67 353.09L57.16 353.64ZM100.92 372.98L101.82 372.66L101.81 373.81L101 373.95ZM124.29 349.08L124.84 348.73L125.2 347.32L124.89 347.28L124.52 348.51ZM109.39 352.45L109.68 351.32L110.37 351.77L110.08 352.68ZM49.72 343.11L52.16 342.52L51.57 343.11Z" fill="#8dbbdc"/>
<path d="M48.86 410L44.3 408.49L38.88 406.21L40.46 406.09L42.06 405.97L43.7 405.85L45.63 405.29L47.43 405.07L49.26 404.84L51.13 404.8L53 404.77L54.87 404.73L56.83 404.54L58.81 404.36L61 404.36L63.18 404.36L65.83 403.97L67.1 402.59L67.92 401.15L69.2 400.45L69.74 400.94L68.53 401.77L69.25 403.18L70.18 404.36L70.91 405.1L74.32 406.21L76.37 406.21L78.41 406.21L80.85 405.1L83.55 404.17L86.45 403.38L89.46 403.18L92.5 402.98L95.49 403.18L98.01 402.78L100.15 402.78L103.61 401.77L105.26 401.57L107.17 402.19L109.53 402.39L111.74 402.78L113.5 401.98L116.14 401.77L119.43 401.57L122.57 401.57L125.34 401.98L128.87 401.57L131.79 401.77L134.2 402.39L136.21 403.18L138.37 403.77L133.58 405.85L135.34 406.04L137.02 406.21L131.6 408.49L127.04 410L125.74 410L124.43 410L123.13 410L121.83 410L120.53 410L119.22 410L117.92 410L116.62 410L115.31 410L114.01 410L112.71 410L111.4 410L110.1 410L108.8 410L107.5 410L106.19 410L104.89 410L103.59 410L102.28 410L100.98 410L99.68 410L98.37 410L97.07 410L95.77 410L94.47 410L93.16 410L91.86 410L90.56 410L89.25 410L87.95 410L86.65 410L85.34 410L84.04 410L82.74 410L81.43 410L80.13 410L78.83 410L77.53 410L76.22 410L74.92 410L73.62 410L72.31 410L71.01 410L69.71 410L68.4 410L67.1 410L65.8 410L64.5 410L63.19 410L61.89 410L60.59 410L59.28 410L57.98 410L56.68 410L55.37 410L54.07 410L52.77 410L51.47 410L50.16 410Z" fill="#f3f5f7"/>
</g>
</g>
<path d="M127.04 410L128.8 409.47L130.7 408.84L132.86 408.02L135.11 407.06L137.4 406.04L139.4 404.92L141.33 403.77L143.15 402.59L144.89 401.36L146.61 400.11L148.21 398.82L149.76 397.52L151.21 396.2L152.53 394.85L153.78 393.5L154.9 392.13L155.95 390.76L156.88 389.38L157.7 387.99L158.46 386.61L159.03 385.22L159.55 383.84L159.96 382.45L160.32 381.06L160.67 379.68L160.9 378.29L161.11 376.91L161.25 375.52L161.34 374.14L161.4 372.75L161.34 371.36L161.25 369.98L161.11 368.59L160.9 367.21L160.67 365.82L160.32 364.44L159.96 363.05L159.55 361.66L159.03 360.28L158.46 358.89L157.7 357.51L156.88 356.12L155.95 354.74L154.9 353.37L153.78 352L152.53 350.65L151.21 349.3L149.76 347.98L148.21 346.68L146.61 345.39L144.89 344.14L143.15 342.91L141.33 341.73L139.4 340.58L137.4 339.46L135.11 338.44L132.86 337.48L130.7 336.66L128.8 336.03L127.04 335.5L48.86 335.5L47.1 336.03L45.2 336.66L43.04 337.48L40.79 338.44L38.5 339.46L36.5 340.58L34.57 341.73L32.75 342.91L31.01 344.14L29.29 345.39L27.69 346.68L26.14 347.98L24.69 349.3L23.37 350.65L22.12 352L21 353.37L19.95 354.74L19.02 356.12L18.2 357.51L17.44 358.89L16.87 360.28L16.35 361.66L15.94 363.05L15.58 364.44L15.23 365.82L15 367.21L14.79 368.59L14.65 369.98L14.56 371.36L14.5 372.75L14.56 374.14L14.65 375.52L14.79 376.91L15 378.29L15.23 379.68L15.58 381.06L15.94 382.45L16.35 383.84L16.87 385.22L17.44 386.61L18.2 387.99L19.02 389.38L19.95 390.76L21 392.13L22.12 393.5L23.37 394.85L24.69 396.2L26.14 397.52L27.69 398.82L29.29 400.11L31.01 401.36L32.75 402.59L34.57 403.77L36.5 404.92L38.5 406.04L40.79 407.06L43.04 408.02L45.2 408.84L47.1 409.47L48.86 410Z" fill="none" stroke="#222" stroke-width="0.6"/>
</g>
</defs>
<use href="#bm" x="0" y="0"/>
<g stroke="#2a2a2a" stroke-width="0.35" stroke-opacity="0.8">
<circle cx="25.7" cy="364" r="1.7" fill="#fee1d3"/>
<circle cx="19.1" cy="379.6" r="1.7" fill="#fee8dd"/>
<circle cx="42" cy="342" r="1.7" fill="#fdcab5"/>
<circle cx="41.3" cy="344.5" r="1.7" fill="#fed9c8"/>
<circle cx="43" cy="345.2" r="1.7" fill="#fed9c8"/>
<circle cx="62" cy="339.6" r="1.7" fill="#fdcab5"/>
<circle cx="66" cy="338" r="1.7" fill="#fed9c8"/>
<circle cx="69.3" cy="339.3" r="1.7" fill="#fed9c8"/>
<circle cx="72.4" cy="343" r="1.7" fill="#f14432"/>
<circle cx="62.7" cy="358" r="1.7" fill="#fee1d3"/>
<circle cx="55.3" cy="360" r="1.7" fill="#fee1d3"/>
<circle cx="61" cy="365" r="1.7" fill="#fee4d8"/>
<circle cx="77.3" cy="355" r="1.7" fill="#fc8a6a"/>
<circle cx="81.3" cy="360" r="1.7" fill="#fc8a6a"/>
<circle cx="78.3" cy="365.3" r="1.7" fill="#fc8a6a"/>
<circle cx="82" cy="376.7" r="1.7" fill="#fcbba1"/>
<circle cx="51.3" cy="373.3" r="1.7" fill="#fee4d8"/>
<circle cx="56" cy="373" r="1.7" fill="#fed9c8"/>
<circle cx="64" cy="373.7" r="1.7" fill="#fb7a5a"/>
<circle cx="57.3" cy="378.7" r="1.7" fill="#fdcab5"/>
<circle cx="60.7" cy="380.7" r="1.7" fill="#fee4d8"/>
<circle cx="62.5" cy="381" r="1.7" fill="#fee8dd"/>
<circle cx="60" cy="384.3" r="1.7" fill="#fdcab5"/>
<circle cx="66" cy="388.7" r="1.7" fill="#fee1d3"/>
<circle cx="70.2" cy="402" r="1.7" fill="#fee8dd"/>
<circle cx="90" cy="362.3" r="1.7" fill="#f6573e"/>
<circle cx="92" cy="357.6" r="1.7" fill="#fcab8e"/>
<circle cx="100.7" cy="358.7" r="1.7" fill="#fcab8e"/>
<circle cx="103.3" cy="362.7" r="1.7" fill="#fc8a6a"/>
<circle cx="100.4" cy="356.7" r="1.7" fill="#fcab8e"/>
<circle cx="87.7" cy="370" r="1.7" fill="#e83429"/>
<circle cx="89.7" cy="369" r="1.7" fill="#d92623"/>
<circle cx="101.7" cy="373" r="1.7" fill="#fcab8e"/>
<circle cx="104.4" cy="374.3" r="1.7" fill="#fcab8e"/>
<circle cx="100.4" cy="377.7" r="1.7" fill="#fb7a5a"/>
<circle cx="97.3" cy="380" r="1.7" fill="#fc9a7b"/>
<circle cx="94" cy="381.7" r="1.7" fill="#fee1d3"/>
<circle cx="96.7" cy="383.3" r="1.7" fill="#fed9c8"/>
<circle cx="98.7" cy="384.7" r="1.7" fill="#fcab8e"/>
<circle cx="100.4" cy="384.4" r="1.7" fill="#fc9a7b"/>
<circle cx="95.3" cy="386" r="1.7" fill="#fee1d3"/>
<circle cx="97" cy="382" r="1.7" fill="#fcab8e"/>
<circle cx="110" cy="382.7" r="1.7" fill="#fee8dd"/>
<circle cx="117.3" cy="390" r="1.7" fill="#fee8dd"/>
<circle cx="113.7" cy="355" r="1.7" fill="#67000d"/>
<circle cx="117" cy="353.7" r="1.7" fill="#fee1d3"/>
<circle cx="116.7" cy="358.3" r="1.7" fill="#d92623"/>
<circle cx="118.3" cy="360.4" r="1.7" fill="#d92623"/>
<circle cx="114.7" cy="361.6" r="1.7" fill="#fb6a4a"/>
<circle cx="121.7" cy="359.6" r="1.7" fill="#fee4d8"/>
<circle cx="119" cy="368" r="1.7" fill="#fb7a5a"/>
<circle cx="123.3" cy="362.7" r="1.7" fill="#ad1117"/>
<circle cx="125" cy="361" r="1.7" fill="#ad1117"/>
<circle cx="125.7" cy="360" r="1.7" fill="#bc141a"/>
<circle cx="127.6" cy="364" r="1.7" fill="#fed9c8"/>
<circle cx="128.7" cy="366" r="1.7" fill="#fcab8e"/>
<circle cx="128.7" cy="370" r="1.7" fill="#fcab8e"/>
<circle cx="129.3" cy="372.7" r="1.7" fill="#fcab8e"/>
<circle cx="130.3" cy="373" r="1.7" fill="#fcab8e"/>
<circle cx="131.3" cy="376" r="1.7" fill="#cb181d"/>
<circle cx="129" cy="368" r="1.7" fill="#fc9a7b"/>
<circle cx="128.5" cy="374" r="1.7" fill="#fcab8e"/>
<circle cx="132.7" cy="362.4" r="1.7" fill="#d92623"/>
<circle cx="135.3" cy="362" r="1.7" fill="#e83429"/>
<circle cx="136.3" cy="358.7" r="1.7" fill="#fc9a7b"/>
<circle cx="138.7" cy="361" r="1.7" fill="#fcab8e"/>
<circle cx="131.3" cy="354.3" r="1.7" fill="#d92623"/>
<circle cx="135.6" cy="355.3" r="1.7" fill="#fb6a4a"/>
<circle cx="136.7" cy="357.3" r="1.7" fill="#fc8a6a"/>
<circle cx="140" cy="353.3" r="1.7" fill="#fc9a7b"/>
<circle cx="139.6" cy="356" r="1.7" fill="#fc9a7b"/>
<circle cx="141.7" cy="356.7" r="1.7" fill="#fed9c8"/>
<circle cx="138" cy="354.5" r="1.7" fill="#fc8a6a"/>
<circle cx="139" cy="358" r="1.7" fill="#fcab8e"/>
<circle cx="138.7" cy="369.7" r="1.7" fill="#fcab8e"/>
<circle cx="140" cy="380" r="1.7" fill="#fcab8e"/>
<circle cx="141.7" cy="378.7" r="1.7" fill="#fcab8e"/>
<circle cx="133.3" cy="383.3" r="1.7" fill="#fee1d3"/>
<circle cx="135.3" cy="387" r="1.7" fill="#fee4d8"/>
<circle cx="143" cy="387.3" r="1.7" fill="#fee4d8"/>
<circle cx="145.7" cy="387.6" r="1.7" fill="#fee4d8"/>
<circle cx="144.7" cy="389.4" r="1.7" fill="#fee8dd"/>
<circle cx="156.3" cy="368.7" r="1.7" fill="#fee8dd"/>
<circle cx="154.7" cy="390" r="1.7" fill="#fee8dd"/>
<circle cx="94.7" cy="405" r="1.7" fill="#ffebe2"/>
<circle cx="103" cy="409.3" r="1.7" fill="#ffebe2"/>
<circle cx="51.3" cy="344.7" r="1.7" fill="#67000d"/>
<circle cx="50.4" cy="347" r="1.7" fill="#800610"/>
<circle cx="56.7" cy="346" r="1.7" fill="#d92623"/>
<circle cx="56.4" cy="349.3" r="1.7" fill="#cb181d"/>
<circle cx="61.3" cy="350" r="1.7" fill="#990c13"/>
<circle cx="64" cy="350.7" r="1.7" fill="#f14432"/>
<circle cx="65.3" cy="353" r="1.7" fill="#fb6a4a"/>
<circle cx="56.6" cy="347.6" r="1.7" fill="#bc141a"/>
<circle cx="44.75" cy="353.44" r="1.7" fill="#fee6da"/>
<circle cx="42.59" cy="353.11" r="1.7" fill="#fdcbb6"/>
<circle cx="50.3" cy="352.86" r="1.7" fill="#fee1d3"/>
<circle cx="47.43" cy="354.69" r="1.7" fill="#fee6db"/>
<circle cx="45.85" cy="354.28" r="1.7" fill="#fdd0bd"/>
<circle cx="50.33" cy="353.26" r="1.7" fill="#fdceba"/>
<circle cx="49.44" cy="354.36" r="1.7" fill="#fdd5c3"/>
<circle cx="42.52" cy="356.53" r="1.7" fill="#fcc4ad"/>
<circle cx="43.43" cy="353.26" r="1.7" fill="#fdcdb9"/>
<circle cx="46.67" cy="357.55" r="1.7" fill="#fdcab4"/>
<circle cx="43.5" cy="353.9" r="1.7" fill="#fed9c9"/>
<circle cx="50.1" cy="356.47" r="1.7" fill="#fdd4c2"/>
<circle cx="45.34" cy="354.83" r="1.7" fill="#fdd3c1"/>
<circle cx="42" cy="353.45" r="1.7" fill="#feded0"/>
<circle cx="45.1" cy="353.29" r="1.7" fill="#fcc4ad"/>
<circle cx="49.05" cy="353.5" r="1.7" fill="#fdc6af"/>
<circle cx="49.34" cy="356.5" r="1.7" fill="#feded0"/>
<circle cx="48.9" cy="358.12" r="1.7" fill="#fdccb7"/>
<circle cx="42.24" cy="354.16" r="1.7" fill="#fdd1be"/>
<circle cx="43.87" cy="353.87" r="1.7" fill="#fee3d6"/>
<circle cx="42.72" cy="356.3" r="1.7" fill="#fdcdb9"/>
<circle cx="50.26" cy="354.82" r="1.7" fill="#fdc6b0"/>
<circle cx="43.24" cy="357.23" r="1.7" fill="#fdd2c0"/>
<circle cx="46.48" cy="357.83" r="1.7" fill="#fdc9b4"/>
<circle cx="54.61" cy="353.57" r="1.7" fill="#f14432"/>
<circle cx="57.52" cy="354.31" r="1.7" fill="#fcbaa0"/>
<circle cx="60.2" cy="354.47" r="1.7" fill="#fa6547"/>
<circle cx="60.77" cy="354.15" r="1.7" fill="#fc9676"/>
<circle cx="56.93" cy="354.32" r="1.7" fill="#f14230"/>
<circle cx="61.58" cy="351.71" r="1.7" fill="#fb6b4b"/>
<circle cx="53.35" cy="355.53" r="1.7" fill="#fcb499"/>
<circle cx="63.38" cy="356.29" r="1.7" fill="#fb6c4c"/>
<circle cx="58.15" cy="353.71" r="1.7" fill="#fb7353"/>
<circle cx="52.76" cy="352.55" r="1.7" fill="#f44f39"/>
<circle cx="53.29" cy="356.87" r="1.7" fill="#fc9979"/>
<circle cx="59.11" cy="356.09" r="1.7" fill="#f34935"/>
<circle cx="54.71" cy="351.65" r="1.7" fill="#fcaf94"/>
<circle cx="60.61" cy="352.71" r="1.7" fill="#fcb297"/>
<circle cx="53.77" cy="353.93" r="1.7" fill="#eb372a"/>
<circle cx="59.75" cy="357.28" r="1.7" fill="#f34b36"/>
<circle cx="52.35" cy="355.69" r="1.7" fill="#fc7f5f"/>
<circle cx="55.02" cy="353.83" r="1.7" fill="#fb6b4b"/>
<circle cx="55.21" cy="353.15" r="1.7" fill="#fb6f4f"/>
<circle cx="52.58" cy="353.44" r="1.7" fill="#fc8868"/>
<circle cx="60.09" cy="356.6" r="1.7" fill="#fb7353"/>
<circle cx="62.2" cy="354.94" r="1.7" fill="#c6171c"/>
<circle cx="58.51" cy="356.69" r="1.7" fill="#cc191e"/>
<circle cx="58.2" cy="354.94" r="1.7" fill="#fc9a7b"/>
<circle cx="59.41" cy="351.24" r="1.7" fill="#e33027"/>
<circle cx="57.43" cy="353.32" r="1.7" fill="#f6573e"/>
<circle cx="60.42" cy="352.81" r="1.7" fill="#fcbaa0"/>
<circle cx="57.7" cy="353.87" r="1.7" fill="#fc8262"/>
<circle cx="95.8" cy="356.52" r="1.7" fill="#ffebe1"/>
<circle cx="85.49" cy="354.3" r="1.7" fill="#fdc8b2"/>
<circle cx="90.26" cy="346.53" r="1.7" fill="#fcc4ad"/>
<circle cx="94.2" cy="355.52" r="1.7" fill="#fee8dd"/>
<circle cx="85.03" cy="354.52" r="1.7" fill="#fdd5c4"/>
<circle cx="95.68" cy="351.46" r="1.7" fill="#fcc2ab"/>
<circle cx="87.79" cy="342.73" r="1.7" fill="#feddce"/>
<circle cx="88.01" cy="350.36" r="1.7" fill="#fdc7b1"/>
<circle cx="90.25" cy="344.09" r="1.7" fill="#fedfd1"/>
<circle cx="89.69" cy="348.21" r="1.7" fill="#fedecf"/>
<circle cx="96.44" cy="345.24" r="1.7" fill="#fdc6af"/>
<circle cx="94.14" cy="355.44" r="1.7" fill="#fdc6b0"/>
<circle cx="85.14" cy="344.32" r="1.7" fill="#fcb094"/>
<circle cx="95.23" cy="345.49" r="1.7" fill="#feded0"/>
<circle cx="91.37" cy="350.74" r="1.7" fill="#feddce"/>
<circle cx="90.63" cy="345.52" r="1.7" fill="#fee4d7"/>
<circle cx="93.51" cy="355.88" r="1.7" fill="#fdcfbc"/>
<circle cx="86.58" cy="356.55" r="1.7" fill="#fdccb8"/>
<circle cx="86.85" cy="348.26" r="1.7" fill="#fee0d2"/>
<circle cx="89.4" cy="355.47" r="1.7" fill="#feeae0"/>
<circle cx="93.47" cy="347.68" r="1.7" fill="#feddcf"/>
<circle cx="86.61" cy="347.35" r="1.7" fill="#fdd7c6"/>
<circle cx="96.95" cy="342.45" r="1.7" fill="#fee3d7"/>
<circle cx="96.98" cy="347.09" r="1.7" fill="#fdceba"/>
<circle cx="97.25" cy="351.51" r="1.7" fill="#fdc5af"/>
<circle cx="90.9" cy="355.92" r="1.7" fill="#fcab8f"/>
<circle cx="95.23" cy="343.19" r="1.7" fill="#fee4d7"/>
<circle cx="98.32" cy="345.97" r="1.7" fill="#fcb69b"/>
<circle cx="94.72" cy="354.7" r="1.7" fill="#fdd3c1"/>
<circle cx="87.18" cy="344.3" r="1.7" fill="#fcc4ad"/>
<circle cx="98.36" cy="343.53" r="1.7" fill="#ffece4"/>
<circle cx="92.25" cy="355.95" r="1.7" fill="#fdccb7"/>
<circle cx="86.76" cy="347.53" r="1.7" fill="#fdd0bd"/>
<circle cx="86.28" cy="346.68" r="1.7" fill="#fee2d5"/>
<circle cx="85.96" cy="352.43" r="1.7" fill="#feeae0"/>
<circle cx="98.45" cy="347.46" r="1.7" fill="#fdc7b1"/>
<circle cx="90.41" cy="344.44" r="1.7" fill="#ffece3"/>
<circle cx="87.75" cy="349.82" r="1.7" fill="#fca588"/>
<circle cx="90.74" cy="342.8" r="1.7" fill="#fdcab5"/>
<circle cx="96.2" cy="354.44" r="1.7" fill="#fedaca"/>
<circle cx="84.12" cy="350.44" r="1.7" fill="#fdd2c0"/>
<circle cx="92.24" cy="348.39" r="1.7" fill="#fdd1bf"/>
<circle cx="90.37" cy="344.69" r="1.7" fill="#fee2d5"/>
<circle cx="84.73" cy="353" r="1.7" fill="#fedaca"/>
<circle cx="94.48" cy="354.22" r="1.7" fill="#fee5d9"/>
<circle cx="88.76" cy="353.34" r="1.7" fill="#fcc0a7"/>
<circle cx="91.09" cy="346.79" r="1.7" fill="#fee7dc"/>
<circle cx="91.46" cy="351.54" r="1.7" fill="#fdc8b2"/>
<circle cx="95.47" cy="345.97" r="1.7" fill="#fcb69c"/>
<circle cx="87.3" cy="351.59" r="1.7" fill="#fee4d8"/>
<circle cx="91.19" cy="355.43" r="1.7" fill="#fee4d8"/>
<circle cx="92.25" cy="350.84" r="1.7" fill="#fdc6b0"/>
<circle cx="96.57" cy="353.73" r="1.7" fill="#fcb297"/>
<circle cx="94.5" cy="345.73" r="1.7" fill="#fedfd1"/>
<circle cx="97.61" cy="344.13" r="1.7" fill="#fcaa8e"/>
<circle cx="96.84" cy="353.74" r="1.7" fill="#fcb69b"/>
<circle cx="86.98" cy="342.58" r="1.7" fill="#fcad92"/>
<circle cx="91.35" cy="345.98" r="1.7" fill="#ffece4"/>
<circle cx="92.7" cy="342" r="1.7" fill="#fdcab5"/>
<circle cx="96" cy="343" r="1.7" fill="#fdcab5"/>
</g>
<text x="87.55" y="331.1" text-anchor="middle" font-size="7.87">RMSE: Operational AI-GAMFS</text>
<rect x="26.3" y="415.3" width="126" height="7.2" fill="url(#gR)" stroke="#333" stroke-width="0.5"/>
<path d="M26.3 422.5v4.2M57.8 422.5v4.2M89.3 422.5v4.2M120.8 422.5v4.2M152.3 422.5v4.2" stroke="#222" stroke-width="0.55" fill="none"/>
<g text-anchor="middle">
<text x="26.3" y="436.4">0</text>
<text x="57.8" y="436.4">0.1</text>
<text x="89.3" y="436.4">0.2</text>
<text x="120.8" y="436.4">0.3</text>
<text x="152.3" y="436.4">0.4</text>
<text x="89.4" y="449.5">AOD</text>
</g>
<use href="#bm" x="170" y="0"/>
<g stroke="#2a2a2a" stroke-width="0.35" stroke-opacity="0.8">
<circle cx="195.7" cy="364" r="1.7" fill="#a5cfe3"/>
<circle cx="189.1" cy="379.6" r="1.7" fill="#b2d5e7"/>
<circle cx="212" cy="342" r="1.7" fill="#8c0c25"/>
<circle cx="211.3" cy="344.5" r="1.7" fill="#0b3b70"/>
<circle cx="213" cy="345.2" r="1.7" fill="#0b3b70"/>
<circle cx="232" cy="339.6" r="1.7" fill="#f7f7f7"/>
<circle cx="236" cy="338" r="1.7" fill="#fbe6da"/>
<circle cx="239.3" cy="339.3" r="1.7" fill="#d9e9f1"/>
<circle cx="242.4" cy="343" r="1.7" fill="#6aacd0"/>
<circle cx="232.7" cy="358" r="1.7" fill="#f7f7f7"/>
<circle cx="225.3" cy="360" r="1.7" fill="#92c5de"/>
<circle cx="231" cy="365" r="1.7" fill="#e4eef4"/>
<circle cx="247.3" cy="355" r="1.7" fill="#e58268"/>
<circle cx="251.3" cy="360" r="1.7" fill="#0b3b70"/>
<circle cx="248.3" cy="365.3" r="1.7" fill="#fae9df"/>
<circle cx="252" cy="376.7" r="1.7" fill="#c43c3c"/>
<circle cx="221.3" cy="373.3" r="1.7" fill="#0b3b70"/>
<circle cx="226" cy="373" r="1.7" fill="#fae9df"/>
<circle cx="234" cy="373.7" r="1.7" fill="#fae9df"/>
<circle cx="227.3" cy="378.7" r="1.7" fill="#ee9777"/>
<circle cx="230.7" cy="380.7" r="1.7" fill="#0b3b70"/>
<circle cx="232.5" cy="381" r="1.7" fill="#b2d5e7"/>
<circle cx="230" cy="384.3" r="1.7" fill="#760521"/>
<circle cx="236" cy="388.7" r="1.7" fill="#fae9df"/>
<circle cx="240.2" cy="402" r="1.7" fill="#f4a582"/>
<circle cx="260" cy="362.3" r="1.7" fill="#e4eef4"/>
<circle cx="262" cy="357.6" r="1.7" fill="#134b86"/>
<circle cx="270.7" cy="358.7" r="1.7" fill="#2166ac"/>
<circle cx="273.3" cy="362.7" r="1.7" fill="#ee9777"/>
<circle cx="270.4" cy="356.7" r="1.7" fill="#0b3b70"/>
<circle cx="257.7" cy="370" r="1.7" fill="#0b3b70"/>
<circle cx="259.7" cy="369" r="1.7" fill="#0b3b70"/>
<circle cx="271.7" cy="373" r="1.7" fill="#7e0723"/>
<circle cx="274.4" cy="374.3" r="1.7" fill="#f4a582"/>
<circle cx="270.4" cy="377.7" r="1.7" fill="#92c5de"/>
<circle cx="267.3" cy="380" r="1.7" fill="#0b3b70"/>
<circle cx="264" cy="381.7" r="1.7" fill="#0b3b70"/>
<circle cx="266.7" cy="383.3" r="1.7" fill="#f7f7f7"/>
<circle cx="268.7" cy="384.7" r="1.7" fill="#fae9df"/>
<circle cx="270.4" cy="384.4" r="1.7" fill="#d6604d"/>
<circle cx="265.3" cy="386" r="1.7" fill="#d1e5f0"/>
<circle cx="267" cy="382" r="1.7" fill="#0d4078"/>
<circle cx="280" cy="382.7" r="1.7" fill="#0b3b70"/>
<circle cx="287.3" cy="390" r="1.7" fill="#0b3b70"/>
<circle cx="283.7" cy="355" r="1.7" fill="#0b3b70"/>
<circle cx="287" cy="353.7" r="1.7" fill="#f7f7f7"/>
<circle cx="286.7" cy="358.3" r="1.7" fill="#7e0723"/>
<circle cx="288.3" cy="360.4" r="1.7" fill="#0b3b70"/>
<circle cx="284.7" cy="361.6" r="1.7" fill="#e4eef4"/>
<circle cx="291.7" cy="359.6" r="1.7" fill="#f7f7f7"/>
<circle cx="289" cy="368" r="1.7" fill="#fbd0b9"/>
<circle cx="293.3" cy="362.7" r="1.7" fill="#f7f7f7"/>
<circle cx="295" cy="361" r="1.7" fill="#7e0723"/>
<circle cx="295.7" cy="360" r="1.7" fill="#b2182b"/>
<circle cx="297.6" cy="364" r="1.7" fill="#92c5de"/>
<circle cx="298.7" cy="366" r="1.7" fill="#134b86"/>
<circle cx="298.7" cy="370" r="1.7" fill="#134b86"/>
<circle cx="299.3" cy="372.7" r="1.7" fill="#0b3b70"/>
<circle cx="300.3" cy="373" r="1.7" fill="#134b86"/>
<circle cx="301.3" cy="376" r="1.7" fill="#0b3b70"/>
<circle cx="299" cy="368" r="1.7" fill="#134b86"/>
<circle cx="298.5" cy="374" r="1.7" fill="#4393c3"/>
<circle cx="302.7" cy="362.4" r="1.7" fill="#7e0723"/>
<circle cx="305.3" cy="362" r="1.7" fill="#0b3b70"/>
<circle cx="306.3" cy="358.7" r="1.7" fill="#134b86"/>
<circle cx="308.7" cy="361" r="1.7" fill="#d1e5f0"/>
<circle cx="301.3" cy="354.3" r="1.7" fill="#0b3b70"/>
<circle cx="305.6" cy="355.3" r="1.7" fill="#7e0723"/>
<circle cx="306.7" cy="357.3" r="1.7" fill="#134b86"/>
<circle cx="310" cy="353.3" r="1.7" fill="#f8c0a4"/>
<circle cx="309.6" cy="356" r="1.7" fill="#ee9777"/>
<circle cx="311.7" cy="356.7" r="1.7" fill="#0b3b70"/>
<circle cx="308" cy="354.5" r="1.7" fill="#b2182b"/>
<circle cx="309" cy="358" r="1.7" fill="#d6604d"/>
<circle cx="308.7" cy="369.7" r="1.7" fill="#c43c3c"/>
<circle cx="310" cy="380" r="1.7" fill="#0b3b70"/>
<circle cx="311.7" cy="378.7" r="1.7" fill="#f7f7f7"/>
<circle cx="303.3" cy="383.3" r="1.7" fill="#0b3b70"/>
<circle cx="305.3" cy="387" r="1.7" fill="#e4eef4"/>
<circle cx="313" cy="387.3" r="1.7" fill="#d1e5f0"/>
<circle cx="315.7" cy="387.6" r="1.7" fill="#d1e5f0"/>
<circle cx="314.7" cy="389.4" r="1.7" fill="#e4eef4"/>
<circle cx="326.3" cy="368.7" r="1.7" fill="#fddbc7"/>
<circle cx="324.7" cy="390" r="1.7" fill="#f7f7f7"/>
<circle cx="264.7" cy="405" r="1.7" fill="#f7f7f7"/>
<circle cx="273" cy="409.3" r="1.7" fill="#f7f7f7"/>
<circle cx="221.3" cy="344.7" r="1.7" fill="#0b3b70"/>
<circle cx="220.4" cy="347" r="1.7" fill="#0b3b70"/>
<circle cx="226.7" cy="346" r="1.7" fill="#0d4078"/>
<circle cx="226.4" cy="349.3" r="1.7" fill="#6e0220"/>
<circle cx="231.3" cy="350" r="1.7" fill="#0b3b70"/>
<circle cx="234" cy="350.7" r="1.7" fill="#92c5de"/>
<circle cx="235.3" cy="353" r="1.7" fill="#d6604d"/>
<circle cx="226.6" cy="347.6" r="1.7" fill="#6e0220"/>
<circle cx="214.75" cy="353.44" r="1.7" fill="#0b3c71"/>
<circle cx="212.59" cy="353.11" r="1.7" fill="#09376b"/>
<circle cx="220.3" cy="352.86" r="1.7" fill="#073466"/>
<circle cx="217.43" cy="354.69" r="1.7" fill="#08376a"/>
<circle cx="215.85" cy="354.28" r="1.7" fill="#0f437b"/>
<circle cx="220.33" cy="353.26" r="1.7" fill="#0d4077"/>
<circle cx="219.44" cy="354.36" r="1.7" fill="#0d3f76"/>
<circle cx="212.52" cy="356.53" r="1.7" fill="#4190c1"/>
<circle cx="213.43" cy="353.26" r="1.7" fill="#09386c"/>
<circle cx="216.67" cy="357.55" r="1.7" fill="#0c3d74"/>
<circle cx="213.5" cy="353.9" r="1.7" fill="#09396d"/>
<circle cx="220.1" cy="356.47" r="1.7" fill="#063263"/>
<circle cx="215.34" cy="354.83" r="1.7" fill="#063264"/>
<circle cx="212" cy="353.45" r="1.7" fill="#144c88"/>
<circle cx="215.1" cy="353.29" r="1.7" fill="#0d4077"/>
<circle cx="219.05" cy="353.5" r="1.7" fill="#073568"/>
<circle cx="219.34" cy="356.5" r="1.7" fill="#124984"/>
<circle cx="218.9" cy="358.12" r="1.7" fill="#73b1d3"/>
<circle cx="212.24" cy="354.16" r="1.7" fill="#509cc8"/>
<circle cx="213.87" cy="353.87" r="1.7" fill="#144d8a"/>
<circle cx="212.72" cy="356.3" r="1.7" fill="#0d3f77"/>
<circle cx="220.26" cy="354.82" r="1.7" fill="#083669"/>
<circle cx="213.24" cy="357.23" r="1.7" fill="#0e427a"/>
<circle cx="216.48" cy="357.83" r="1.7" fill="#3d8bbf"/>
<circle cx="224.61" cy="353.57" r="1.7" fill="#0d3f76"/>
<circle cx="227.52" cy="354.31" r="1.7" fill="#083669"/>
<circle cx="230.2" cy="354.47" r="1.7" fill="#124984"/>
<circle cx="230.77" cy="354.15" r="1.7" fill="#f5f6f7"/>
<circle cx="226.93" cy="354.32" r="1.7" fill="#144c88"/>
<circle cx="231.58" cy="351.71" r="1.7" fill="#09386c"/>
<circle cx="223.35" cy="355.53" r="1.7" fill="#aed3e6"/>
<circle cx="233.38" cy="356.29" r="1.7" fill="#0b3b70"/>
<circle cx="228.15" cy="353.71" r="1.7" fill="#0e4178"/>
<circle cx="222.76" cy="352.55" r="1.7" fill="#073467"/>
<circle cx="223.29" cy="356.87" r="1.7" fill="#063264"/>
<circle cx="229.11" cy="356.09" r="1.7" fill="#134c88"/>
<circle cx="224.71" cy="351.65" r="1.7" fill="#083568"/>
<circle cx="230.61" cy="352.71" r="1.7" fill="#053162"/>
<circle cx="223.77" cy="353.93" r="1.7" fill="#76b3d5"/>
<circle cx="229.75" cy="357.28" r="1.7" fill="#10457e"/>
<circle cx="222.35" cy="355.69" r="1.7" fill="#134b87"/>
<circle cx="225.02" cy="353.83" r="1.7" fill="#154f8c"/>
<circle cx="225.21" cy="353.15" r="1.7" fill="#0d4078"/>
<circle cx="222.58" cy="353.44" r="1.7" fill="#09386b"/>
<circle cx="230.09" cy="356.6" r="1.7" fill="#eaf1f5"/>
<circle cx="232.2" cy="354.94" r="1.7" fill="#0e4179"/>
<circle cx="228.51" cy="356.69" r="1.7" fill="#063162"/>
<circle cx="228.2" cy="354.94" r="1.7" fill="#053061"/>
<circle cx="229.41" cy="351.24" r="1.7" fill="#09396d"/>
<circle cx="227.43" cy="353.32" r="1.7" fill="#0f447d"/>
<circle cx="230.42" cy="352.81" r="1.7" fill="#0a396d"/>
<circle cx="227.7" cy="353.87" r="1.7" fill="#5ba2cb"/>
<circle cx="265.8" cy="356.52" r="1.7" fill="#e5eff4"/>
<circle cx="255.49" cy="354.3" r="1.7" fill="#f8c0a4"/>
<circle cx="260.26" cy="346.53" r="1.7" fill="#0c3e74"/>
<circle cx="264.2" cy="355.52" r="1.7" fill="#f0f4f6"/>
<circle cx="255.03" cy="354.52" r="1.7" fill="#0b3b70"/>
<circle cx="265.68" cy="351.46" r="1.7" fill="#114882"/>
<circle cx="257.79" cy="342.73" r="1.7" fill="#f5f6f7"/>
<circle cx="258.01" cy="350.36" r="1.7" fill="#09376b"/>
<circle cx="260.25" cy="344.09" r="1.7" fill="#0d3f76"/>
<circle cx="259.69" cy="348.21" r="1.7" fill="#0d3f75"/>
<circle cx="266.44" cy="345.24" r="1.7" fill="#0e4179"/>
<circle cx="264.14" cy="355.44" r="1.7" fill="#6bacd1"/>
<circle cx="255.14" cy="344.32" r="1.7" fill="#c0dceb"/>
<circle cx="265.23" cy="345.49" r="1.7" fill="#8ac0db"/>
<circle cx="261.37" cy="350.74" r="1.7" fill="#124a85"/>
<circle cx="260.63" cy="345.52" r="1.7" fill="#6fafd2"/>
<circle cx="263.51" cy="355.88" r="1.7" fill="#edf2f5"/>
<circle cx="256.58" cy="356.55" r="1.7" fill="#fdd9c5"/>
<circle cx="256.85" cy="348.26" r="1.7" fill="#3986bd"/>
<circle cx="259.4" cy="355.47" r="1.7" fill="#1b5b9d"/>
<circle cx="263.47" cy="347.68" r="1.7" fill="#09376b"/>
<circle cx="256.61" cy="347.35" r="1.7" fill="#fbceb7"/>
<circle cx="266.95" cy="342.45" r="1.7" fill="#16518f"/>
<circle cx="266.98" cy="347.09" r="1.7" fill="#65a8ce"/>
<circle cx="267.25" cy="351.51" r="1.7" fill="#e7eff4"/>
<circle cx="260.9" cy="355.92" r="1.7" fill="#f8bea2"/>
<circle cx="265.23" cy="343.19" r="1.7" fill="#0b3b70"/>
<circle cx="268.32" cy="345.97" r="1.7" fill="#10467f"/>
<circle cx="264.72" cy="354.7" r="1.7" fill="#fae8dd"/>
<circle cx="257.18" cy="344.3" r="1.7" fill="#8cc1dc"/>
<circle cx="268.36" cy="343.53" r="1.7" fill="#7fb9d8"/>
<circle cx="262.25" cy="355.95" r="1.7" fill="#fbceb6"/>
<circle cx="256.76" cy="347.53" r="1.7" fill="#0b3b70"/>
<circle cx="256.28" cy="346.68" r="1.7" fill="#9fcce2"/>
<circle cx="255.96" cy="352.43" r="1.7" fill="#ebf1f5"/>
<circle cx="268.45" cy="347.46" r="1.7" fill="#0a396d"/>
<circle cx="260.41" cy="344.44" r="1.7" fill="#134c87"/>
<circle cx="257.75" cy="349.82" r="1.7" fill="#f6f7f7"/>
<circle cx="260.74" cy="342.8" r="1.7" fill="#fbe5d8"/>
<circle cx="266.2" cy="354.44" r="1.7" fill="#f1f4f6"/>
<circle cx="254.12" cy="350.44" r="1.7" fill="#fae8dd"/>
<circle cx="262.24" cy="348.39" r="1.7" fill="#0f437b"/>
<circle cx="260.37" cy="344.69" r="1.7" fill="#083669"/>
<circle cx="254.73" cy="353" r="1.7" fill="#70b0d2"/>
<circle cx="264.48" cy="354.22" r="1.7" fill="#10457f"/>
<circle cx="258.76" cy="353.34" r="1.7" fill="#fcd7c2"/>
<circle cx="261.09" cy="346.79" r="1.7" fill="#09376b"/>
<circle cx="261.46" cy="351.54" r="1.7" fill="#5da4cc"/>
<circle cx="265.47" cy="345.97" r="1.7" fill="#8fc3dd"/>
<circle cx="257.3" cy="351.59" r="1.7" fill="#a9d1e5"/>
<circle cx="261.19" cy="355.43" r="1.7" fill="#f8f0eb"/>
<circle cx="262.25" cy="350.84" r="1.7" fill="#10457d"/>
<circle cx="266.57" cy="353.73" r="1.7" fill="#d9e9f2"/>
<circle cx="264.5" cy="345.73" r="1.7" fill="#f7f6f5"/>
<circle cx="267.61" cy="344.13" r="1.7" fill="#10467f"/>
<circle cx="266.84" cy="353.74" r="1.7" fill="#fae8dd"/>
<circle cx="256.98" cy="342.58" r="1.7" fill="#154e8b"/>
<circle cx="261.35" cy="345.98" r="1.7" fill="#3d8bbf"/>
<circle cx="256.2" cy="347.5" r="1.7" fill="#7e0723"/>
<circle cx="254.6" cy="355" r="1.7" fill="#b2182b"/>
<circle cx="267.5" cy="355.5" r="1.7" fill="#9b1127"/>
<circle cx="262.7" cy="342" r="1.7" fill="#4393c3"/>
<circle cx="266" cy="343" r="1.7" fill="#286fb1"/>
</g>
<text x="257.55" y="331.1" text-anchor="middle" font-size="7.87">RMSE: Operational AI-GAMFS minus CAMS</text>
<rect x="196.3" y="415.3" width="126" height="7.2" fill="url(#gB)" stroke="#333" stroke-width="0.5"/>
<path d="M196.3 422.5v4.2M227.8 422.5v4.2M259.3 422.5v4.2M290.8 422.5v4.2M322.3 422.5v4.2" stroke="#222" stroke-width="0.55" fill="none"/>
<g text-anchor="middle">
<text x="196.9" y="436.4">−0.02</text>
<text x="228.4" y="436.4">−0.01</text>
<text x="259.3" y="436.4">0</text>
<text x="290.8" y="436.4">0.01</text>
<text x="322.3" y="436.4">0.02</text>
<text x="258.2" y="449.5">AOD</text>
</g>
<rect x="202.9" y="389.8" width="27" height="9" fill="#fff" fill-opacity="0.6"/>
<text x="215.7" y="397" text-anchor="middle" font-size="8.3">61.6%</text>
<use href="#bm" x="343.9" y="0"/>
<g stroke="#2a2a2a" stroke-width="0.35" stroke-opacity="0.8">
<circle cx="369.6" cy="364" r="1.7" fill="#fee8dd"/>
<circle cx="363" cy="379.6" r="1.7" fill="#fee8dd"/>
<circle cx="385.9" cy="342" r="1.7" fill="#fee4d8"/>
<circle cx="385.2" cy="344.5" r="1.7" fill="#fee4d8"/>
<circle cx="405.9" cy="339.6" r="1.7" fill="#fee8dd"/>
<circle cx="409.9" cy="338" r="1.7" fill="#fee8dd"/>
<circle cx="413.2" cy="339.3" r="1.7" fill="#fee8dd"/>
<circle cx="416.3" cy="343" r="1.7" fill="#fee4d8"/>
<circle cx="406.6" cy="358" r="1.7" fill="#fee4d8"/>
<circle cx="399.2" cy="360" r="1.7" fill="#fee4d8"/>
<circle cx="404.9" cy="365" r="1.7" fill="#fdcab5"/>
<circle cx="421.2" cy="355" r="1.7" fill="#fee1d3"/>
<circle cx="425.2" cy="360" r="1.7" fill="#fc9070"/>
<circle cx="422.2" cy="365.3" r="1.7" fill="#fc9a7b"/>
<circle cx="425.9" cy="376.7" r="1.7" fill="#fee1d3"/>
<circle cx="424.7" cy="366" r="1.7" fill="#fc9778"/>
<circle cx="395.2" cy="373.3" r="1.7" fill="#fee4d8"/>
<circle cx="399.9" cy="373" r="1.7" fill="#fee4d8"/>
<circle cx="407.9" cy="373.7" r="1.7" fill="#fed9c8"/>
<circle cx="401.2" cy="378.7" r="1.7" fill="#fee4d8"/>
<circle cx="404.6" cy="380.7" r="1.7" fill="#fee8dd"/>
<circle cx="406.4" cy="381" r="1.7" fill="#fee8dd"/>
<circle cx="403.9" cy="384.3" r="1.7" fill="#fee8dd"/>
<circle cx="409.9" cy="388.7" r="1.7" fill="#fee8dd"/>
<circle cx="414.1" cy="402" r="1.7" fill="#ffebe2"/>
<circle cx="433.9" cy="362.3" r="1.7" fill="#fc8a6a"/>
<circle cx="435.9" cy="357.6" r="1.7" fill="#fcbba1"/>
<circle cx="444.6" cy="358.7" r="1.7" fill="#fcab8e"/>
<circle cx="447.2" cy="362.7" r="1.7" fill="#fcab8e"/>
<circle cx="444.3" cy="356.7" r="1.7" fill="#fdcab5"/>
<circle cx="431.6" cy="370" r="1.7" fill="#fc9070"/>
<circle cx="433.6" cy="369" r="1.7" fill="#fc8464"/>
<circle cx="429.9" cy="370.5" r="1.7" fill="#fc9778"/>
<circle cx="429.2" cy="369.7" r="1.7" fill="#fca183"/>
<circle cx="445.6" cy="373" r="1.7" fill="#fdcab5"/>
<circle cx="448.3" cy="374.3" r="1.7" fill="#fcbba1"/>
<circle cx="447.2" cy="369" r="1.7" fill="#fed9c8"/>
<circle cx="444.3" cy="377.7" r="1.7" fill="#fed9c8"/>
<circle cx="441.2" cy="380" r="1.7" fill="#fee1d3"/>
<circle cx="437.9" cy="381.7" r="1.7" fill="#fee4d8"/>
<circle cx="440.6" cy="383.3" r="1.7" fill="#fee4d8"/>
<circle cx="442.6" cy="384.7" r="1.7" fill="#fee4d8"/>
<circle cx="444.3" cy="384.4" r="1.7" fill="#fee4d8"/>
<circle cx="439.2" cy="386" r="1.7" fill="#fee4d8"/>
<circle cx="440.9" cy="382" r="1.7" fill="#fee1d3"/>
<circle cx="429.2" cy="380.4" r="1.7" fill="#fee4d8"/>
<circle cx="425.9" cy="376.7" r="1.7" fill="#fee1d3"/>
<circle cx="453.9" cy="382.7" r="1.7" fill="#ffebe2"/>
<circle cx="461.2" cy="390" r="1.7" fill="#ffebe2"/>
<circle cx="460.6" cy="358.3" r="1.7" fill="#fc9a7b"/>
<circle cx="462.2" cy="360.4" r="1.7" fill="#fc9a7b"/>
<circle cx="458.6" cy="361.6" r="1.7" fill="#fcab8e"/>
<circle cx="465.6" cy="359.6" r="1.7" fill="#fee1d3"/>
<circle cx="454.5" cy="362.3" r="1.7" fill="#fcab8e"/>
<circle cx="462.9" cy="368" r="1.7" fill="#fed9c8"/>
<circle cx="467.2" cy="362.7" r="1.7" fill="#fed9c8"/>
<circle cx="468.9" cy="361" r="1.7" fill="#fee1d3"/>
<circle cx="471.5" cy="364" r="1.7" fill="#fee1d3"/>
<circle cx="472.6" cy="366" r="1.7" fill="#fee1d3"/>
<circle cx="472.6" cy="370" r="1.7" fill="#fed9c8"/>
<circle cx="473.2" cy="372.7" r="1.7" fill="#fee1d3"/>
<circle cx="474.2" cy="373" r="1.7" fill="#fee1d3"/>
<circle cx="475.2" cy="376" r="1.7" fill="#fcab8e"/>
<circle cx="472.9" cy="368" r="1.7" fill="#fed9c8"/>
<circle cx="472.4" cy="374" r="1.7" fill="#fee1d3"/>
<circle cx="476.6" cy="362.4" r="1.7" fill="#fee1d3"/>
<circle cx="479.2" cy="362" r="1.7" fill="#fcab8e"/>
<circle cx="480.2" cy="358.7" r="1.7" fill="#fed9c8"/>
<circle cx="482.6" cy="361" r="1.7" fill="#fee1d3"/>
<circle cx="475.2" cy="354.3" r="1.7" fill="#fdcab5"/>
<circle cx="479.5" cy="355.3" r="1.7" fill="#fed9c8"/>
<circle cx="480.6" cy="357.3" r="1.7" fill="#fee1d3"/>
<circle cx="483.9" cy="353.3" r="1.7" fill="#fee1d3"/>
<circle cx="483.5" cy="356" r="1.7" fill="#fee1d3"/>
<circle cx="485.6" cy="356.7" r="1.7" fill="#fee4d8"/>
<circle cx="481.9" cy="354.5" r="1.7" fill="#fee1d3"/>
<circle cx="482.9" cy="358" r="1.7" fill="#fee1d3"/>
<circle cx="482.6" cy="369.7" r="1.7" fill="#fee4d8"/>
<circle cx="480.9" cy="373.5" r="1.7" fill="#fee4d8"/>
<circle cx="483.9" cy="380" r="1.7" fill="#fee4d8"/>
<circle cx="485.6" cy="378.7" r="1.7" fill="#fee4d8"/>
<circle cx="477.2" cy="383.3" r="1.7" fill="#fee4d8"/>
<circle cx="479.2" cy="387" r="1.7" fill="#fee8dd"/>
<circle cx="486.9" cy="387.3" r="1.7" fill="#fee8dd"/>
<circle cx="489.6" cy="387.6" r="1.7" fill="#fee8dd"/>
<circle cx="488.6" cy="389.4" r="1.7" fill="#fee8dd"/>
<circle cx="490.4" cy="381.5" r="1.7" fill="#fee8dd"/>
<circle cx="500.2" cy="368.7" r="1.7" fill="#ffebe2"/>
<circle cx="498.6" cy="390" r="1.7" fill="#ffebe2"/>
<circle cx="438.6" cy="405" r="1.7" fill="#ffebe2"/>
<circle cx="446.9" cy="409.3" r="1.7" fill="#ffebe2"/>
<circle cx="429.9" cy="404.5" r="1.7" fill="#ffebe2"/>
<circle cx="395.2" cy="344.7" r="1.7" fill="#fee4d8"/>
<circle cx="394.3" cy="347" r="1.7" fill="#fee4d8"/>
<circle cx="400.6" cy="346" r="1.7" fill="#fee4d8"/>
<circle cx="400.3" cy="349.3" r="1.7" fill="#fee4d8"/>
<circle cx="405.2" cy="350" r="1.7" fill="#fee4d8"/>
<circle cx="407.9" cy="350.7" r="1.7" fill="#fee4d8"/>
<circle cx="409.2" cy="353" r="1.7" fill="#fee4d8"/>
<circle cx="388.65" cy="353.44" r="1.7" fill="#fee4d8"/>
<circle cx="386.49" cy="353.11" r="1.7" fill="#feddce"/>
<circle cx="394.2" cy="352.86" r="1.7" fill="#fee0d2"/>
<circle cx="391.33" cy="354.69" r="1.7" fill="#fee5d9"/>
<circle cx="389.75" cy="354.28" r="1.7" fill="#fedfd0"/>
<circle cx="394.23" cy="353.26" r="1.7" fill="#fee2d5"/>
<circle cx="393.34" cy="354.36" r="1.7" fill="#feddce"/>
<circle cx="386.42" cy="356.53" r="1.7" fill="#fee2d5"/>
<circle cx="387.33" cy="353.26" r="1.7" fill="#fedfd0"/>
<circle cx="390.57" cy="357.55" r="1.7" fill="#feded0"/>
<circle cx="387.4" cy="353.9" r="1.7" fill="#fee5da"/>
<circle cx="394" cy="356.47" r="1.7" fill="#fee0d3"/>
<circle cx="389.24" cy="354.83" r="1.7" fill="#fee9de"/>
<circle cx="385.9" cy="353.45" r="1.7" fill="#fee9df"/>
<circle cx="389" cy="353.29" r="1.7" fill="#feeae0"/>
<circle cx="392.95" cy="353.5" r="1.7" fill="#ffebe1"/>
<circle cx="393.24" cy="356.5" r="1.7" fill="#fee0d3"/>
<circle cx="392.8" cy="358.12" r="1.7" fill="#fee4d8"/>
<circle cx="386.14" cy="354.16" r="1.7" fill="#fedccc"/>
<circle cx="387.77" cy="353.87" r="1.7" fill="#fee4d8"/>
<circle cx="386.62" cy="356.3" r="1.7" fill="#fee0d2"/>
<circle cx="394.16" cy="354.82" r="1.7" fill="#fee9df"/>
<circle cx="387.14" cy="357.23" r="1.7" fill="#ffebe1"/>
<circle cx="390.38" cy="357.83" r="1.7" fill="#fee7dc"/>
<circle cx="398.51" cy="353.57" r="1.7" fill="#fedecf"/>
<circle cx="401.42" cy="354.31" r="1.7" fill="#fee0d2"/>
<circle cx="404.1" cy="354.47" r="1.7" fill="#fee3d7"/>
<circle cx="404.67" cy="354.15" r="1.7" fill="#fee4d8"/>
<circle cx="400.83" cy="354.32" r="1.7" fill="#fee7dd"/>
<circle cx="405.48" cy="351.71" r="1.7" fill="#fee2d5"/>
<circle cx="397.25" cy="355.53" r="1.7" fill="#feddce"/>
<circle cx="407.28" cy="356.29" r="1.7" fill="#fee7db"/>
<circle cx="402.05" cy="353.71" r="1.7" fill="#fedccd"/>
<circle cx="396.66" cy="352.55" r="1.7" fill="#fedecf"/>
<circle cx="397.19" cy="356.87" r="1.7" fill="#fee5d9"/>
<circle cx="403.01" cy="356.09" r="1.7" fill="#fee6db"/>
<circle cx="398.61" cy="351.65" r="1.7" fill="#fee8de"/>
<circle cx="404.51" cy="352.71" r="1.7" fill="#ffebe1"/>
<circle cx="397.67" cy="353.93" r="1.7" fill="#fedfd1"/>
<circle cx="403.65" cy="357.28" r="1.7" fill="#fee6db"/>
<circle cx="396.25" cy="355.69" r="1.7" fill="#fee2d5"/>
<circle cx="398.92" cy="353.83" r="1.7" fill="#fee4d7"/>
<circle cx="399.11" cy="353.15" r="1.7" fill="#fee4d8"/>
<circle cx="396.48" cy="353.44" r="1.7" fill="#fee4d7"/>
<circle cx="403.99" cy="356.6" r="1.7" fill="#fee2d5"/>
<circle cx="406.1" cy="354.94" r="1.7" fill="#fedfd1"/>
<circle cx="402.41" cy="356.69" r="1.7" fill="#fee6db"/>
<circle cx="402.1" cy="354.94" r="1.7" fill="#fee1d3"/>
<circle cx="403.31" cy="351.24" r="1.7" fill="#fee8de"/>
<circle cx="401.33" cy="353.32" r="1.7" fill="#feeae0"/>
<circle cx="404.32" cy="352.81" r="1.7" fill="#fee2d4"/>
<circle cx="401.6" cy="353.87" r="1.7" fill="#feddce"/>
<circle cx="439.7" cy="356.52" r="1.7" fill="#fee6da"/>
<circle cx="429.39" cy="354.3" r="1.7" fill="#fee7dc"/>
<circle cx="434.16" cy="346.53" r="1.7" fill="#fed9c9"/>
<circle cx="438.1" cy="355.52" r="1.7" fill="#fee2d5"/>
<circle cx="428.93" cy="354.52" r="1.7" fill="#fee3d6"/>
<circle cx="439.58" cy="351.46" r="1.7" fill="#fee2d4"/>
<circle cx="431.69" cy="342.73" r="1.7" fill="#fdd6c5"/>
<circle cx="431.91" cy="350.36" r="1.7" fill="#fee5d9"/>
<circle cx="434.15" cy="344.09" r="1.7" fill="#fee0d2"/>
<circle cx="433.59" cy="348.21" r="1.7" fill="#fdd3c0"/>
<circle cx="440.34" cy="345.24" r="1.7" fill="#fed9c8"/>
<circle cx="438.04" cy="355.44" r="1.7" fill="#fed9c9"/>
<circle cx="429.04" cy="344.32" r="1.7" fill="#fee1d4"/>
<circle cx="439.13" cy="345.49" r="1.7" fill="#feddce"/>
<circle cx="435.27" cy="350.74" r="1.7" fill="#fdd7c6"/>
<circle cx="434.53" cy="345.52" r="1.7" fill="#feddce"/>
<circle cx="437.41" cy="355.88" r="1.7" fill="#fedacb"/>
<circle cx="430.48" cy="356.55" r="1.7" fill="#fed7c6"/>
<circle cx="430.75" cy="348.26" r="1.7" fill="#fdd2c0"/>
<circle cx="433.3" cy="355.47" r="1.7" fill="#fed7c6"/>
<circle cx="437.37" cy="347.68" r="1.7" fill="#fdd7c6"/>
<circle cx="430.51" cy="347.35" r="1.7" fill="#fed8c7"/>
<circle cx="440.85" cy="342.45" r="1.7" fill="#fed8c7"/>
<circle cx="440.88" cy="347.09" r="1.7" fill="#fee4d8"/>
<circle cx="441.15" cy="351.51" r="1.7" fill="#fdccb8"/>
<circle cx="434.8" cy="355.92" r="1.7" fill="#fee3d7"/>
<circle cx="439.13" cy="343.19" r="1.7" fill="#fee3d7"/>
<circle cx="442.22" cy="345.97" r="1.7" fill="#fee2d5"/>
<circle cx="438.62" cy="354.7" r="1.7" fill="#fedccc"/>
<circle cx="431.08" cy="344.3" r="1.7" fill="#fee4d8"/>
<circle cx="442.26" cy="343.53" r="1.7" fill="#fee6db"/>
<circle cx="436.15" cy="355.95" r="1.7" fill="#fdd3c1"/>
<circle cx="430.66" cy="347.53" r="1.7" fill="#fee7dd"/>
<circle cx="430.18" cy="346.68" r="1.7" fill="#fee0d2"/>
<circle cx="429.86" cy="352.43" r="1.7" fill="#fee3d6"/>
<circle cx="442.35" cy="347.46" r="1.7" fill="#fedaca"/>
<circle cx="434.31" cy="344.44" r="1.7" fill="#fee3d6"/>
<circle cx="431.65" cy="349.82" r="1.7" fill="#fee6da"/>
<circle cx="434.64" cy="342.8" r="1.7" fill="#fedbcb"/>
<circle cx="440.1" cy="354.44" r="1.7" fill="#fee4d8"/>
<circle cx="428.02" cy="350.44" r="1.7" fill="#feded0"/>
<circle cx="436.14" cy="348.39" r="1.7" fill="#fee4d8"/>
<circle cx="434.27" cy="344.69" r="1.7" fill="#fee1d3"/>
<circle cx="428.63" cy="353" r="1.7" fill="#fdd2c0"/>
<circle cx="438.38" cy="354.22" r="1.7" fill="#fedbcb"/>
<circle cx="432.66" cy="353.34" r="1.7" fill="#fed8c7"/>
<circle cx="434.99" cy="346.79" r="1.7" fill="#fdd2bf"/>
<circle cx="435.36" cy="351.54" r="1.7" fill="#fdd6c5"/>
<circle cx="439.37" cy="345.97" r="1.7" fill="#fedccc"/>
<circle cx="431.2" cy="351.59" r="1.7" fill="#fee6da"/>
<circle cx="435.09" cy="355.43" r="1.7" fill="#fee6db"/>
<circle cx="436.15" cy="350.84" r="1.7" fill="#fee6da"/>
<circle cx="440.47" cy="353.73" r="1.7" fill="#fedecf"/>
<circle cx="438.4" cy="345.73" r="1.7" fill="#fedbcb"/>
<circle cx="441.51" cy="344.13" r="1.7" fill="#fee3d7"/>
<circle cx="440.74" cy="353.74" r="1.7" fill="#fee1d4"/>
<circle cx="430.88" cy="342.58" r="1.7" fill="#fee0d2"/>
<circle cx="435.25" cy="345.98" r="1.7" fill="#fee4d8"/>
<circle cx="436.6" cy="342" r="1.7" fill="#fee4d8"/>
<circle cx="439.9" cy="343" r="1.7" fill="#fee4d8"/>
<circle cx="403.95" cy="345.89" r="1.7" fill="#fee7dc"/>
<circle cx="401.7" cy="348.45" r="1.7" fill="#fedfd1"/>
<circle cx="403" cy="349.6" r="1.7" fill="#fee2d5"/>
<circle cx="393.53" cy="347.96" r="1.7" fill="#fee0d2"/>
<circle cx="391.48" cy="350.1" r="1.7" fill="#fee9df"/>
<circle cx="402.91" cy="348.04" r="1.7" fill="#fee2d5"/>
<circle cx="396.49" cy="349.32" r="1.7" fill="#fee0d3"/>
<circle cx="407.23" cy="350.21" r="1.7" fill="#fee9de"/>
<circle cx="405.93" cy="349.28" r="1.7" fill="#fee1d4"/>
<circle cx="391.35" cy="344.29" r="1.7" fill="#fee9de"/>
<circle cx="389.81" cy="345.4" r="1.7" fill="#fee3d6"/>
<circle cx="408.2" cy="347.13" r="1.7" fill="#fee4d7"/>
<circle cx="397.91" cy="349.01" r="1.7" fill="#fee3d6"/>
</g>
<text x="431.45" y="331.1" text-anchor="middle" font-size="7.87">RMSE: Operational AI-GAMFS</text>
<rect x="370.2" y="415.3" width="126" height="7.2" fill="url(#gR)" stroke="#333" stroke-width="0.5"/>
<path d="M370.2 422.5v4.2M401.7 422.5v4.2M433.2 422.5v4.2M464.7 422.5v4.2M496.2 422.5v4.2" stroke="#222" stroke-width="0.55" fill="none"/>
<g text-anchor="middle">
<text x="370.2" y="436.4">0</text>
<text x="401.7" y="436.4">0.1</text>
<text x="433.2" y="436.4">0.2</text>
<text x="464.7" y="436.4">0.3</text>
<text x="496.2" y="436.4">0.4</text>
<text x="431.7" y="449.5">DUAOD</text>
</g>
<use href="#bm" x="518.9" y="0"/>
<g stroke="#2a2a2a" stroke-width="0.35" stroke-opacity="0.8">
<circle cx="544.6" cy="364" r="1.7" fill="#f7f7f7"/>
<circle cx="538" cy="379.6" r="1.7" fill="#f7f7f7"/>
<circle cx="560.9" cy="342" r="1.7" fill="#92c5de"/>
<circle cx="560.2" cy="344.5" r="1.7" fill="#b2d5e7"/>
<circle cx="580.9" cy="339.6" r="1.7" fill="#d6604d"/>
<circle cx="584.9" cy="338" r="1.7" fill="#f7f7f7"/>
<circle cx="588.2" cy="339.3" r="1.7" fill="#f7f7f7"/>
<circle cx="591.3" cy="343" r="1.7" fill="#d9e9f1"/>
<circle cx="581.6" cy="358" r="1.7" fill="#b2d5e7"/>
<circle cx="574.2" cy="360" r="1.7" fill="#92c5de"/>
<circle cx="579.9" cy="365" r="1.7" fill="#0b3b70"/>
<circle cx="596.2" cy="355" r="1.7" fill="#539dc8"/>
<circle cx="600.2" cy="360" r="1.7" fill="#0b3b70"/>
<circle cx="597.2" cy="365.3" r="1.7" fill="#3c8abe"/>
<circle cx="600.9" cy="376.7" r="1.7" fill="#286fb1"/>
<circle cx="599.7" cy="366" r="1.7" fill="#10467f"/>
<circle cx="570.2" cy="373.3" r="1.7" fill="#f7f7f7"/>
<circle cx="574.9" cy="373" r="1.7" fill="#e4eef4"/>
<circle cx="582.9" cy="373.7" r="1.7" fill="#d1e5f0"/>
<circle cx="576.2" cy="378.7" r="1.7" fill="#d1e5f0"/>
<circle cx="579.6" cy="380.7" r="1.7" fill="#f7f7f7"/>
<circle cx="581.4" cy="381" r="1.7" fill="#92c5de"/>
<circle cx="578.9" cy="384.3" r="1.7" fill="#f7f7f7"/>
<circle cx="584.9" cy="388.7" r="1.7" fill="#92c5de"/>
<circle cx="589.1" cy="402" r="1.7" fill="#f7f7f7"/>
<circle cx="583.3" cy="390.9" r="1.7" fill="#083568"/>
<circle cx="612.1" cy="356.5" r="1.7" fill="#760521"/>
<circle cx="615.4" cy="356.6" r="1.7" fill="#fddbc7"/>
<circle cx="617.9" cy="356" r="1.7" fill="#f8bb9e"/>
<circle cx="561.1" cy="355.2" r="1.7" fill="#053061"/>
<circle cx="562.2" cy="356.6" r="1.7" fill="#0b3b70"/>
<circle cx="563.5" cy="354.2" r="1.7" fill="#1b5b9d"/>
<circle cx="565.1" cy="355.8" r="1.7" fill="#10467f"/>
<circle cx="608.9" cy="362.3" r="1.7" fill="#92c5de"/>
<circle cx="610.9" cy="357.6" r="1.7" fill="#2166ac"/>
<circle cx="619.6" cy="358.7" r="1.7" fill="#f4a582"/>
<circle cx="622.2" cy="362.7" r="1.7" fill="#0b3b70"/>
<circle cx="619.3" cy="356.7" r="1.7" fill="#fbd0b9"/>
<circle cx="606.6" cy="370" r="1.7" fill="#0b3b70"/>
<circle cx="608.6" cy="369" r="1.7" fill="#0b3b70"/>
<circle cx="604.9" cy="370.5" r="1.7" fill="#0b3b70"/>
<circle cx="604.2" cy="369.7" r="1.7" fill="#0d4078"/>
<circle cx="620.6" cy="373" r="1.7" fill="#d1e5f0"/>
<circle cx="623.3" cy="374.3" r="1.7" fill="#92c5de"/>
<circle cx="622.2" cy="369" r="1.7" fill="#d1e5f0"/>
<circle cx="619.3" cy="377.7" r="1.7" fill="#e4eef4"/>
<circle cx="616.2" cy="380" r="1.7" fill="#e4eef4"/>
<circle cx="612.9" cy="381.7" r="1.7" fill="#d1e5f0"/>
<circle cx="615.6" cy="383.3" r="1.7" fill="#e4eef4"/>
<circle cx="617.6" cy="384.7" r="1.7" fill="#d1e5f0"/>
<circle cx="619.3" cy="384.4" r="1.7" fill="#d1e5f0"/>
<circle cx="614.2" cy="386" r="1.7" fill="#b2d5e7"/>
<circle cx="615.9" cy="382" r="1.7" fill="#e4eef4"/>
<circle cx="604.2" cy="380.4" r="1.7" fill="#4393c3"/>
<circle cx="600.9" cy="376.7" r="1.7" fill="#286fb1"/>
<circle cx="628.9" cy="382.7" r="1.7" fill="#f7f7f7"/>
<circle cx="636.2" cy="390" r="1.7" fill="#f7f7f7"/>
<circle cx="635.6" cy="358.3" r="1.7" fill="#0b3b70"/>
<circle cx="637.2" cy="360.4" r="1.7" fill="#0b3b70"/>
<circle cx="633.6" cy="361.6" r="1.7" fill="#0b3b70"/>
<circle cx="640.6" cy="359.6" r="1.7" fill="#fbd0b9"/>
<circle cx="629.5" cy="362.3" r="1.7" fill="#e4eef4"/>
<circle cx="637.9" cy="368" r="1.7" fill="#0b3b70"/>
<circle cx="642.2" cy="362.7" r="1.7" fill="#0b3b70"/>
<circle cx="643.9" cy="361" r="1.7" fill="#0b3b70"/>
<circle cx="646.5" cy="364" r="1.7" fill="#4393c3"/>
<circle cx="647.6" cy="366" r="1.7" fill="#6aacd0"/>
<circle cx="647.6" cy="370" r="1.7" fill="#6aacd0"/>
<circle cx="648.2" cy="372.7" r="1.7" fill="#f7f7f7"/>
<circle cx="649.2" cy="373" r="1.7" fill="#f7f7f7"/>
<circle cx="650.2" cy="376" r="1.7" fill="#e4eef4"/>
<circle cx="647.9" cy="368" r="1.7" fill="#4393c3"/>
<circle cx="647.4" cy="374" r="1.7" fill="#f7f7f7"/>
<circle cx="651.6" cy="362.4" r="1.7" fill="#4393c3"/>
<circle cx="654.2" cy="362" r="1.7" fill="#4393c3"/>
<circle cx="655.2" cy="358.7" r="1.7" fill="#134b86"/>
<circle cx="657.6" cy="361" r="1.7" fill="#134b86"/>
<circle cx="650.2" cy="354.3" r="1.7" fill="#0b3b70"/>
<circle cx="654.5" cy="355.3" r="1.7" fill="#0b3b70"/>
<circle cx="655.6" cy="357.3" r="1.7" fill="#0b3b70"/>
<circle cx="658.9" cy="353.3" r="1.7" fill="#0b3b70"/>
<circle cx="658.5" cy="356" r="1.7" fill="#0b3b70"/>
<circle cx="660.6" cy="356.7" r="1.7" fill="#0b3b70"/>
<circle cx="656.9" cy="354.5" r="1.7" fill="#0b3b70"/>
<circle cx="657.9" cy="358" r="1.7" fill="#0b3b70"/>
<circle cx="657.6" cy="369.7" r="1.7" fill="#f7f7f7"/>
<circle cx="655.9" cy="373.5" r="1.7" fill="#f7f7f7"/>
<circle cx="658.9" cy="380" r="1.7" fill="#f7f7f7"/>
<circle cx="660.6" cy="378.7" r="1.7" fill="#f7f7f7"/>
<circle cx="652.2" cy="383.3" r="1.7" fill="#92c5de"/>
<circle cx="654.2" cy="387" r="1.7" fill="#d1e5f0"/>
<circle cx="661.9" cy="387.3" r="1.7" fill="#e4eef4"/>
<circle cx="664.6" cy="387.6" r="1.7" fill="#f7f7f7"/>
<circle cx="663.6" cy="389.4" r="1.7" fill="#f7f7f7"/>
<circle cx="665.4" cy="381.5" r="1.7" fill="#f7f7f7"/>
<circle cx="675.2" cy="368.7" r="1.7" fill="#f7f7f7"/>
<circle cx="673.6" cy="390" r="1.7" fill="#f7f7f7"/>
<circle cx="613.6" cy="405" r="1.7" fill="#f7f7f7"/>
<circle cx="621.9" cy="409.3" r="1.7" fill="#f7f7f7"/>
<circle cx="604.9" cy="404.5" r="1.7" fill="#f7f7f7"/>
<circle cx="570.2" cy="344.7" r="1.7" fill="#d1e5f0"/>
<circle cx="569.3" cy="347" r="1.7" fill="#b2d5e7"/>
<circle cx="575.6" cy="346" r="1.7" fill="#e4eef4"/>
<circle cx="575.3" cy="349.3" r="1.7" fill="#d1e5f0"/>
<circle cx="580.2" cy="350" r="1.7" fill="#e4eef4"/>
<circle cx="582.9" cy="350.7" r="1.7" fill="#e4eef4"/>
<circle cx="584.2" cy="353" r="1.7" fill="#d1e5f0"/>
<circle cx="563.65" cy="353.44" r="1.7" fill="#0f437b"/>
<circle cx="561.49" cy="353.11" r="1.7" fill="#4b98c6"/>
<circle cx="569.2" cy="352.86" r="1.7" fill="#124984"/>
<circle cx="566.33" cy="354.69" r="1.7" fill="#61a6cd"/>
<circle cx="564.75" cy="354.28" r="1.7" fill="#4190c1"/>
<circle cx="569.23" cy="353.26" r="1.7" fill="#b6d7e8"/>
<circle cx="568.34" cy="354.36" r="1.7" fill="#6aacd0"/>
<circle cx="561.42" cy="356.53" r="1.7" fill="#0f447d"/>
<circle cx="562.33" cy="353.26" r="1.7" fill="#0f437c"/>
<circle cx="565.57" cy="357.55" r="1.7" fill="#9ccae1"/>
<circle cx="562.4" cy="353.9" r="1.7" fill="#5fa4cc"/>
<circle cx="569" cy="356.47" r="1.7" fill="#c4dfec"/>
<circle cx="564.24" cy="354.83" r="1.7" fill="#3580b9"/>
<circle cx="560.9" cy="353.45" r="1.7" fill="#4594c4"/>
<circle cx="564" cy="353.29" r="1.7" fill="#408ec1"/>
<circle cx="567.95" cy="353.5" r="1.7" fill="#8fc3dd"/>
<circle cx="568.24" cy="356.5" r="1.7" fill="#3d8cbf"/>
<circle cx="567.8" cy="358.12" r="1.7" fill="#337eb8"/>
<circle cx="561.14" cy="354.16" r="1.7" fill="#a9d1e5"/>
<circle cx="562.77" cy="353.87" r="1.7" fill="#7ab6d6"/>
<circle cx="561.62" cy="356.3" r="1.7" fill="#7ab6d6"/>
<circle cx="569.16" cy="354.82" r="1.7" fill="#c5dfed"/>
<circle cx="562.14" cy="357.23" r="1.7" fill="#bbdaea"/>
<circle cx="565.38" cy="357.83" r="1.7" fill="#124984"/>
<circle cx="573.51" cy="353.57" r="1.7" fill="#c9e1ee"/>
<circle cx="576.42" cy="354.31" r="1.7" fill="#317bb7"/>
<circle cx="579.1" cy="354.47" r="1.7" fill="#8bc1dc"/>
<circle cx="579.67" cy="354.15" r="1.7" fill="#b4d6e8"/>
<circle cx="575.83" cy="354.32" r="1.7" fill="#cce2ee"/>
<circle cx="580.48" cy="351.71" r="1.7" fill="#c7e0ed"/>
<circle cx="572.25" cy="355.53" r="1.7" fill="#a1cce2"/>
<circle cx="582.28" cy="356.29" r="1.7" fill="#6dadd1"/>
<circle cx="577.05" cy="353.71" r="1.7" fill="#cee4ef"/>
<circle cx="571.66" cy="352.55" r="1.7" fill="#e0ecf3"/>
<circle cx="572.19" cy="356.87" r="1.7" fill="#4190c2"/>
<circle cx="578.01" cy="356.09" r="1.7" fill="#cae1ee"/>
<circle cx="573.61" cy="351.65" r="1.7" fill="#8fc3dd"/>
<circle cx="579.51" cy="352.71" r="1.7" fill="#a7cfe4"/>
<circle cx="572.67" cy="353.93" r="1.7" fill="#a2cde3"/>
<circle cx="578.65" cy="357.28" r="1.7" fill="#256caf"/>
<circle cx="571.25" cy="355.69" r="1.7" fill="#87beda"/>
<circle cx="573.92" cy="353.83" r="1.7" fill="#cee3ef"/>
<circle cx="574.11" cy="353.15" r="1.7" fill="#2a72b2"/>
<circle cx="571.48" cy="353.44" r="1.7" fill="#b1d5e7"/>
<circle cx="578.99" cy="356.6" r="1.7" fill="#3d8cbf"/>
<circle cx="581.1" cy="354.94" r="1.7" fill="#f2f5f6"/>
<circle cx="577.41" cy="356.69" r="1.7" fill="#3d8cbf"/>
<circle cx="577.1" cy="354.94" r="1.7" fill="#a5cfe3"/>
<circle cx="578.31" cy="351.24" r="1.7" fill="#cfe4ef"/>
<circle cx="576.33" cy="353.32" r="1.7" fill="#2a71b2"/>
<circle cx="579.32" cy="352.81" r="1.7" fill="#8dc2dc"/>
<circle cx="576.6" cy="353.87" r="1.7" fill="#317bb7"/>
<circle cx="614.7" cy="356.52" r="1.7" fill="#b4d6e8"/>
<circle cx="604.39" cy="354.3" r="1.7" fill="#327cb7"/>
<circle cx="609.16" cy="346.53" r="1.7" fill="#4090c1"/>
<circle cx="613.1" cy="355.52" r="1.7" fill="#58a0ca"/>
<circle cx="603.93" cy="354.52" r="1.7" fill="#fcdecd"/>
<circle cx="614.58" cy="351.46" r="1.7" fill="#e7eff4"/>
<circle cx="606.69" cy="342.73" r="1.7" fill="#99c9e0"/>
<circle cx="606.91" cy="350.36" r="1.7" fill="#f7f7f7"/>
<circle cx="609.15" cy="344.09" r="1.7" fill="#ecf2f5"/>
<circle cx="608.59" cy="348.21" r="1.7" fill="#97c8df"/>
<circle cx="615.34" cy="345.24" r="1.7" fill="#2267ad"/>
<circle cx="613.04" cy="355.44" r="1.7" fill="#f8f0eb"/>
<circle cx="604.04" cy="344.32" r="1.7" fill="#57a0ca"/>
<circle cx="614.13" cy="345.49" r="1.7" fill="#2369ae"/>
<circle cx="610.27" cy="350.74" r="1.7" fill="#f2f4f6"/>
<circle cx="609.53" cy="345.52" r="1.7" fill="#6fafd2"/>
<circle cx="612.41" cy="355.88" r="1.7" fill="#e0ecf3"/>
<circle cx="605.48" cy="356.55" r="1.7" fill="#68aacf"/>
<circle cx="605.75" cy="348.26" r="1.7" fill="#2369ad"/>
<circle cx="608.3" cy="355.47" r="1.7" fill="#c7e0ed"/>
<circle cx="612.37" cy="347.68" r="1.7" fill="#4291c2"/>
<circle cx="605.51" cy="347.35" r="1.7" fill="#7bb6d6"/>
<circle cx="615.85" cy="342.45" r="1.7" fill="#a2cde2"/>
<circle cx="615.88" cy="347.09" r="1.7" fill="#3b88bd"/>
<circle cx="616.15" cy="351.51" r="1.7" fill="#82bbd9"/>
<circle cx="609.8" cy="355.92" r="1.7" fill="#7bb6d6"/>
<circle cx="614.13" cy="343.19" r="1.7" fill="#fcdecd"/>
<circle cx="617.22" cy="345.97" r="1.7" fill="#9bcae1"/>
<circle cx="613.62" cy="354.7" r="1.7" fill="#6eaed2"/>
<circle cx="606.08" cy="344.3" r="1.7" fill="#e7f0f4"/>
<circle cx="617.26" cy="343.53" r="1.7" fill="#b5d7e8"/>
<circle cx="611.15" cy="355.95" r="1.7" fill="#96c7df"/>
<circle cx="605.66" cy="347.53" r="1.7" fill="#9bcae1"/>
<circle cx="605.18" cy="346.68" r="1.7" fill="#cbe2ee"/>
<circle cx="604.86" cy="352.43" r="1.7" fill="#acd2e5"/>
<circle cx="617.35" cy="347.46" r="1.7" fill="#add3e6"/>
<circle cx="609.31" cy="344.44" r="1.7" fill="#63a7ce"/>
<circle cx="606.65" cy="349.82" r="1.7" fill="#fddcc8"/>
<circle cx="609.64" cy="342.8" r="1.7" fill="#80b9d8"/>
<circle cx="615.1" cy="354.44" r="1.7" fill="#f2f5f6"/>
<circle cx="603.02" cy="350.44" r="1.7" fill="#81bad8"/>
<circle cx="611.14" cy="348.39" r="1.7" fill="#edf2f5"/>
<circle cx="609.27" cy="344.69" r="1.7" fill="#3783bb"/>
<circle cx="603.63" cy="353" r="1.7" fill="#f7f7f7"/>
<circle cx="613.38" cy="354.22" r="1.7" fill="#f7f5f4"/>
<circle cx="607.66" cy="353.34" r="1.7" fill="#70afd2"/>
<circle cx="609.99" cy="346.79" r="1.7" fill="#cde3ef"/>
<circle cx="610.36" cy="351.54" r="1.7" fill="#7eb9d7"/>
<circle cx="614.37" cy="345.97" r="1.7" fill="#3d8bbf"/>
<circle cx="606.2" cy="351.59" r="1.7" fill="#83bbd9"/>
<circle cx="610.09" cy="355.43" r="1.7" fill="#6cadd1"/>
<circle cx="611.15" cy="350.84" r="1.7" fill="#3783bb"/>
<circle cx="615.47" cy="353.73" r="1.7" fill="#b2d5e7"/>
<circle cx="613.4" cy="345.73" r="1.7" fill="#347fb9"/>
<circle cx="616.51" cy="344.13" r="1.7" fill="#58a0ca"/>
<circle cx="615.74" cy="353.74" r="1.7" fill="#5ea4cc"/>
<circle cx="605.88" cy="342.58" r="1.7" fill="#a5cfe3"/>
<circle cx="610.25" cy="345.98" r="1.7" fill="#f4f6f7"/>
<circle cx="611.6" cy="342" r="1.7" fill="#d1e5f0"/>
<circle cx="614.9" cy="343" r="1.7" fill="#e4eef4"/>
<circle cx="578.95" cy="345.89" r="1.7" fill="#d4e7f1"/>
<circle cx="576.7" cy="348.45" r="1.7" fill="#f7f5f4"/>
<circle cx="578" cy="349.6" r="1.7" fill="#eaf1f5"/>
<circle cx="568.53" cy="347.96" r="1.7" fill="#94c6df"/>
<circle cx="566.48" cy="350.1" r="1.7" fill="#95c7df"/>
<circle cx="577.91" cy="348.04" r="1.7" fill="#bfdceb"/>
<circle cx="571.49" cy="349.32" r="1.7" fill="#d3e6f0"/>
<circle cx="582.23" cy="350.21" r="1.7" fill="#95c6df"/>
<circle cx="580.93" cy="349.28" r="1.7" fill="#e9f0f4"/>
<circle cx="566.35" cy="344.29" r="1.7" fill="#b2d5e7"/>
<circle cx="564.81" cy="345.4" r="1.7" fill="#aad1e5"/>
<circle cx="583.2" cy="347.13" r="1.7" fill="#b1d5e7"/>
<circle cx="572.91" cy="349.01" r="1.7" fill="#e7eff4"/>
</g>
<text x="606.45" y="331.1" text-anchor="middle" font-size="7.87">RMSE: Operational AI-GAMFS minus CAMS</text>
<rect x="545.2" y="415.3" width="126" height="7.2" fill="url(#gB)" stroke="#333" stroke-width="0.5"/>
<path d="M545.2 422.5v4.2M576.7 422.5v4.2M608.2 422.5v4.2M639.7 422.5v4.2M671.2 422.5v4.2" stroke="#222" stroke-width="0.55" fill="none"/>
<g text-anchor="middle">
<text x="545.8" y="436.4">−0.02</text>
<text x="577.3" y="436.4">−0.01</text>
<text x="608.2" y="436.4">0</text>
<text x="639.7" y="436.4">0.01</text>
<text x="671.2" y="436.4">0.02</text>
<text x="607" y="449.5">DUAOD</text>
</g>
<rect x="551.8" y="389.8" width="27" height="9" fill="#fff" fill-opacity="0.6"/>
<text x="564.6" y="397" text-anchor="middle" font-size="8.3">86.0%</text>
</svg>
</body></html>
